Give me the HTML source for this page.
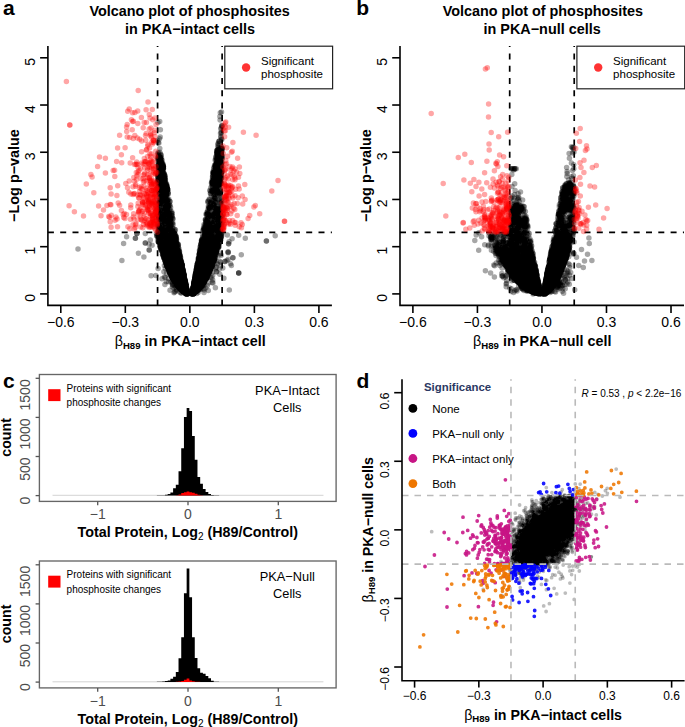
<!DOCTYPE html>
<html><head><meta charset="utf-8"><style>
html,body{margin:0;padding:0;background:#fff;width:685px;height:727px;overflow:hidden}
svg{display:block}
text{font-family:"Liberation Sans", sans-serif}
</style></head><body>
<svg width="685" height="727" viewBox="0 0 685 727">
<text x="2.90" y="14.70" font-size="21" font-weight="bold">a</text>
<text x="189.60" y="16.30" font-size="14.4" font-weight="bold" text-anchor="middle">Volcano plot of phosphosites</text>
<text x="190.00" y="33.90" font-size="14.4" font-weight="bold" text-anchor="middle">in PKA−intact cells</text>
<line x1="157.58" y1="305.40" x2="157.58" y2="46.10" stroke="#000" stroke-width="1.7" stroke-dasharray="6 6.3"/>
<line x1="222.12" y1="305.40" x2="222.12" y2="46.10" stroke="#000" stroke-width="1.7" stroke-dasharray="6 6.3"/>
<line x1="47.90" y1="232.47" x2="331.90" y2="232.47" stroke="#000" stroke-width="1.7" stroke-dasharray="6 6.3"/>
<text x="356.20" y="14.70" font-size="21" font-weight="bold">b</text>
<text x="542.90" y="16.30" font-size="14.4" font-weight="bold" text-anchor="middle">Volcano plot of phosphosites</text>
<text x="542.10" y="33.90" font-size="14.4" font-weight="bold" text-anchor="middle">in PKA−null cells</text>
<line x1="509.69" y1="305.40" x2="509.69" y2="46.10" stroke="#000" stroke-width="1.7" stroke-dasharray="6 6.3"/>
<line x1="574.22" y1="305.40" x2="574.22" y2="46.10" stroke="#000" stroke-width="1.7" stroke-dasharray="6 6.3"/>
<line x1="400.00" y1="232.47" x2="684.00" y2="232.47" stroke="#000" stroke-width="1.7" stroke-dasharray="6 6.3"/>
<clipPath id="clipa"><rect x="47.90" y="46.10" width="284.00" height="259.30"/></clipPath><g clip-path="url(#clipa)"><path fill="#000" d="M219 145.5h0.5v0.5h-0.5zM220 146h1.5v0.5h-1.5zM219 146.5h3v0.5h-3zM218.5 147h4.5v0.5h-4.5zM217.5 147.5h5.5v0.5h-5.5zM217 148h6v0.5h-6zM216 148.5h7v0.5h-7zM216 149h7.5v0.5h-7.5zM215.5 149.5h7.5v0.5h-7.5zM215.5 150h8v0.5h-8zM215 150.5h8.5v0.5h-8.5zM215 151h8.5v0.5h-8.5zM215 151.5h8.5v0.5h-8.5zM214.5 152h9v0.5h-9zM215 152.5h8.5v0.5h-8.5zM215 153h8.5v0.5h-8.5zM158.5 153.5h2v0.5h-2zM215 153.5h8.5v0.5h-8.5zM158.5 154h2v0.5h-2zM215 154h8.5v0.5h-8.5zM158 154.5h2.5v0.5h-2.5zM215 154.5h8.5v0.5h-8.5zM157.5 155h4v0.5h-4zM215 155h8.5v0.5h-8.5zM157.5 155.5h4v0.5h-4zM215 155.5h8.5v0.5h-8.5zM157 156h5v0.5h-5zM215 156h9v0.5h-9zM157 156.5h5.5v0.5h-5.5zM215 156.5h8.5v0.5h-8.5zM156.5 157h6v0.5h-6zM215 157h8.5v0.5h-8.5zM157 157.5h6v0.5h-6zM215 157.5h8.5v0.5h-8.5zM156.5 158h6.5v0.5h-6.5zM215 158h8v0.5h-8zM157 158.5h6v0.5h-6zM214.5 158.5h8v0.5h-8zM157 159h6v0.5h-6zM214.5 159h8v0.5h-8zM157 159.5h6v0.5h-6zM215 159.5h7.5v0.5h-7.5zM157.5 160h5.5v0.5h-5.5zM215 160h7.5v0.5h-7.5zM157.5 160.5h5.5v0.5h-5.5zM215 160.5h8v0.5h-8zM157 161h6.5v0.5h-6.5zM215 161h8v0.5h-8zM157 161.5h6.5v0.5h-6.5zM214.5 161.5h8.5v0.5h-8.5zM157 162h6.5v0.5h-6.5zM214 162h9v0.5h-9zM157 162.5h7v0.5h-7zM214 162.5h9v0.5h-9zM157 163h7v0.5h-7zM214 163h9v0.5h-9zM157 163.5h7.5v0.5h-7.5zM214 163.5h9v0.5h-9zM157 164h8v0.5h-8zM213.5 164h9.5v0.5h-9.5zM157 164.5h8v0.5h-8zM213.5 164.5h9.5v0.5h-9.5zM156.5 165h8.5v0.5h-8.5zM213 165h10v0.5h-10zM156.5 165.5h9v0.5h-9zM213 165.5h9.5v0.5h-9.5zM156.5 166h9v0.5h-9zM213 166h10v0.5h-10zM156.5 166.5h9v0.5h-9zM213 166.5h10v0.5h-10zM157 167h8.5v0.5h-8.5zM213 167h10.5v0.5h-10.5zM157 167.5h8.5v0.5h-8.5zM213 167.5h10.5v0.5h-10.5zM157 168h8.5v0.5h-8.5zM213 168h10.5v0.5h-10.5zM157 168.5h8v0.5h-8zM213 168.5h10.5v0.5h-10.5zM157 169h8v0.5h-8zM213.5 169h10v0.5h-10zM157 169.5h8v0.5h-8zM213 169.5h10.5v0.5h-10.5zM157.5 170h7.5v0.5h-7.5zM212.5 170h11v0.5h-11zM158.5 170.5h6.5v0.5h-6.5zM212 170.5h12v0.5h-12zM158 171h7v0.5h-7zM212 171h11.5v0.5h-11.5zM158 171.5h7v0.5h-7zM211.5 171.5h12.5v0.5h-12.5zM157 172h8v0.5h-8zM211.5 172h12.5v0.5h-12.5zM157 172.5h8.5v0.5h-8.5zM211 172.5h12.5v0.5h-12.5zM156.5 173h9.5v0.5h-9.5zM211.5 173h12v0.5h-12zM156.5 173.5h10v0.5h-10zM211 173.5h12.5v0.5h-12.5zM156.5 174h10v0.5h-10zM211.5 174h11.5v0.5h-11.5zM157 174.5h9.5v0.5h-9.5zM211.5 174.5h11.5v0.5h-11.5zM156.5 175h10v0.5h-10zM212 175h10.5v0.5h-10.5zM156.5 175.5h10v0.5h-10zM212 175.5h10.5v0.5h-10.5zM156.5 176h10v0.5h-10zM212 176h11v0.5h-11zM156.5 176.5h10.5v0.5h-10.5zM212 176.5h10.5v0.5h-10.5zM157 177h9.5v0.5h-9.5zM212 177h11v0.5h-11zM157 177.5h10v0.5h-10zM212 177.5h11v0.5h-11zM156.5 178h10.5v0.5h-10.5zM211.5 178h11v0.5h-11zM156.5 178.5h10.5v0.5h-10.5zM211 178.5h11.5v0.5h-11.5zM156 179h11v0.5h-11zM211 179h11v0.5h-11zM156 179.5h11v0.5h-11zM211 179.5h11v0.5h-11zM156 180h10.5v0.5h-10.5zM210.5 180h11.5v0.5h-11.5zM156 180.5h11v0.5h-11zM210.5 180.5h11.5v0.5h-11.5zM156 181h11v0.5h-11zM210 181h12v0.5h-12zM156 181.5h11v0.5h-11zM210 181.5h12.5v0.5h-12.5zM156 182h11v0.5h-11zM210 182h12.5v0.5h-12.5zM156 182.5h11.5v0.5h-11.5zM210 182.5h12.5v0.5h-12.5zM156.5 183h11v0.5h-11zM210 183h12.5v0.5h-12.5zM157 183.5h11v0.5h-11zM210.5 183.5h12v0.5h-12zM157 184h11.5v0.5h-11.5zM210 184h12.5v0.5h-12.5zM157.5 184.5h11v0.5h-11zM210.5 184.5h12v0.5h-12zM157 185h11.5v0.5h-11.5zM211 185h11v0.5h-11zM157 185.5h11.5v0.5h-11.5zM211.5 185.5h10v0.5h-10zM157 186h12v0.5h-12zM212.5 186h9v0.5h-9zM156.5 186.5h12.5v0.5h-12.5zM213 186.5h2.5v0.5h-2.5zM216 186.5h5v0.5h-5zM156.5 187h13v0.5h-13zM213 187h6.5v0.5h-6.5zM156 187.5h13.5v0.5h-13.5zM212.5 187.5h6.5v0.5h-6.5zM156.5 188h13v0.5h-13zM211.5 188h7.5v0.5h-7.5zM156.5 188.5h13v0.5h-13zM211 188.5h8v0.5h-8zM157 189h12.5v0.5h-12.5zM210.5 189h9v0.5h-9zM157 189.5h12.5v0.5h-12.5zM210.5 189.5h9v0.5h-9zM157.5 190h12v0.5h-12zM210.5 190h7v0.5h-7zM218 190h1.5v0.5h-1.5zM158 190.5h11.5v0.5h-11.5zM210 190.5h10v0.5h-10zM157.5 191h12v0.5h-12zM210 191h10v0.5h-10zM158.5 191.5h11v0.5h-11zM210 191.5h11v0.5h-11zM158.5 192h0.5v0.5h-0.5zM159.5 192h9.5v0.5h-9.5zM210 192h10.5v0.5h-10.5zM160.5 192.5h8.5v0.5h-8.5zM210 192.5h1v0.5h-1zM211.5 192.5h9v0.5h-9zM160.5 193h8.5v0.5h-8.5zM211 193h1v0.5h-1zM212.5 193h2v0.5h-2zM215 193h6v0.5h-6zM160 193.5h9v0.5h-9zM212 193.5h1v0.5h-1zM213.5 193.5h1v0.5h-1zM215 193.5h5.5v0.5h-5.5zM159.5 194h9.5v0.5h-9.5zM212.5 194h0.5v0.5h-0.5zM214 194h6.5v0.5h-6.5zM159.5 194.5h9.5v0.5h-9.5zM212.5 194.5h0.5v0.5h-0.5zM215 194.5h0.5v0.5h-0.5zM217 194.5h1.5v0.5h-1.5zM159.5 195h9.5v0.5h-9.5zM215 195h1v0.5h-1zM217 195h0.5v0.5h-0.5zM220 195h0.5v0.5h-0.5zM159.5 195.5h9v0.5h-9zM213 195.5h1v0.5h-1zM214.5 195.5h2v0.5h-2zM160 196h8.5v0.5h-8.5zM213 196h3.5v0.5h-3.5zM159.5 196.5h8v0.5h-8zM213.5 196.5h2.5v0.5h-2.5zM159.5 197h8.5v0.5h-8.5zM213 197h0.5v0.5h-0.5zM160 197.5h8v0.5h-8zM212.5 197.5h1v0.5h-1zM159.5 198h9v0.5h-9zM212.5 198h2v0.5h-2zM215.5 198h0.5v0.5h-0.5zM159 198.5h9.5v0.5h-9.5zM212.5 198.5h3v0.5h-3zM159 199h10v0.5h-10zM213 199h3v0.5h-3zM159 199.5h10.5v0.5h-10.5zM213.5 199.5h2.5v0.5h-2.5zM158.5 200h11v0.5h-11zM214 200h3v0.5h-3zM158 200.5h11.5v0.5h-11.5zM209 200.5h2.5v0.5h-2.5zM215.5 200.5h1v0.5h-1zM220 200.5h0.5v0.5h-0.5zM158 201h12v0.5h-12zM209 201h2.5v0.5h-2.5zM213 201h0.5v0.5h-0.5zM214 201h0.5v0.5h-0.5zM219.5 201h0.5v0.5h-0.5zM158 201.5h5.5v0.5h-5.5zM164 201.5h5.5v0.5h-5.5zM208.5 201.5h2.5v0.5h-2.5zM211.5 201.5h2.5v0.5h-2.5zM157 202h6.5v0.5h-6.5zM164 202h5v0.5h-5zM208.5 202h2v0.5h-2zM211.5 202h3v0.5h-3zM157 202.5h7v0.5h-7zM164.5 202.5h5v0.5h-5zM208.5 202.5h2v0.5h-2zM211.5 202.5h4v0.5h-4zM157 203h13v0.5h-13zM208.5 203h1.5v0.5h-1.5zM211.5 203h4v0.5h-4zM157.5 203.5h5.5v0.5h-5.5zM165.5 203.5h4.5v0.5h-4.5zM208.5 203.5h1v0.5h-1zM211.5 203.5h4.5v0.5h-4.5zM157.5 204h5v0.5h-5zM164 204h0.5v0.5h-0.5zM165 204h5.5v0.5h-5.5zM209 204h1v0.5h-1zM211 204h2v0.5h-2zM214 204h2.5v0.5h-2.5zM158 204.5h4.5v0.5h-4.5zM164 204.5h6v0.5h-6zM209 204.5h4v0.5h-4zM214.5 204.5h1v0.5h-1zM159 205h3v0.5h-3zM162.5 205h7.5v0.5h-7.5zM208 205h5v0.5h-5zM213.5 205h2.5v0.5h-2.5zM159.5 205.5h1v0.5h-1zM161.5 205.5h0.5v0.5h-0.5zM163.5 205.5h6.5v0.5h-6.5zM208.5 205.5h7.5v0.5h-7.5zM161 206h0.5v0.5h-0.5zM163 206h7.5v0.5h-7.5zM208 206h8.5v0.5h-8.5zM163 206.5h7.5v0.5h-7.5zM207.5 206.5h10.5v0.5h-10.5zM219 206.5h0.5v0.5h-0.5zM163 207h7.5v0.5h-7.5zM207.5 207h4v0.5h-4zM212 207h9.5v0.5h-9.5zM163 207.5h7.5v0.5h-7.5zM207.5 207.5h4v0.5h-4zM212 207.5h0.5v0.5h-0.5zM214.5 207.5h6.5v0.5h-6.5zM163 208h7v0.5h-7zM207.5 208h5v0.5h-5zM214 208h8v0.5h-8zM159.5 208.5h1v0.5h-1zM161 208.5h9v0.5h-9zM207 208.5h5.5v0.5h-5.5zM213.5 208.5h9v0.5h-9zM159 209h1.5v0.5h-1.5zM161.5 209h8.5v0.5h-8.5zM207 209h4.5v0.5h-4.5zM213.5 209h8.5v0.5h-8.5zM158 209.5h2.5v0.5h-2.5zM162.5 209.5h7v0.5h-7zM207.5 209.5h3.5v0.5h-3.5zM213.5 209.5h8.5v0.5h-8.5zM158 210h3v0.5h-3zM162 210h7.5v0.5h-7.5zM207.5 210h2.5v0.5h-2.5zM213.5 210h7.5v0.5h-7.5zM158 210.5h3v0.5h-3zM161.5 210.5h1v0.5h-1zM163.5 210.5h6.5v0.5h-6.5zM209 210.5h1v0.5h-1zM214 210.5h7v0.5h-7zM158 211h4.5v0.5h-4.5zM163.5 211h7.5v0.5h-7.5zM213.5 211h8v0.5h-8zM158 211.5h3.5v0.5h-3.5zM162 211.5h0.5v0.5h-0.5zM163.5 211.5h7.5v0.5h-7.5zM206.5 211.5h2.5v0.5h-2.5zM213.5 211.5h7.5v0.5h-7.5zM160 212h2v0.5h-2zM162.5 212h8.5v0.5h-8.5zM205.5 212h3.5v0.5h-3.5zM213 212h8v0.5h-8zM158.5 212.5h0.5v0.5h-0.5zM160 212.5h11v0.5h-11zM205 212.5h5v0.5h-5zM212.5 212.5h9v0.5h-9zM159 213h1v0.5h-1zM160.5 213h0.5v0.5h-0.5zM161.5 213h10.5v0.5h-10.5zM205 213h5.5v0.5h-5.5zM211.5 213h10v0.5h-10zM158 213.5h3.5v0.5h-3.5zM162 213.5h10v0.5h-10zM205 213.5h6.5v0.5h-6.5zM212 213.5h8.5v0.5h-8.5zM157.5 214h3v0.5h-3zM161 214h11v0.5h-11zM205.5 214h16.5v0.5h-16.5zM158 214.5h14v0.5h-14zM206 214.5h15.5v0.5h-15.5zM157.5 215h14.5v0.5h-14.5zM207 215h14.5v0.5h-14.5zM157 215.5h15v0.5h-15zM206.5 215.5h15.5v0.5h-15.5zM156.5 216h15.5v0.5h-15.5zM206 216h9v0.5h-9zM215.5 216h0.5v0.5h-0.5zM216.5 216h5.5v0.5h-5.5zM157 216.5h16v0.5h-16zM206.5 216.5h0.5v0.5h-0.5zM207.5 216.5h7v0.5h-7zM216 216.5h6v0.5h-6zM157 217h16v0.5h-16zM206 217h1v0.5h-1zM208 217h0.5v0.5h-0.5zM209.5 217h6.5v0.5h-6.5zM216.5 217h5.5v0.5h-5.5zM157 217.5h9.5v0.5h-9.5zM167 217.5h6v0.5h-6zM205.5 217.5h2v0.5h-2zM208 217.5h1v0.5h-1zM209.5 217.5h9v0.5h-9zM219 217.5h2.5v0.5h-2.5zM157.5 218h15.5v0.5h-15.5zM205 218h3v0.5h-3zM208.5 218h2v0.5h-2zM212 218h6.5v0.5h-6.5zM219 218h3v0.5h-3zM157.5 218.5h14.5v0.5h-14.5zM205 218.5h3v0.5h-3zM209 218.5h0.5v0.5h-0.5zM213 218.5h2v0.5h-2zM216.5 218.5h5.5v0.5h-5.5zM157.5 219h15v0.5h-15zM205.5 219h3v0.5h-3zM214 219h1v0.5h-1zM216.5 219h5.5v0.5h-5.5zM158.5 219.5h14.5v0.5h-14.5zM204.5 219.5h4v0.5h-4zM212.5 219.5h1v0.5h-1zM214.5 219.5h3v0.5h-3zM218 219.5h2.5v0.5h-2.5zM159 220h14v0.5h-14zM204.5 220h5.5v0.5h-5.5zM212 220h1.5v0.5h-1.5zM214.5 220h2.5v0.5h-2.5zM217.5 220h3.5v0.5h-3.5zM158.5 220.5h14v0.5h-14zM204.5 220.5h5.5v0.5h-5.5zM212 220.5h2v0.5h-2zM216 220.5h5v0.5h-5zM159 221h1.5v0.5h-1.5zM161 221h11.5v0.5h-11.5zM204.5 221h5v0.5h-5zM211.5 221h2.5v0.5h-2.5zM215 221h6.5v0.5h-6.5zM159 221.5h0.5v0.5h-0.5zM162.5 221.5h9.5v0.5h-9.5zM204.5 221.5h6v0.5h-6zM211.5 221.5h5.5v0.5h-5.5zM217.5 221.5h4.5v0.5h-4.5zM162 222h10.5v0.5h-10.5zM204.5 222h4.5v0.5h-4.5zM209.5 222h5v0.5h-5zM216 222h1v0.5h-1zM217.5 222h4.5v0.5h-4.5zM162 222.5h10.5v0.5h-10.5zM204.5 222.5h10v0.5h-10zM215 222.5h0.5v0.5h-0.5zM216.5 222.5h0.5v0.5h-0.5zM217.5 222.5h4.5v0.5h-4.5zM161.5 223h3v0.5h-3zM165 223h7.5v0.5h-7.5zM204.5 223h9.5v0.5h-9.5zM214.5 223h0.5v0.5h-0.5zM216.5 223h5v0.5h-5zM160 223.5h1v0.5h-1zM161.5 223.5h3v0.5h-3zM165.5 223.5h7.5v0.5h-7.5zM204 223.5h8.5v0.5h-8.5zM213 223.5h0.5v0.5h-0.5zM214 223.5h1v0.5h-1zM215.5 223.5h6v0.5h-6zM159.5 224h2v0.5h-2zM162.5 224h1.5v0.5h-1.5zM166 224h6.5v0.5h-6.5zM204 224h8.5v0.5h-8.5zM214 224h1.5v0.5h-1.5zM216 224h5v0.5h-5zM159.5 224.5h1.5v0.5h-1.5zM162.5 224.5h2v0.5h-2zM165.5 224.5h0.5v0.5h-0.5zM166.5 224.5h6v0.5h-6zM204 224.5h7.5v0.5h-7.5zM215 224.5h6.5v0.5h-6.5zM158.5 225h3v0.5h-3zM163 225h4v0.5h-4zM167.5 225h5v0.5h-5zM203.5 225h18v0.5h-18zM158 225.5h2.5v0.5h-2.5zM161 225.5h1v0.5h-1zM163.5 225.5h3v0.5h-3zM167 225.5h5.5v0.5h-5.5zM203.5 225.5h9v0.5h-9zM213 225.5h9v0.5h-9zM158 226h4v0.5h-4zM163 226h0.5v0.5h-0.5zM164 226h0.5v0.5h-0.5zM165 226h0.5v0.5h-0.5zM166 226h0.5v0.5h-0.5zM167 226h6v0.5h-6zM203.5 226h18v0.5h-18zM157.5 226.5h7v0.5h-7zM166.5 226.5h0.5v0.5h-0.5zM167.5 226.5h5v0.5h-5zM203.5 226.5h18v0.5h-18zM157.5 227h7v0.5h-7zM167 227h5.5v0.5h-5.5zM203 227h17.5v0.5h-17.5zM157.5 227.5h8v0.5h-8zM166 227.5h6.5v0.5h-6.5zM202.5 227.5h18.5v0.5h-18.5zM157.5 228h15v0.5h-15zM202.5 228h17.5v0.5h-17.5zM157.5 228.5h15.5v0.5h-15.5zM202 228.5h19v0.5h-19zM157.5 229h17v0.5h-17zM202 229h19v0.5h-19zM157.5 229.5h9.5v0.5h-9.5zM167.5 229.5h7.5v0.5h-7.5zM202 229.5h19v0.5h-19zM157.5 230h17v0.5h-17zM202.5 230h18.5v0.5h-18.5zM158 230.5h16.5v0.5h-16.5zM202.5 230.5h19.5v0.5h-19.5zM157.5 231h17.5v0.5h-17.5zM202.5 231h18v0.5h-18zM157 231.5h18.5v0.5h-18.5zM202.5 231.5h10.5v0.5h-10.5zM213.5 231.5h7.5v0.5h-7.5zM157 232h11.5v0.5h-11.5zM169 232h5.5v0.5h-5.5zM202.5 232h11v0.5h-11zM215 232h7v0.5h-7zM156.5 232.5h19v0.5h-19zM203 232.5h10.5v0.5h-10.5zM214.5 232.5h0.5v0.5h-0.5zM215.5 232.5h6v0.5h-6zM156.5 233h19.5v0.5h-19.5zM203 233h9v0.5h-9zM212.5 233h1v0.5h-1zM216.5 233h5v0.5h-5zM156 233.5h20v0.5h-20zM202.5 233.5h10.5v0.5h-10.5zM216 233.5h5.5v0.5h-5.5zM156 234h21v0.5h-21zM202.5 234h11.5v0.5h-11.5zM216.5 234h5.5v0.5h-5.5zM156 234.5h21v0.5h-21zM202.5 234.5h5.5v0.5h-5.5zM208.5 234.5h6v0.5h-6zM215.5 234.5h2v0.5h-2zM218 234.5h4.5v0.5h-4.5zM156 235h21.5v0.5h-21.5zM202.5 235h5v0.5h-5zM208.5 235h6v0.5h-6zM215.5 235h7.5v0.5h-7.5zM155.5 235.5h21.5v0.5h-21.5zM202.5 235.5h20.5v0.5h-20.5zM156 236h21.5v0.5h-21.5zM202.5 236h20v0.5h-20zM156 236.5h21.5v0.5h-21.5zM202.5 236.5h20v0.5h-20zM156 237h22v0.5h-22zM201.5 237h21v0.5h-21zM156.5 237.5h21.5v0.5h-21.5zM201.5 237.5h21v0.5h-21zM156.5 238h21.5v0.5h-21.5zM201 238h21.5v0.5h-21.5zM157 238.5h21v0.5h-21zM200.5 238.5h21.5v0.5h-21.5zM157 239h6v0.5h-6zM163.5 239h14v0.5h-14zM200 239h21.5v0.5h-21.5zM157 239.5h20.5v0.5h-20.5zM200 239.5h21.5v0.5h-21.5zM157 240h20.5v0.5h-20.5zM199.5 240h21.5v0.5h-21.5zM157 240.5h21v0.5h-21zM200 240.5h20.5v0.5h-20.5zM157.5 241h20.5v0.5h-20.5zM199.5 241h21v0.5h-21zM157 241.5h21.5v0.5h-21.5zM199.5 241.5h21.5v0.5h-21.5zM158 242h20.5v0.5h-20.5zM199.5 242h20.5v0.5h-20.5zM158.5 242.5h20v0.5h-20zM199.5 242.5h20.5v0.5h-20.5zM158 243h20.5v0.5h-20.5zM199.5 243h20.5v0.5h-20.5zM158 243.5h20.5v0.5h-20.5zM200 243.5h20v0.5h-20zM158 244h21v0.5h-21zM200 244h20.5v0.5h-20.5zM158 244.5h21v0.5h-21zM199 244.5h21.5v0.5h-21.5zM158.5 245h20.5v0.5h-20.5zM199 245h21.5v0.5h-21.5zM158.5 245.5h21v0.5h-21zM199 245.5h21.5v0.5h-21.5zM158.5 246h21v0.5h-21zM199 246h21.5v0.5h-21.5zM158.5 246.5h21v0.5h-21zM199 246.5h21v0.5h-21zM158.5 247h21v0.5h-21zM199 247h21.5v0.5h-21.5zM158.5 247.5h20.5v0.5h-20.5zM198.5 247.5h21v0.5h-21zM158.5 248h20v0.5h-20zM179 248h0.5v0.5h-0.5zM198.5 248h21v0.5h-21zM159 248.5h21v0.5h-21zM198.5 248.5h21v0.5h-21zM159 249h21v0.5h-21zM198.5 249h21v0.5h-21zM159 249.5h21.5v0.5h-21.5zM198.5 249.5h20.5v0.5h-20.5zM159.5 250h21v0.5h-21zM198.5 250h20.5v0.5h-20.5zM160 250.5h20.5v0.5h-20.5zM198 250.5h20.5v0.5h-20.5zM160.5 251h20v0.5h-20zM198 251h20.5v0.5h-20.5zM160.5 251.5h20v0.5h-20zM198 251.5h21v0.5h-21zM160.5 252h20v0.5h-20zM197.5 252h21v0.5h-21zM160.5 252.5h21v0.5h-21zM197.5 252.5h21v0.5h-21zM160.5 253h21v0.5h-21zM197.5 253h21v0.5h-21zM161 253.5h20.5v0.5h-20.5zM197.5 253.5h20.5v0.5h-20.5zM161 254h20.5v0.5h-20.5zM197.5 254h20.5v0.5h-20.5zM161 254.5h20.5v0.5h-20.5zM197.5 254.5h19.5v0.5h-19.5zM161 255h20.5v0.5h-20.5zM197.5 255h19.5v0.5h-19.5zM161.5 255.5h20.5v0.5h-20.5zM197 255.5h20v0.5h-20zM161.5 256h20.5v0.5h-20.5zM197 256h20v0.5h-20zM161.5 256.5h20.5v0.5h-20.5zM197 256.5h20v0.5h-20zM161.5 257h20.5v0.5h-20.5zM196.5 257h20v0.5h-20zM162 257.5h20v0.5h-20zM196.5 257.5h20v0.5h-20zM162 258h20.5v0.5h-20.5zM196.5 258h20v0.5h-20zM162 258.5h20.5v0.5h-20.5zM196.5 258.5h20v0.5h-20zM162.5 259h20v0.5h-20zM196 259h20.5v0.5h-20.5zM162.5 259.5h20.5v0.5h-20.5zM196.5 259.5h20v0.5h-20zM163 260h20v0.5h-20zM196 260h20.5v0.5h-20.5zM163 260.5h20v0.5h-20zM196 260.5h20.5v0.5h-20.5zM163.5 261h19.5v0.5h-19.5zM196 261h20v0.5h-20zM163.5 261.5h20v0.5h-20zM196 261.5h20v0.5h-20zM163.5 262h20v0.5h-20zM195.5 262h20.5v0.5h-20.5zM163.5 262.5h20.5v0.5h-20.5zM195.5 262.5h20v0.5h-20zM163.5 263h20.5v0.5h-20.5zM195 263h20v0.5h-20zM164 263.5h20.5v0.5h-20.5zM195.5 263.5h19.5v0.5h-19.5zM164 264h20.5v0.5h-20.5zM195.5 264h19.5v0.5h-19.5zM164 264.5h20.5v0.5h-20.5zM195 264.5h19.5v0.5h-19.5zM164 265h20.5v0.5h-20.5zM195 265h19.5v0.5h-19.5zM164.5 265.5h20v0.5h-20zM195 265.5h19.5v0.5h-19.5zM164.5 266h20v0.5h-20zM195 266h19.5v0.5h-19.5zM164.5 266.5h20v0.5h-20zM194.5 266.5h20v0.5h-20zM164.5 267h20v0.5h-20zM194.5 267h19.5v0.5h-19.5zM165 267.5h20v0.5h-20zM194.5 267.5h19.5v0.5h-19.5zM165.5 268h19.5v0.5h-19.5zM194.5 268h19v0.5h-19zM165.5 268.5h19.5v0.5h-19.5zM194.5 268.5h19v0.5h-19zM166 269h19v0.5h-19zM194 269h19v0.5h-19zM166 269.5h19.5v0.5h-19.5zM194 269.5h18.5v0.5h-18.5zM166.5 270h19v0.5h-19zM194 270h18.5v0.5h-18.5zM166.5 270.5h19v0.5h-19zM194 270.5h18.5v0.5h-18.5zM167 271h18.5v0.5h-18.5zM194 271h18v0.5h-18zM167 271.5h18.5v0.5h-18.5zM194 271.5h18v0.5h-18zM167 272h19v0.5h-19zM193.5 272h18v0.5h-18zM167 272.5h19v0.5h-19zM193.5 272.5h18v0.5h-18zM167.5 273h18.5v0.5h-18.5zM193 273h18v0.5h-18zM167.5 273.5h18.5v0.5h-18.5zM193 273.5h18v0.5h-18zM168 274h18.5v0.5h-18.5zM193 274h17.5v0.5h-17.5zM168 274.5h18.5v0.5h-18.5zM193 274.5h17.5v0.5h-17.5zM168.5 275h18v0.5h-18zM193 275h17v0.5h-17zM168.5 275.5h18v0.5h-18zM193 275.5h17v0.5h-17zM169 276h17.5v0.5h-17.5zM193 276h16.5v0.5h-16.5zM169 276.5h17.5v0.5h-17.5zM192.5 276.5h17v0.5h-17zM169.5 277h17v0.5h-17zM192.5 277h17v0.5h-17zM169.5 277.5h17.5v0.5h-17.5zM192.5 277.5h17v0.5h-17zM170 278h17v0.5h-17zM192.5 278h16.5v0.5h-16.5zM170 278.5h17v0.5h-17zM192 278.5h17v0.5h-17zM170.5 279h16.5v0.5h-16.5zM192 279h17v0.5h-17zM170.5 279.5h17v0.5h-17zM192 279.5h16.5v0.5h-16.5zM171 280h16.5v0.5h-16.5zM192 280h16v0.5h-16zM171.5 280.5h16v0.5h-16zM192 280.5h15.5v0.5h-15.5zM171.5 281h16v0.5h-16zM192 281h15v0.5h-15zM172 281.5h16v0.5h-16zM191.5 281.5h15.5v0.5h-15.5zM172 282h16v0.5h-16zM191.5 282h15.5v0.5h-15.5zM172.5 282.5h15.5v0.5h-15.5zM191.5 282.5h15v0.5h-15zM172.5 283h15.5v0.5h-15.5zM191 283h15.5v0.5h-15.5zM173 283.5h15v0.5h-15zM191 283.5h15v0.5h-15zM173.5 284h15v0.5h-15zM191 284h15v0.5h-15zM173.5 284.5h15v0.5h-15zM191 284.5h14.5v0.5h-14.5zM173.5 285h15v0.5h-15zM191 285h14v0.5h-14zM174 285.5h14.5v0.5h-14.5zM191 285.5h14v0.5h-14zM174.5 286h14.5v0.5h-14.5zM191 286h13.5v0.5h-13.5zM175 286.5h14v0.5h-14zM190.5 286.5h14v0.5h-14zM175 287h14v0.5h-14zM190.5 287h13.5v0.5h-13.5zM175.5 287.5h13.5v0.5h-13.5zM190.5 287.5h13v0.5h-13zM176 288h13v0.5h-13zM190.5 288h13v0.5h-13zM176.5 288.5h13v0.5h-13zM190 288.5h12.5v0.5h-12.5zM177 289h12.5v0.5h-12.5zM190 289h12.5v0.5h-12.5zM177.5 289.5h12v0.5h-12zM190 289.5h12v0.5h-12zM177.5 290h12v0.5h-12zM190 290h11.5v0.5h-11.5zM178 290.5h23v0.5h-23zM179 291h21.5v0.5h-21.5zM179.5 291.5h20.5v0.5h-20.5zM180 292h19.5v0.5h-19.5zM180.5 292.5h18.5v0.5h-18.5zM181 293h17.5v0.5h-17.5zM181.5 293.5h16.5v0.5h-16.5zM182.5 294h14.5v0.5h-14.5zM183 294.5h13.5v0.5h-13.5zM183.5 295h12.5v0.5h-12.5zM184 295.5h5.5v0.5h-5.5zM190.5 295.5h5.5v0.5h-5.5zM185 296h3.5v0.5h-3.5zM191.5 296h3.5v0.5h-3.5z"/><g fill="none" stroke="#000" stroke-opacity="0.35" stroke-width="5.5" stroke-linecap="round"><path d="M143.9 257h0M171.1 275h0M207.1 235.7h0M158.4 216.9h0M179.6 288.4h0M160.9 247.9h0M165.3 268.4h0M186.6 288.2h0M221.1 177.7h0M183.9 274.1h0M220.1 202.3h0M220.1 241.9h0M213.6 261.3h0M198.5 289.7h0M220.5 253.2h0M195 276.1h0M170.8 218.6h0M162.8 253.1h0M198.7 259.1h0M210 208.3h0M162.5 225.3h0M214.9 234.3h0M168.5 206h0M193.2 287.4h0M199.7 251.5h0M197.3 265.9h0M176 242.7h0M209 224.1h0M226.9 260.4h0M174.6 229.2h0M217 223.8h0M179.2 251.5h0M221.5 228.3h0M182.3 267.6h0M212.5 181.4h0M204.2 282.1h0M185.7 293.8h0M213.2 172.2h0M211.7 190.6h0M222.8 268.1h0M158.6 236.4h0M203.3 230.2h0M200.7 245.2h0M168 229.5h0M229.3 290.1h0M172.5 283.3h0M207.9 277.1h0M185.2 281.5h0M180.1 259.8h0M209.8 270.5h0M165.2 260.6h0M215.9 217.7h0M165.5 211.7h0M220.4 189.4h0M212.2 282.5h0M211.4 214h0M157.7 204.9h0M227.3 234.9h0M193.9 293.8h0M202.3 239.2h0M152.1 245.2h0M150.3 240h0M208.3 290.4h0M164.7 239.6h0M215.3 269h0M164.5 217.5h0M221.7 216.9h0M176.2 236.2h0M215.4 287.7h0M164.4 277.1h0M217.6 247.9h0M217.6 208.5h0M161.8 198.3h0M174 292.8h0M194.4 281.7h0M220.6 234.6h0M232.1 238.8h0M158.1 268.6h0M151.1 275.7h0M221.9 170.8h0M223.9 278.3h0M157.9 153.5h0M157.7 189.9h0M219.3 261.1h0M219.8 274.3h0M164.9 284.5h0M168.2 193.8h0M209.3 199.1h0M228.2 252.8h0M159.1 174.8h0M158.1 210.5h0M167.2 200h0M158.8 165.1h0M161.2 159.8h0M164.6 180.9h0M167.3 186.7h0M157.8 183.1h0M158.3 230.9h0M158.6 242.3h0M157.6 140.6h0M171.7 211.7h0M162.6 169.2h0M157.9 122.5h0M160.4 129.8h0M220.7 162.1h0M215.3 166.8h0M205.6 219.7h0M215 198.6h0M218.5 145.9h0M216.9 151.4h0M220.5 183.2h0M219.9 195.4h0M219.9 116.4h0M220.8 136.5h0M221.2 127.8h0M217.2 157.5h0M211.5 229.8h0M78 249h0M266.4 241h0M275.2 235.8h0M238.7 273.1h0M121.9 260.4h0M138.4 253.3h0M232.9 257.8h0M241.3 254.7h0M231.4 265.6h0M245.3 238.2h0M238.7 235.3h0M228.6 243.8h0M123.6 243.4h0M126.6 236.8h0M136.9 233.5h0M145.3 233.5h0M145.3 242.9h0M149.2 250h0"/><path d="M172.2 277.5h0M185.7 283.4h0M160.1 246.5h0M163.1 252.6h0M203.6 288.7h0M216.3 252.4h0M213.9 260.7h0M166.4 265.2h0M183.2 271.2h0M208.3 206.4h0M198.1 260.1h0M199.7 252.9h0M193.8 283.1h0M204.8 233.8h0M196.4 269.6h0M221.2 224.5h0M197.2 291.2h0M178.9 253.6h0M210.5 232.6h0M170.9 225.6h0M228.2 259.2h0M200.3 247.2h0M181.5 262.9h0M161.8 226h0M214 237.4h0M205 281.1h0M195.1 277h0M206.1 225.5h0M176.9 285.5h0M219.3 231.3h0M161.2 215.5h0M183.3 291.8h0M218 244.8h0M173.4 232h0M156.4 233.4h0M210 269.8h0M165 202.5h0M178.3 247.1h0M207.5 275.6h0M220.5 237.5h0M158.4 238.6h0M168.3 212.5h0M219 265.1h0M201.9 241.5h0M169.3 271.1h0M191.9 293.8h0M157.8 200.6h0M212.3 215.1h0M211.2 191.5h0M220.3 217.7h0M149.1 244.3h0M176.6 239.4h0M207.2 220.1h0M213.4 173.2h0M221.2 255.3h0M219.7 208.1h0M162 278.8h0M159.1 209.4h0M168.5 281.8h0M170.2 218.8h0M212 223.3h0M212.7 280h0M170 290.3h0M164.3 258.2h0M184.3 277.6h0M155.8 275.4h0M212.1 186.1h0M218.7 184.9h0M166.7 230.3h0M164.8 239.7h0M229.1 241.7h0M158.2 188h0M158.2 152.4h0M158.9 167.1h0M166.6 194.1h0M162.7 171.9h0M157.7 176h0M170.2 205.6h0M159.9 194.5h0M157.9 159.9h0M166.3 186.2h0M157.9 181.8h0M164.3 177.7h0M160.2 137.1h0M158.9 142.9h0M159.7 121.5h0M217.6 192.1h0M221.4 170.9h0M207.3 212h0M218.2 150.1h0M213.6 196.6h0M222.1 200.8h0M222.1 162.2h0M216 164.3h0M213.9 204.7h0M220.3 112.8h0M219.5 141.1h0M215.9 157.7h0M220.9 177.9h0M221.5 154.8h0M220.5 133.2h0M221.8 125.4h0M214.2 178.9h0M220.1 120h0M266.4 241h0M238.7 273.1h0M228.1 252h0M216.5 271.7h0M136.9 233.5h0M149.2 250h0"/><path d="M184.9 279.4h0M163.6 255.5h0M216 252h0M160 245.6h0M173.3 279.5h0M199.5 288.7h0M204 236.8h0M197.3 264.5h0M195.6 274.1h0M208.9 207.8h0M194.4 280.3h0M222.1 224.3h0M167.5 266.7h0M198.3 258.2h0M214.3 261.1h0M183.7 272.9h0M193.5 285.7h0M205.1 279.9h0M158.4 223.4h0M201 244.3h0M164.8 228.3h0M178.9 251.9h0M180 257.5h0M199.4 250.6h0M212 230h0M169.7 274.7h0M187.3 291h0M180.7 289.5h0M205.4 224.6h0M219.4 235.3h0M170.9 221.8h0M186 285.1h0M171.4 232h0M209.4 272.4h0M218.1 229.3h0M211.4 267.1h0M174 285.2h0M218.7 245h0M159.2 213h0M158.4 239.4h0M182.2 264.5h0M210.1 235.3h0M169 205.4h0M196.7 293.4h0M163.6 207.6h0M210.5 193.4h0M211.8 219.2h0M207.1 214.5h0M165.6 261.2h0M177.9 244.2h0M221.8 206.3h0M205.8 288h0M203.2 230.5h0M169.3 212.2h0M219.3 269.3h0M165.7 218.7h0M219.4 217.2h0M214.5 211.2h0M175.3 291.6h0M176.1 236.9h0M166.3 281.7h0M220.7 262.3h0M211.8 277.8h0M163.9 271.7h0M160.1 189.3h0M158.7 163.4h0M160.1 157.5h0M158.6 175.1h0M167.3 189.7h0M164.8 176.1h0M163.9 200.8h0M159.8 148.4h0M163.4 167.1h0M159.2 229.6h0M159 183.2h0M167 195.9h0M165.5 181.7h0M159 198.1h0M159.5 138.7h0M216.9 186.6h0M216.9 155.2h0M222.1 171.3h0M208.3 201.3h0M214.7 197.6h0M212.4 181.6h0M221.6 147.1h0M214.1 205h0M221.2 164.5h0M221.3 197.7h0M214.6 165h0M221 180.4h0M213.2 175.6h0M222.1 157.9h0M221.5 112.1h0M221.7 139.7h0M210.8 187.4h0M221.3 132.2h0M222 126.3h0M221 191.9h0M238.7 273.1h0M230.5 263.7h0M228.1 252h0M232.9 257.8h0M228.6 243.8h0M135.4 238.2h0M145.3 242.9h0"/><path d="M159.5 242.9h0M215.2 254.2h0M197 268.2h0M213.7 207.5h0M214.1 260.3h0M167.8 268.3h0M210 203.2h0M198.9 259.5h0M203.4 284.8h0M192.8 288.6h0M184.9 280.4h0M163.3 224.7h0M163.8 257.7h0M194.2 281.3h0M208.3 236h0M212.3 266.2h0M176.8 289.9h0M172.2 277.5h0M186.4 286.9h0M207.1 278.5h0M174.9 231h0M218.2 234.5h0M183 269.3h0M172.3 223.6h0M166.1 263h0M172.6 284.7h0M180.3 260.4h0M203.5 227.9h0M219.2 222.2h0M182.9 291.7h0M156.7 235.7h0M165.5 230h0M219.4 243.5h0M161.1 249.6h0M210 226.2h0M200 249.2h0M179.7 254.7h0M202.4 243.4h0M211 219.9h0M209.3 272.7h0M200 289.7h0M158.2 215.5h0M158.5 227.6h0M220.3 205.1h0M195.3 274.9h0M177.6 248.4h0M210.5 193.5h0M202.5 234.4h0M207.4 213.9h0M222.1 215h0M176.1 239.9h0M172.3 217.7h0M219.1 228.5h0M214.6 213.3h0M205.8 222.3h0M213 283h0M183.8 274.8h0M165.3 277.5h0M161.8 204.3h0M162 190.8h0M159.6 161.8h0M170 201.5h0M167.8 189.6h0M158.1 167.9h0M167.4 209.2h0M158 175.1h0M164.1 173.8h0M160.5 153.9h0M166.5 218.3h0M161.5 210.4h0M157.8 180.7h0M161.7 198.4h0M165 180.4h0M163.4 166.3h0M158.6 186.4h0M166.2 195h0M158.2 142.6h0M221.1 151.8h0M220.8 173.2h0M216.6 189.6h0M212.9 183.4h0M213.2 177.9h0M220.1 182.5h0M221.5 166.8h0M216.9 160.4h0M217.8 199.7h0M214.4 169.7h0M220 194.1h0M213.1 230.9h0M217.8 145h0M221 137.2h0M221.9 126.1h0M224.9 261.5h0M216.5 271.7h0M135.4 238.2h0"/><path d="M160.6 245.5h0M212.4 264.5h0M196.3 270h0M208.8 206.8h0M194.8 278.4h0M218.9 239.1h0M174.7 281.6h0M164.8 260.7h0M197.8 263.1h0M217.1 232.5h0M210.8 233.6h0M206.5 278.2h0M176.3 290.1h0M161.2 223.4h0M183.3 272.3h0M168.6 278.4h0M173.3 231.5h0M162.6 254.5h0M168.8 270.1h0M168 226.4h0M184.4 278.6h0M186.8 289.2h0M193 288h0M205.8 223.8h0M204.2 285.3h0M216.6 251.2h0M182.1 264.8h0M199.9 255.6h0M162.9 239.2h0M205 234.9h0M214.5 259.1h0M156.7 235.7h0M191.9 293.9h0M201.5 241h0M200.2 246.5h0M220.1 223.4h0M181.4 292.8h0M214.5 219.5h0M210.3 215.5h0M211.9 273h0M214.1 227.5h0M180.5 257.8h0M170.4 219.2h0M198.1 292.5h0M204 292.5h0M220.8 207.3h0M173.2 224.5h0M179.2 251h0M214.7 208h0M178.4 244.9h0M160 212.2h0M175.1 236.9h0M212.6 191.9h0M169.5 213.7h0M158.1 217.5h0M158.6 189.3h0M163.9 207.5h0M159.3 166.5h0M168.8 200.8h0M160.2 230.3h0M160.8 201.5h0M159 157.1h0M158.4 179.6h0M168.2 193.7h0M163.9 173.3h0M158.2 172.1h0M166.4 184.2h0M170.6 207.6h0M162 195.7h0M165 218.5h0M221.9 216.8h0M203.3 229.6h0M221.2 168.7h0M219.1 199.7h0M220.9 174.3h0M218.7 148.8h0M212.5 176.7h0M212.5 184.8h0M220 182.7h0M216.1 163.9h0M213.1 200.6h0M217.8 245.7h0M221.7 158.4h0M217.7 194.4h0M216.9 154.5h0M220 188.3h0M213.3 170.9h0M221.6 139h0M221.4 133.1h0M224.9 261.5h0"/><path d="M160.3 247.6h0M209.6 208.2h0M196.5 271.7h0M212.8 264h0M194.2 280.9h0M206.2 278.4h0M173.4 280.1h0M218.3 232h0M182.8 269.9h0M211.6 234.1h0M179.6 291.9h0M164.4 265.6h0M186.2 285.5h0M198.3 261.6h0M171 275.1h0M171.3 222.9h0M172 230.2h0M204.2 290.1h0M187.6 293.8h0M215.6 255.3h0M164 257.6h0M204.1 238.3h0M208.1 223.5h0M220 239.2h0M174.2 287.9h0M193.9 293.8h0M193 287.8h0M181.5 263.6h0M203.2 283.6h0M157.8 234.2h0M200.9 244.2h0M214.4 226.8h0M212.7 275.3h0M159.5 228.5h0M175.1 235.5h0M199.4 254h0M218.9 222.3h0M204.8 229.2h0M185 279.4h0M165.4 227.7h0M218.2 246.9h0M180 257.4h0M178.6 249.9h0M211.2 214.8h0M160.2 218.7h0M216.7 215.7h0M222 210.7h0M216 208.7h0M159.4 241.5h0M210.5 269h0M168.8 269.2h0M161.9 207h0M162.3 164.7h0M167.1 202.8h0M167.3 216.4h0M158.9 193.4h0M167.4 188.8h0M157.9 174.5h0M158.4 186.7h0M159.4 201.3h0M167.5 210.3h0M176.5 243.8h0M160.2 158.2h0M165 175.5h0M159.8 152.2h0M162.8 170.2h0M166.6 194.3h0M164.9 182.4h0M172.2 213.4h0M158.3 181.1h0M158.7 212.1h0M221.4 171h0M214.2 189.4h0M222 148h0M213.7 168.4h0M216.2 160.6h0M212.4 182.8h0M213.8 201.2h0M220.6 183.7h0M212.7 176.8h0M221 163.3h0M217.2 153.4h0M221.6 202.2h0M222 177.8h0M207.9 201.3h0M211.3 195.9h0M218 143.6h0M221.9 157.1h0M220 194.3h0M220.8 129h0"/><path d="M196.2 272.2h0M210.5 277.7h0M174.2 281.5h0M185.6 283.7h0M193.9 282.9h0M183.6 292.6h0M166.9 265.8h0M217.3 263.9h0M183.3 272.5h0M210.5 268.3h0M161.3 250.6h0M169.8 272.5h0M210.5 236.7h0M169 229.1h0M204.3 281.5h0M197.8 263.3h0M199.3 257.7h0M220.7 236.9h0M182.2 265.7h0M201.8 241.1h0M207.4 219.4h0M213.1 223.9h0M200 288.1h0M200.8 248.9h0M158.5 235.8h0M160.1 245.2h0M164.3 257.5h0M180.6 259.2h0M217.5 231.6h0M215.6 254.3h0M178.8 287.5h0M218 241.8h0M192.1 293.7h0M159.9 227.3h0M173 219.1h0M174.9 234.1h0M210.6 207.8h0M177.5 244.8h0M204.7 233h0M172.4 286.9h0M174.5 292.1h0M163.4 215.4h0M163.1 238.8h0M220.2 209.7h0M157.7 215.1h0M164.9 221.4h0M160.2 209.3h0M179.6 251.9h0M166.7 197.9h0M159.4 168.1h0M158.4 188.8h0M164.5 205.2h0M161.6 159.4h0M167.6 189.2h0M171 213.2h0M160.7 199h0M164.6 179.5h0M159 179.1h0M163.2 173.5h0M207.8 212.7h0M221.8 223.3h0M214.8 187.6h0M219.8 148.2h0M220.9 176.2h0M214.1 216.3h0M219.8 184.3h0M217.4 156.5h0M215.6 164.4h0M221.5 165.6h0M213.6 173h0M215.6 201.8h0M221.3 203.3h0M214.9 194.2h0M211.7 182.3h0M220.7 215.5h0M209.3 199.7h0M218 248.6h0M209.9 190.2h0M204.4 225.7h0M219 141.3h0"/><path d="M206.8 277.4h0M186.6 289h0M197 268.8h0M193.9 283.4h0M216.5 267.2h0M168.3 269.4h0M210.5 268.9h0M161.9 251h0M185.5 283h0M195.4 276h0M164.9 260.8h0M206.9 232.8h0M213.7 235.8h0M213.8 260.8h0M183.1 269.7h0M198.3 260.8h0M170.2 228.8h0M202.6 285.8h0M221.3 237.1h0M171.6 276.5h0M180.4 289h0M202.4 243.9h0M200 250.8h0M214.3 223.4h0M180.7 261.8h0M205.7 219.8h0M219.8 226.8h0M192 293.9h0M216.6 250.6h0M202.5 238.3h0M208.6 283.1h0M158.8 233.9h0M197.7 290.4h0M175.2 235.3h0M177.6 244.6h0M159.1 226.6h0M184.2 276.3h0M171 282.2h0M180.1 255.2h0M169.8 222.5h0M161.2 214.7h0M162.3 205.9h0M161.5 239.8h0M159.9 192.9h0M158.8 163.5h0M167.8 199.4h0M159.2 187.3h0M158.7 169.5h0M167.2 192.6h0M170.1 210.2h0M166.7 185.1h0M157.7 209.1h0M163.3 172.9h0M158.1 179.7h0M161.1 155h0M164.6 178.4h0M158.8 219.9h0M171.9 215.7h0M212 210.7h0M220.7 208.9h0M218.7 243.3h0M213.8 205.1h0M207.3 214.1h0M221.8 171.8h0M217.1 191.1h0M217.8 151.1h0M215.8 168.8h0M219.1 218.7h0M214.8 199.3h0M212.3 185.8h0M216.9 162.5h0M219.7 179.3h0M213.3 177.5h0M222 158.9h0M213.4 229.5h0M208 202.6h0M221.6 166.1h0M215.7 156.7h0M219 143.4h0M210.2 191.1h0M213.7 216.2h0M205.4 226.2h0M221.5 199.4h0"/><path d="M193.8 283.6h0M195.7 273h0M186 285.3h0M169.1 270.8h0M207.8 274.3h0M183.4 271.3h0M182.1 265.2h0M209.8 235.7h0M181.8 290.5h0M215.2 236.5h0M161.4 250.2h0M197.1 267h0M169.3 227.9h0M165.9 263.4h0M211.6 266.8h0M214.3 259.4h0M207.4 285.6h0M201.7 286h0M173.6 279.7h0M220 239.6h0M199.1 257.4h0M187.5 293.8h0M201.4 240.6h0M220.1 232.4h0M219 226.7h0M208.7 223.2h0M216.2 251h0M184.8 279.8h0M214.4 230.6h0M174.4 235.3h0M200.3 249.8h0M204 228.1h0M176.4 240.5h0M175.9 287.2h0M158.1 235.3h0M205.6 279.6h0M180.1 255.7h0M158.3 224.1h0M175.4 229.8h0M168.3 218.4h0M160 218.6h0M177.8 249.5h0M164.5 223.5h0M158.7 242.2h0M163 164.4h0M164.4 210.3h0M166.9 194h0M166.5 204h0M159.1 205.8h0M158.5 183.5h0M162.1 198h0M159.5 170.8h0M158.1 190.5h0M160.5 158.5h0M171.8 213.2h0M166.5 183.8h0M163.1 255.7h0M172.7 222.4h0M163.4 229.1h0M164.4 175.7h0M157.8 177.3h0M206.7 215h0M207.9 209.4h0M214.4 219.5h0M218.9 212.6h0M215.7 187.2h0M221.5 171.2h0M204.3 234.5h0M216.4 205.9h0M221.4 152.6h0M214.1 172.2h0M220.5 220.7h0M212.1 199.9h0M215.8 165.5h0M215.1 159.9h0M221.1 163.9h0M221.6 183.5h0M212.6 181h0M218 147.5h0M220.8 177.8h0M216.1 192.8h0M218.9 141.6h0"/><path d="M195.6 272.6h0M185.4 281.2h0M194.9 279h0M166.6 272.9h0M206.7 235.6h0M197.1 264.5h0M163.1 255.1h0M206.9 277h0M183.7 274.5h0M169 224.1h0M172.4 277.6h0M167.1 266.5h0M160.2 246.8h0M211.8 266.8h0M187.6 293.8h0M214.3 259h0M213 234.8h0M181.4 261.6h0M200.6 287.3h0M221 239.4h0M193.2 287h0M204.1 282.3h0M180.9 293h0M199 255.7h0M169 232h0M182.1 267.6h0M217.7 221.6h0M179.1 287.8h0M174.6 233.5h0M218.4 255.4h0M217.8 247h0M202 239.9h0M165.6 261.1h0M172.6 285.1h0M176 240.6h0M200.9 246.9h0M158.5 235.8h0M160.4 221.9h0M158.6 216.5h0M178.3 246.6h0M159.2 166.3h0M164.1 202.9h0M168.8 198.9h0M168.3 192h0M158 229.3h0M179.7 255.6h0M158.4 181.9h0M162 160.2h0M171.2 218.6h0M164 212.2h0M169.6 209.2h0M163.6 227.3h0M162.8 173.3h0M158.4 155.4h0M160.1 191.1h0M165.6 184.3h0M163.6 239.7h0M159.4 196.7h0M158.2 241.7h0M157.9 209.3h0M207.8 218.1h0M209.8 209.5h0M218 231.6h0M215.2 213.7h0M216.6 187.4h0M217.5 149.4h0M212.8 227.5h0M220.6 176h0M204.2 228.9h0M214.7 196.2h0M221.3 153.5h0M213 204.1h0M212.8 174.5h0M218.4 202.4h0M212.1 180h0M221.4 183.2h0M220.8 167.7h0M215.1 166.8h0M216.3 159.3h0M220.8 211.7h0M212.1 191.1h0M219.9 192.6h0M208.2 224.2h0"/><path d="M186 285.6h0M194.9 278.4h0M197.4 263.3h0M204.8 281.1h0M182.7 270.2h0M172 281.4h0M163.3 253.5h0M166.2 263.6h0M212.5 263.5h0M210 270.9h0M185.9 293.8h0M192.6 293.9h0M181.7 264.3h0M215 257.3h0M170.6 274.5h0M215.3 237.1h0M180 288.9h0M219.4 241.7h0M171.8 225h0M199.5 254.6h0M169.4 232.8h0M196.1 272.8h0M217.3 231.7h0M193.3 286.7h0M218.3 222.9h0M216.7 249.8h0M184.1 277.4h0M205.2 234.1h0M200.9 289.1h0M180.5 257.2h0M176.2 239h0M157.7 237.5h0M159.1 225.7h0M161.8 216.7h0M165.9 224.3h0M166.7 203.7h0M157.9 163.9h0M162.9 166.5h0M159.7 203.2h0M179 248.7h0M167.6 189.3h0M160.5 210h0M171.5 215h0M158.1 231.7h0M159.1 194.4h0M159.1 174.3h0M158 157.8h0M159.4 184.3h0M165.2 177.6h0M161 248.4h0M162.8 239.7h0M207 221.8h0M205.9 214.3h0M201.9 239.6h0M211.9 217h0M215.6 189.6h0M217.5 208.9h0M221.7 148.5h0M217.3 152.6h0M212.1 227.7h0M201.4 246.6h0M219 217.2h0M220.5 173.9h0M210.2 204.9h0M205.2 228h0M221.7 156.6h0M216.2 202.7h0M221.7 228.2h0M212 183.6h0M221.2 168h0M221.7 235.8h0M214.4 176.7h0M216.6 162.4h0M220 181.7h0M215.5 169.2h0"/><path d="M185.8 283.8h0M193.8 283.5h0M196.6 266.9h0M206.1 278.6h0M171.5 276.1h0M184.1 275.1h0M195.3 276.5h0M161 249h0M166.6 264.7h0M182.7 269.4h0M198.8 260.6h0M164.6 259.4h0M186.9 289.5h0M218.5 240.1h0M192 293.9h0M181.1 289.7h0M199 254.5h0M170.9 229.3h0M212.8 262.5h0M209 272.3h0M221.2 234.5h0M181.4 261.3h0M218.3 246.3h0M202 285.7h0M216.1 254.6h0M177.2 285.5h0M167.9 224.4h0M158.2 236.4h0M157.7 225.8h0M165.2 206.6h0M161.8 202h0M176.1 237h0M158.6 164.8h0M157.8 214.6h0M163.2 168.2h0M179.1 253h0M177.9 243.7h0M169.2 270.6h0M167 190.7h0M165 230.5h0M158.4 159.2h0M169 218.3h0M164.1 173.7h0M161.4 193.2h0M157.6 187.9h0M158.5 181.3h0M165.4 179.7h0M167.5 199.9h0M163.4 220.4h0M158.1 174.6h0M213.6 232h0M217.3 225.9h0M209.1 210.5h0M206.1 223.2h0M207.3 216.9h0M217 219h0M201.1 243.7h0M216.1 187.9h0M221.6 151.5h0M215.5 213.1h0M214.7 207.6h0M204.7 229.9h0M220.7 173.3h0M212 221.6h0M217.3 155.4h0M211.3 202.5h0M213.3 180.1h0M216.5 197.9h0M220.7 167.1h0M213.2 172.2h0M222.1 210.7h0M204.6 235.5h0M220.3 160.7h0M220.3 184.3h0M214.9 165.6h0"/><path d="M184.7 280.3h0M194 283h0M197.2 264.8h0M186.7 288.6h0M195.4 276.3h0M207.9 275.4h0M183.4 272.8h0M171.8 276.4h0M203.4 283.2h0M192.8 288.9h0M164.3 258.4h0M167.8 267.5h0M220.5 236.4h0M198.8 258.8h0M199.8 252.4h0M161.9 249.3h0M169.8 232.3h0M182.4 265.6h0M214.2 264h0M219 246.7h0M210.4 269.7h0M175.3 285.3h0M168.1 224.7h0M180.4 260.2h0M160.3 227.4h0M162.6 200.3h0M175.3 238.4h0M162.2 162.5h0M179.2 254.6h0M169.2 203.8h0M159 215.1h0M158.1 241h0M165.4 208h0M163.3 169.2h0M158.1 158.9h0M167.1 187.5h0M171.9 215.9h0M158.1 189.7h0M165 178.1h0M161.4 221.8h0M158.4 177.6h0M205.6 221.2h0M210.4 236.2h0M215 258.2h0M218.6 221h0M219.3 187.1h0M213.1 224.3h0M201.4 243.1h0M215.8 215.6h0M210 215.9h0M222.1 149.8h0M212.8 187.7h0M216 210.1h0M221.5 173.2h0M211.1 206.4h0M219.5 229.8h0M215.5 192.5h0M221.1 157.2h0M204.3 233.9h0M213.3 180.1h0M216.3 252.6h0M213.8 173.3h0M216.7 152.7h0M214.1 166.9h0M221.8 163.1h0M216.1 159.9h0"/><path d="M185.7 284.2h0M195.4 274.3h0M207.4 275.2h0M170.1 273.5h0M203.9 282.6h0M173 278.9h0M187.4 293.9h0M182.5 268.7h0M197.8 262.7h0M199.5 253.8h0M194.3 280.8h0M169 229h0M192.8 288.7h0M183.8 274.5h0M181.3 261.6h0M212.9 262.3h0M212.8 267.9h0M167.3 266.5h0M163.2 254.5h0M163.2 199.8h0M165 223.4h0M162.8 163.8h0M167.6 207.9h0M158.5 232.3h0M158.8 203.1h0M174 233.8h0M160.3 170.2h0M167.2 189.9h0M161.4 157.6h0M159.3 217.2h0M179.1 255.2h0M162.6 211.1h0M172.7 218.6h0M159 241.8h0M169.8 201.6h0M158.5 186.2h0M175 240.3h0M165.2 182.7h0M158.1 178.4h0M217.9 236.5h0M216.5 250.5h0M210.2 222.5h0M219.3 224.8h0M217.8 243.4h0M215 256.6h0M220.1 212.7h0M221.7 152.5h0M219.7 231.1h0M215.7 217.8h0M214.6 211h0M217.3 185.7h0M210 214.3h0M209.7 206.9h0M218.7 207h0M211.4 182.9h0M220.6 178.5h0M212.5 234.2h0M220.8 161.8h0M217.3 157h0M214.9 197.9h0M218.4 191.8h0M204.6 230.3h0M221.7 172.5h0M212.4 190.2h0M204 224.5h0M201.9 241h0M212.9 172.8h0M196.4 268.9h0"/><path d="M185.2 281.9h0M194.9 278.6h0M208.2 273.9h0M172.2 277.6h0M186.1 293.8h0M192.1 293.7h0M199.5 252.9h0M197.4 266.7h0M182.3 265.9h0M169.4 272h0M195.6 273h0M216 260.6h0M184.2 275.6h0M165.9 262.7h0M205.1 279.7h0M172.3 230.8h0M162.9 251.2h0M165.5 227.4h0M159.9 204h0M159.3 161.6h0M170.2 223.1h0M163.2 166.3h0M168.2 207.9h0M163.6 257.3h0M176.1 238.6h0M159 171.7h0M167 187.7h0M165.9 199.1h0M162.2 194.8h0M164.2 211.7h0M160.8 155.4h0M160.4 246h0M177.7 250.3h0M158.5 219.6h0M164.3 177.7h0M219.6 233.9h0M208.8 218.1h0M221 225.3h0M221.7 148.8h0M217.4 152.5h0M198.7 260.4h0M209.6 225.6h0M215.4 206.7h0M218.6 211.6h0M218.6 246.9h0M214 221.2h0M217 190.5h0M217.4 159.6h0M209 207.8h0M210.9 202.1h0M213 184.3h0M221.4 176.6h0M221.8 216.6h0M221.8 169.2h0M222.1 155.7h0M220.2 184.4h0M202.6 236.9h0"/><path d="M195.2 275h0M186.2 285.6h0M172.5 278.1h0M169.9 272.8h0M194.4 281.5h0M186.1 293.9h0M166 263h0M181 262.7h0M196.9 267h0M208.5 273.8h0M170.1 231.8h0M170 225.9h0M184 274.2h0M161.9 163.8h0M161.1 203.6h0M167.4 203.4h0M157.9 157.3h0M158.9 171.9h0M162.4 254.3h0M162.6 223.6h0M162.2 215.2h0M166.9 186.1h0M176.5 242.8h0M175.6 236.7h0M160.6 197.7h0M164.8 179.6h0M212.6 264.7h0M218.4 235h0M199.4 256.8h0M221.7 148.7h0M221.4 154.8h0M210.6 216.7h0M219.8 220.2h0M212.8 222.4h0M216.7 188.6h0M211.1 203.3h0M215.9 210.4h0M217.7 225.5h0M216.2 163.9h0M205.3 219.5h0M213.5 194.6h0M212.5 183h0M207.2 211.9h0"/><path d="M185.3 281.3h0M194.7 278.6h0M187 290.5h0M172.7 278.3h0M169.4 271.7h0M196.1 271h0M181.4 262h0M172.9 228.1h0M166.2 263.5h0M161.8 164.4h0M159.4 204.7h0M167.6 226.4h0M168.2 205.4h0M160.6 211.2h0M159 157.1h0M159.5 218.6h0M166.1 185.5h0M158.3 171.3h0M217.9 235.6h0M198.5 258.1h0M217.6 150h0M207 219.8h0M220 214.8h0M211.5 215.4h0M220.5 220.4h0M215.8 226.2h0M197.5 264.7h0M210 225.6h0M219.7 209.3h0M209.7 271.3h0M218.8 187.5h0M214.9 191.7h0M221.7 154.9h0M215.1 202.9h0"/><path d="M185.6 282.8h0M186.8 289.4h0M173.8 280.4h0M196.3 269.7h0M171.2 231.9h0M170.8 226.1h0M167.7 267.6h0M161.1 161.7h0M158.9 167.7h0M160.6 201h0M159.7 156.3h0M160 220.1h0M168.9 205h0M221.8 233.4h0M221.1 153h0M212.2 216h0M217.2 219.5h0M207 214h0M209.1 222.8h0M218.9 213.4h0M215.1 194.4h0M215.8 230h0"/><path d="M187.2 290.8h0M172.5 228.6h0M184.4 277.8h0M158.6 160.3h0M162.9 165h0M159.9 202.6h0M166.1 230.8h0M163.4 221.7h0M167 201.2h0M222.1 232.5h0M216.9 150.7h0M214.2 221.9h0M215.2 212.7h0M219.9 221.2h0M218.8 193.5h0M196.8 267.4h0"/><path d="M187 290.1h0M160.8 161.2h0M163.4 168.6h0M161.9 201.2h0M221.2 236.7h0M216.9 153.3h0M220.3 148.1h0M218.8 225.9h0M217.5 214.4h0M219.1 193.1h0"/><path d="M187.1 290.9h0M161.2 162.7h0M163.5 168.4h0M159.8 202.6h0M216.8 150.6h0"/><path d="M187.3 291.4h0M159 168.1h0M160 157.6h0M159 202.4h0M222.1 149.2h0"/><path d="M187.8 293.9h0M160.5 160.4h0M163.3 168h0M158.1 165.9h0"/><path d="M159 165.2h0M159 159.6h0"/><path d="M163.4 166.4h0"/></g><g fill="none" stroke="#ff0000" stroke-opacity="0.35" stroke-width="5.5" stroke-linecap="round"><path d="M153.6 183.7h0M133.4 121.2h0M225.6 220.5h0M152.4 203.2h0M151.7 190.4h0M155.8 230.3h0M232 168.4h0M155.5 211.8h0M228.2 191.6h0M227.4 175.9h0M234.2 203.4h0M223.7 207.1h0M149.1 164.5h0M155 136.6h0M156.9 221.2h0M155.3 195h0M237.6 158.3h0M223.2 214.8h0M229.2 206.5h0M224.4 197.3h0M232.6 186.7h0M223.6 230.1h0M144.4 180.8h0M149.3 227.4h0M225.1 164.4h0M232.7 179.8h0M223.9 185.9h0M145.4 193.7h0M155.3 174h0M148 102.1h0M152.4 217.3h0M149.3 177.8h0M134.8 135.6h0M138.2 90.4h0M132.2 129.8h0M110.9 204.8h0M140.6 216.7h0M134 219.3h0M115.1 220.2h0M156 124.5h0M152.5 144h0M143.1 163.9h0M124.3 213.5h0M111.3 215.2h0M130.2 162.9h0M121.7 162.8h0M126.7 131.6h0M147.5 156.6h0M105.4 173.1h0M141.7 140.9h0M127.2 124.4h0M97.6 166.5h0M110.2 187.8h0M139.2 187.4h0M127.9 226.8h0M101 215.7h0M119.6 135.3h0M140.8 207.8h0M136.7 161.9h0M98.6 206h0M141.4 117.5h0M133 186.8h0M128.8 192.3h0M133.6 213.8h0M146.4 122.4h0M145.8 205.1h0M144.5 220.6h0M146.7 149.6h0M147.6 170h0M111.1 194.1h0M114.8 176.5h0M143.2 127.8h0M133.8 177.5h0M140.7 227h0M149.2 128.9h0M117.7 185.8h0M154.9 117.9h0M148.8 211.9h0M155.7 156.7h0M146.5 188.2h0M139 197.9h0M103.5 210h0M125.8 183.5h0M146.1 109.8h0M138 167.6h0M130.8 205.1h0M132.6 112.7h0M146.2 133.6h0M149.3 114.5h0M132.6 157.8h0M125.1 147.8h0M134.3 229.1h0M144.5 174.6h0M74.4 211.8h0M153.5 168.2h0M113.2 170.4h0M111.1 227.3h0M93.8 192.8h0M119.6 205.3h0M152.3 109.6h0M69.1 205.8h0M148.1 199.6h0M105.4 158.2h0M141.6 151.7h0M86.3 184.1h0M121.4 154.7h0M154.6 130.3h0M116.9 195.5h0M134.6 193.6h0M92.1 177.1h0M155.8 151.2h0M83.5 216h0M117.6 148.1h0M117.5 226.8h0M259.7 213.7h0M243.4 132.3h0M224.6 136.7h0M228.6 127.3h0M235.2 225.2h0M239.8 173.5h0M227.6 156.2h0M232.7 198h0M226.7 147.8h0M238.5 186.1h0M232.9 142.4h0M242.3 224.5h0M244.8 184.5h0M237.2 215.4h0M225.1 123h0M234.8 209.5h0M255.3 205.4h0M224.8 170.4h0M249.7 215.4h0M245.1 199.5h0M230.7 213.7h0M232.3 151.2h0M239.4 167.1h0M224.4 131.1h0M66.4 81.4h0M69.8 124.9h0M278 180.6h0M284.5 221.2h0M271.8 191h0M256.1 135.2h0M99.5 157h0"/><path d="M222.9 221.6h0M229.9 166.5h0M149.4 199.6h0M225.8 177.7h0M224.2 210.1h0M227.2 193h0M151.7 190.6h0M150 169.1h0M156.8 203.5h0M153.8 222.7h0M152 215.4h0M226.6 200.3h0M144.7 164.1h0M157.4 232.3h0M235 169.1h0M230.8 185.8h0M151.6 184.6h0M143.6 182.1h0M156.8 172.5h0M228.6 224h0M235 178.1h0M222.4 229.6h0M224.3 183.1h0M149.8 205.6h0M222.9 167.1h0M154.2 132.7h0M133.4 217h0M142.3 195.2h0M126.6 127.1h0M143.8 215.8h0M149.5 148.1h0M117 219h0M156.1 209.2h0M146.1 224.2h0M134.5 164.4h0M151.2 153.8h0M156.7 197.9h0M136.1 223.9h0M126.5 214.6h0M156.9 187.4h0M139.8 139.3h0M129.8 228.7h0M116.6 161.4h0M153.4 139.9h0M141.1 188.4h0M132.6 121.6h0M145.7 140.2h0M138.2 203.3h0M106.9 205.6h0M127.2 137h0M144.7 202.6h0M136.8 176.1h0M109.6 217.3h0M147.1 177.5h0M137.8 123.4h0M133.2 138.6h0M150.4 159.3h0M138.5 211.6h0M127.5 187.8h0M133.8 193.8h0M130.7 207.7h0M121.4 210.4h0M134.3 181.3h0M129.2 109.1h0M139 170.4h0M137.7 111h0M156 166.4h0M152.8 119.8h0M151 128.1h0M144.2 122.4h0M118.2 203h0M237.3 203.4h0M230.7 206.3h0M223.8 125.2h0M235.5 222.6h0M241.4 227.7h0M239.2 189.1h0M225.8 160.5h0M223.3 153.6h0M223 146.1h0M235 195.7h0M231.4 152.3h0M248.1 218.6h0M242.3 196h0M225.4 130.7h0M230.3 174.3h0M69.8 124.9h0M284.5 221.2h0M253.9 207h0M114.6 170.2h0M90.9 174.4h0"/><path d="M227.3 210.5h0M223.6 218.5h0M156 213.8h0M222.7 206.7h0M157 225.5h0M153.3 202.9h0M224.3 226.9h0M224.4 174.1h0M231.8 190.9h0M148.6 193.9h0M148.4 200.1h0M227.8 202.5h0M151.2 225.4h0M153.6 191.5h0M155.9 185.1h0M235 179.8h0M230.8 170.1h0M229.4 223.1h0M226.3 185.9h0M151.6 168.1h0M150.8 134.8h0M152.8 218.5h0M143.9 213.3h0M155.6 173.8h0M140.3 194.9h0M136.6 164.6h0M145.5 218.6h0M145.9 161.7h0M137.9 219.7h0M147.9 144.6h0M115.9 216.9h0M149.7 208.5h0M141.2 186.5h0M156.3 208.1h0M150.1 180.4h0M129.8 137.5h0M153.7 142.6h0M150.1 173.8h0M143.6 224.6h0M131.4 119.8h0M153.9 197.3h0M124.9 218.6h0M142.7 204.8h0M133 224.7h0M138 174.3h0M151.5 161.1h0M146.3 149.9h0M141.2 178.8h0M127.7 111.2h0M133 194.4h0M137.3 137.9h0M110.2 221.8h0M140.5 168.8h0M135.8 184.6h0M155.1 155.8h0M130.5 219.3h0M108.7 216.5h0M134.9 112.6h0M150 118.1h0M110.2 204.6h0M129.2 181.1h0M227 195.7h0M225.4 126.9h0M236.6 172.1h0M226.4 163.8h0M233.7 208.3h0M228.1 179h0M241 222.8h0M238.1 197.8h0M242.7 204.1h0"/><path d="M223.1 213.6h0M226.2 207.3h0M155.5 214.1h0M154.8 221.3h0M150.4 203.9h0M223.4 224.7h0M222.2 203h0M147.5 190.7h0M154.4 228.3h0M231.3 188.2h0M156.1 203h0M156.5 188.7h0M152.9 165.8h0M153.2 194h0M148.1 220.1h0M147 197.5h0M156 172h0M156.5 182.1h0M151.4 185.9h0M144.6 161.6h0M151.5 137.2h0M141.6 220h0M135.7 164.3h0M147.4 168h0M147.4 209.9h0M142.5 202.9h0M137.8 206.6h0M151.7 179.1h0M135.3 227.6h0M139.9 194.4h0M123.7 217.6h0M150.5 156.3h0M144 186h0M136.5 179.4h0M145.5 135.6h0M149 226.2h0M136.3 172.6h0M143.2 175h0M154.3 208.3h0M147.8 146h0M138.6 212.3h0M135.6 186.2h0M142.8 227.8h0M130.9 194h0M233.8 170.9h0M228 201.5h0M226.1 195.7h0M225.1 184.6h0M232.6 220.4h0M238.5 177.2h0M225.8 121.9h0M231.9 211h0M223.2 128.6h0M225.2 169.5h0M239.2 226.7h0M232.3 196.1h0"/><path d="M227.4 208.5h0M156.1 217.1h0M226.7 214.5h0M152.3 190.5h0M157.1 224.3h0M149 202.1h0M146.8 194.8h0M224.3 224.1h0M152 207.1h0M150.6 227.1h0M150.3 213.7h0M151.3 184h0M152.5 197.5h0M155.1 171.3h0M156.8 209.8h0M142.2 189.4h0M140.9 219.3h0M153.3 140.6h0M150.5 135.8h0M148.6 164h0M138.9 210.9h0M137.6 164.3h0M146.4 218.8h0M123.2 214.4h0M142.3 201.3h0M146.5 181.1h0M147.6 174.4h0M146 207.6h0M135.4 224.8h0M149.8 154h0M138 172h0M153.5 161.1h0M152.4 221.3h0M144.3 158.6h0M137.2 194.9h0M230.5 192.1h0M225.8 196.1h0M234.1 176h0M228.3 185.9h0M234.5 222.6h0M232.5 167h0M232 204.8h0M224.7 179.4h0M229.4 220.5h0M224.5 190h0M235.7 189.2h0M225.6 168.9h0"/><path d="M153.4 214.4h0M152.8 220.6h0M225.8 209.8h0M148 201.4h0M157.4 223.8h0M150.9 194.7h0M155.6 206.3h0M149.6 189.3h0M156 189.5h0M154.1 182.8h0M153.5 169.5h0M143.7 197.2h0M143 221h0M145.5 161.6h0M156.8 198.9h0M148 209.8h0M154.8 141h0M152.2 227h0M144.7 173.1h0M142.4 211.3h0M150.8 133.6h0M152.7 162.1h0M139.7 191.5h0M149.7 178.9h0M229.3 192.6h0M223.2 227.9h0M225 200h0M226.9 222.4h0M232 174.6h0M228.9 185h0M223.8 188.3h0"/><path d="M223.1 214h0M157.1 214.8h0M155.9 223.9h0M151.4 203.7h0M150.8 194.2h0M143.5 198.4h0M151 212.1h0M150.2 182.5h0M155.6 183.9h0M154 189.3h0M150.6 221.9h0M146.3 190.8h0M153.7 172.5h0M141.7 163.1h0M145.2 205.3h0M147.6 162.6h0M151.5 142.4h0M139.6 210.1h0M154 166.6h0M143.2 178.4h0M156.2 206.5h0M144.7 167.7h0M227.1 207.9h0M225.8 196.2h0M223.4 226.3h0M230.5 224.3h0M226.5 189.8h0M232.1 187.4h0M224.7 184.3h0M223.9 220.2h0"/><path d="M226.2 213.2h0M156.6 220.8h0M156 212h0M153.9 226.8h0M148.5 196.4h0M154.8 194.3h0M154.1 201h0M151.8 180.9h0M150.6 216.4h0M148.5 202.9h0M146.6 222.7h0M142.9 202.8h0M152.6 174.3h0M148.1 210.3h0M142.1 211.5h0M153.6 140.6h0M156.4 188.9h0M150.7 162.3h0M138.8 197.8h0M224 204.7h0M224.7 199.2h0M229.2 192.5h0M225.1 185.9h0M222.9 229h0M223 219.2h0"/><path d="M155.9 217.8h0M154.2 223.3h0M149 201h0M155 208.3h0M150.9 213.5h0M144.1 193.5h0M153.1 183.7h0M151.6 190.3h0M156.4 193.4h0M147.5 224.1h0M142.6 202.2h0M147.8 207h0M154.7 202.5h0M138.1 214.4h0M149.2 163.3h0M149 177.9h0M222.8 209.1h0M224.9 197.2h0M228.7 187.1h0M223.5 229h0M224.3 217.8h0M226.1 204h0"/><path d="M151.4 222.4h0M152.2 201.7h0M155.3 211.9h0M153.8 180.9h0M149.7 184.7h0M154.1 190.2h0M148.7 213.6h0M150.5 195.9h0M149.2 167.1h0M223.2 210.5h0M226 192.3h0M226.7 198.7h0M224.7 220.2h0M227.1 214.5h0"/><path d="M154.4 224.3h0M154.4 184.9h0M155.9 211.1h0M151.9 219h0M152.2 204.7h0M155.8 193.2h0M147 200.7h0M147.8 192.7h0M150.3 180.9h0M147.2 225.7h0M147.1 209.1h0M223.7 208h0M222.8 214h0M229.2 197.9h0M228.2 188h0M224.2 224.7h0"/><path d="M151.9 222.8h0M155.3 212.5h0M151.3 202.3h0M155.6 190.5h0M153.9 196.5h0M147.1 195.9h0M150.9 186.2h0M224.7 209h0M228.5 196.3h0"/><path d="M155.5 220.5h0M153.2 226.1h0M152.6 215.7h0M154 210h0M153.6 202.3h0M155.4 196.3h0M155.4 187.8h0M149.6 206.2h0M223.8 207.1h0M224.6 196h0"/><path d="M153.6 221.4h0M152.7 215.9h0M154.2 197.7h0M155.3 205h0M156 210.7h0M156.9 188.6h0M223.3 209.9h0"/><path d="M151 225.1h0M156 215.8h0M156.1 205h0M225.1 207.4h0"/><path d="M149.9 224h0M153.3 219.2h0M153 200.9h0"/><path d="M149.6 223.1h0M156.5 217.1h0"/></g></g>
<clipPath id="clipb"><rect x="400.00" y="46.10" width="284.00" height="259.30"/></clipPath><g clip-path="url(#clipb)"><path fill="#000" d="M513 167h0.5v0.5h-0.5zM512.5 167.5h1v0.5h-1zM512 168h2v0.5h-2zM512 168.5h2.5v0.5h-2.5zM512 169h2v0.5h-2zM512.5 169.5h1.5v0.5h-1.5zM512.5 170h1v0.5h-1zM568.5 181.5h2v0.5h-2zM567.5 182h4v0.5h-4zM567.5 182.5h4.5v0.5h-4.5zM567.5 183h5v0.5h-5zM566.5 183.5h6v0.5h-6zM566.5 184h6.5v0.5h-6.5zM564 184.5h9v0.5h-9zM564 185h9v0.5h-9zM563 185.5h10v0.5h-10zM563 186h11.5v0.5h-11.5zM563 186.5h11v0.5h-11zM563 187h11v0.5h-11zM563 187.5h11.5v0.5h-11.5zM563 188h11v0.5h-11zM562.5 188.5h11v0.5h-11zM562.5 189h11v0.5h-11zM562 189.5h12v0.5h-12zM562 190h12v0.5h-12zM562 190.5h12.5v0.5h-12.5zM562 191h12v0.5h-12zM561.5 191.5h12.5v0.5h-12.5zM561 192h13v0.5h-13zM560.5 192.5h13.5v0.5h-13.5zM560.5 193h15v0.5h-15zM560.5 193.5h15v0.5h-15zM560.5 194h14.5v0.5h-14.5zM560.5 194.5h14.5v0.5h-14.5zM560 195h9.5v0.5h-9.5zM570.5 195h4v0.5h-4zM560.5 195.5h8v0.5h-8zM570.5 195.5h3v0.5h-3zM560.5 196h8v0.5h-8zM572 196h1.5v0.5h-1.5zM561 196.5h7.5v0.5h-7.5zM570.5 196.5h3.5v0.5h-3.5zM561 197h7.5v0.5h-7.5zM570 197h3.5v0.5h-3.5zM560.5 197.5h13.5v0.5h-13.5zM560 198h14v0.5h-14zM560.5 198.5h8v0.5h-8zM569 198.5h3v0.5h-3zM560.5 199h11.5v0.5h-11.5zM560.5 199.5h11.5v0.5h-11.5zM560.5 200h12v0.5h-12zM561 200.5h12v0.5h-12zM561.5 201h11.5v0.5h-11.5zM561.5 201.5h10.5v0.5h-10.5zM560.5 202h11v0.5h-11zM572 202h0.5v0.5h-0.5zM560.5 202.5h11.5v0.5h-11.5zM514.5 203h3.5v0.5h-3.5zM560 203h12.5v0.5h-12.5zM514 203.5h5v0.5h-5zM560.5 203.5h12v0.5h-12zM513.5 204h5.5v0.5h-5.5zM560 204h12.5v0.5h-12.5zM513.5 204.5h6v0.5h-6zM559.5 204.5h14v0.5h-14zM513.5 205h7v0.5h-7zM521 205h0.5v0.5h-0.5zM522 205h0.5v0.5h-0.5zM559.5 205h14.5v0.5h-14.5zM513 205.5h10v0.5h-10zM560 205.5h14.5v0.5h-14.5zM513 206h10v0.5h-10zM559.5 206h15v0.5h-15zM511.5 206.5h12v0.5h-12zM559 206.5h15v0.5h-15zM511.5 207h12v0.5h-12zM559 207h14.5v0.5h-14.5zM511.5 207.5h12v0.5h-12zM559 207.5h14v0.5h-14zM510 208h14v0.5h-14zM558.5 208h14.5v0.5h-14.5zM510 208.5h13.5v0.5h-13.5zM558.5 208.5h15.5v0.5h-15.5zM510 209h13.5v0.5h-13.5zM558.5 209h15v0.5h-15zM510.5 209.5h13v0.5h-13zM558.5 209.5h15v0.5h-15zM510.5 210h13v0.5h-13zM558.5 210h15v0.5h-15zM510 210.5h13v0.5h-13zM559 210.5h13.5v0.5h-13.5zM510.5 211h12.5v0.5h-12.5zM558.5 211h14v0.5h-14zM510.5 211.5h11.5v0.5h-11.5zM558 211.5h8.5v0.5h-8.5zM568 211.5h3v0.5h-3zM511.5 212h9v0.5h-9zM521 212h1v0.5h-1zM557.5 212h8.5v0.5h-8.5zM570 212h0.5v0.5h-0.5zM571.5 212h0.5v0.5h-0.5zM511 212.5h9.5v0.5h-9.5zM557.5 212.5h8v0.5h-8zM511 213h9v0.5h-9zM557.5 213h4v0.5h-4zM562 213h2.5v0.5h-2.5zM511 213.5h9v0.5h-9zM557.5 213.5h7v0.5h-7zM511 214h9.5v0.5h-9.5zM557 214h5v0.5h-5zM562.5 214h1.5v0.5h-1.5zM510.5 214.5h8v0.5h-8zM556.5 214.5h5.5v0.5h-5.5zM510.5 215h8v0.5h-8zM556.5 215h6v0.5h-6zM511 215.5h0.5v0.5h-0.5zM512 215.5h7.5v0.5h-7.5zM556.5 215.5h6.5v0.5h-6.5zM569.5 215.5h2.5v0.5h-2.5zM511.5 216h0.5v0.5h-0.5zM512.5 216h7.5v0.5h-7.5zM557 216h6.5v0.5h-6.5zM569 216h3.5v0.5h-3.5zM512.5 216.5h8v0.5h-8zM523.5 216.5h2v0.5h-2zM557.5 216.5h6v0.5h-6zM568.5 216.5h5v0.5h-5zM512 217h8.5v0.5h-8.5zM522.5 217h0.5v0.5h-0.5zM523.5 217h3v0.5h-3zM557.5 217h5.5v0.5h-5.5zM568.5 217h5v0.5h-5zM511.5 217.5h9.5v0.5h-9.5zM523 217.5h4v0.5h-4zM558 217.5h5.5v0.5h-5.5zM568 217.5h6v0.5h-6zM511.5 218h10v0.5h-10zM522 218h0.5v0.5h-0.5zM523 218h4.5v0.5h-4.5zM558 218h6v0.5h-6zM568 218h6.5v0.5h-6.5zM511 218.5h16.5v0.5h-16.5zM557.5 218.5h6v0.5h-6zM568 218.5h6.5v0.5h-6.5zM511 219h16.5v0.5h-16.5zM558 219h5.5v0.5h-5.5zM568 219h6v0.5h-6zM511 219.5h16.5v0.5h-16.5zM558.5 219.5h5v0.5h-5zM568.5 219.5h5.5v0.5h-5.5zM510.5 220h17v0.5h-17zM558 220h5.5v0.5h-5.5zM568.5 220h5v0.5h-5zM510.5 220.5h17v0.5h-17zM558 220.5h4.5v0.5h-4.5zM563 220.5h0.5v0.5h-0.5zM569 220.5h5v0.5h-5zM511 221h16.5v0.5h-16.5zM557 221h1v0.5h-1zM558.5 221h4.5v0.5h-4.5zM563.5 221h0.5v0.5h-0.5zM569 221h4.5v0.5h-4.5zM511 221.5h16.5v0.5h-16.5zM556.5 221.5h7v0.5h-7zM569 221.5h4v0.5h-4zM510.5 222h17v0.5h-17zM557 222h1v0.5h-1zM559 222h2.5v0.5h-2.5zM562 222h1.5v0.5h-1.5zM569 222h4v0.5h-4zM510.5 222.5h16v0.5h-16zM557 222.5h3.5v0.5h-3.5zM561.5 222.5h2.5v0.5h-2.5zM568.5 222.5h4v0.5h-4zM510 223h17v0.5h-17zM556.5 223h7.5v0.5h-7.5zM568 223h3.5v0.5h-3.5zM510 223.5h17.5v0.5h-17.5zM556.5 223.5h5v0.5h-5zM562 223.5h0.5v0.5h-0.5zM563 223.5h1v0.5h-1zM567 223.5h4.5v0.5h-4.5zM509.5 224h17.5v0.5h-17.5zM556.5 224h9.5v0.5h-9.5zM566.5 224h5.5v0.5h-5.5zM510 224.5h6v0.5h-6zM516.5 224.5h10.5v0.5h-10.5zM557 224.5h15.5v0.5h-15.5zM510 225h3.5v0.5h-3.5zM514.5 225h0.5v0.5h-0.5zM516 225h11.5v0.5h-11.5zM556 225h0.5v0.5h-0.5zM558 225h0.5v0.5h-0.5zM559.5 225h13v0.5h-13zM510.5 225.5h2.5v0.5h-2.5zM516 225.5h11.5v0.5h-11.5zM556 225.5h2.5v0.5h-2.5zM559.5 225.5h10v0.5h-10zM570 225.5h2v0.5h-2zM511 226h2.5v0.5h-2.5zM514 226h0.5v0.5h-0.5zM515.5 226h12v0.5h-12zM556.5 226h1.5v0.5h-1.5zM559 226h10.5v0.5h-10.5zM570 226h1.5v0.5h-1.5zM512 226.5h1.5v0.5h-1.5zM515 226.5h13v0.5h-13zM556 226.5h2.5v0.5h-2.5zM559 226.5h11v0.5h-11zM570.5 226.5h1v0.5h-1zM515 227h12.5v0.5h-12.5zM557 227h1.5v0.5h-1.5zM559 227h11.5v0.5h-11.5zM512 227.5h1.5v0.5h-1.5zM515 227.5h6v0.5h-6zM522 227.5h5.5v0.5h-5.5zM557 227.5h1.5v0.5h-1.5zM560 227.5h9v0.5h-9zM570 227.5h0.5v0.5h-0.5zM511 228h9.5v0.5h-9.5zM522.5 228h4.5v0.5h-4.5zM555.5 228h2v0.5h-2zM560.5 228h6.5v0.5h-6.5zM510.5 228.5h1v0.5h-1zM512 228.5h8.5v0.5h-8.5zM524 228.5h2v0.5h-2zM554.5 228.5h3.5v0.5h-3.5zM560.5 228.5h6.5v0.5h-6.5zM510 229h1v0.5h-1zM511.5 229h9v0.5h-9zM554.5 229h3.5v0.5h-3.5zM560 229h7v0.5h-7zM572 229h1.5v0.5h-1.5zM510.5 229.5h9.5v0.5h-9.5zM554 229.5h4v0.5h-4zM560 229.5h8v0.5h-8zM572 229.5h1.5v0.5h-1.5zM510.5 230h8.5v0.5h-8.5zM523 230h1.5v0.5h-1.5zM554 230h5.5v0.5h-5.5zM560.5 230h8v0.5h-8zM510 230.5h9.5v0.5h-9.5zM523 230.5h0.5v0.5h-0.5zM525.5 230.5h0.5v0.5h-0.5zM554.5 230.5h5.5v0.5h-5.5zM560.5 230.5h7.5v0.5h-7.5zM568.5 230.5h0.5v0.5h-0.5zM569.5 230.5h0.5v0.5h-0.5zM573 230.5h1v0.5h-1zM509 231h1v0.5h-1zM510.5 231h9.5v0.5h-9.5zM520.5 231h0.5v0.5h-0.5zM522.5 231h2v0.5h-2zM525.5 231h0.5v0.5h-0.5zM554.5 231h14v0.5h-14zM571.5 231h0.5v0.5h-0.5zM508 231.5h12.5v0.5h-12.5zM522 231.5h4v0.5h-4zM555 231.5h13v0.5h-13zM571 231.5h1v0.5h-1zM508 232h7v0.5h-7zM515.5 232h5v0.5h-5zM522 232h4v0.5h-4zM555 232h14v0.5h-14zM572 232h0.5v0.5h-0.5zM507.5 232.5h6v0.5h-6zM515 232.5h5.5v0.5h-5.5zM521 232.5h5v0.5h-5zM554.5 232.5h15v0.5h-15zM507.5 233h5.5v0.5h-5.5zM514.5 233h10.5v0.5h-10.5zM525.5 233h1v0.5h-1zM555 233h15v0.5h-15zM508 233.5h4v0.5h-4zM514 233.5h10.5v0.5h-10.5zM525.5 233.5h0.5v0.5h-0.5zM555.5 233.5h14.5v0.5h-14.5zM570.5 233.5h1.5v0.5h-1.5zM506.5 234h5v0.5h-5zM512.5 234h11.5v0.5h-11.5zM525 234h1v0.5h-1zM526.5 234h0.5v0.5h-0.5zM555.5 234h16.5v0.5h-16.5zM506 234.5h16.5v0.5h-16.5zM524 234.5h2.5v0.5h-2.5zM555.5 234.5h16v0.5h-16zM489.5 235h0.5v0.5h-0.5zM491 235h2v0.5h-2zM506 235h16.5v0.5h-16.5zM523 235h1v0.5h-1zM525.5 235h0.5v0.5h-0.5zM555 235h16.5v0.5h-16.5zM490.5 235.5h3v0.5h-3zM506.5 235.5h0.5v0.5h-0.5zM508.5 235.5h14v0.5h-14zM523 235.5h1.5v0.5h-1.5zM554.5 235.5h17.5v0.5h-17.5zM490 236h4v0.5h-4zM509 236h16v0.5h-16zM554.5 236h17.5v0.5h-17.5zM489.5 236.5h4.5v0.5h-4.5zM509 236.5h15v0.5h-15zM554 236.5h18v0.5h-18zM489.5 237h4.5v0.5h-4.5zM510.5 237h13.5v0.5h-13.5zM524.5 237h1v0.5h-1zM554 237h18.5v0.5h-18.5zM489.5 237.5h4.5v0.5h-4.5zM509.5 237.5h2v0.5h-2zM512 237.5h14.5v0.5h-14.5zM554 237.5h18.5v0.5h-18.5zM489 238h5v0.5h-5zM504 238h0.5v0.5h-0.5zM509 238h0.5v0.5h-0.5zM510 238h17v0.5h-17zM553.5 238h19.5v0.5h-19.5zM489 238.5h4.5v0.5h-4.5zM503.5 238.5h1v0.5h-1zM509 238.5h0.5v0.5h-0.5zM510.5 238.5h17v0.5h-17zM553.5 238.5h18.5v0.5h-18.5zM489.5 239h4v0.5h-4zM494 239h0.5v0.5h-0.5zM510 239h17v0.5h-17zM528.5 239h0.5v0.5h-0.5zM553 239h19v0.5h-19zM490 239.5h4v0.5h-4zM510.5 239.5h16v0.5h-16zM528 239.5h1v0.5h-1zM552.5 239.5h19.5v0.5h-19.5zM490.5 240h0.5v0.5h-0.5zM492.5 240h1v0.5h-1zM502 240h3v0.5h-3zM509 240h0.5v0.5h-0.5zM511 240h15.5v0.5h-15.5zM528 240h1v0.5h-1zM552.5 240h20v0.5h-20zM501 240.5h3v0.5h-3zM504.5 240.5h0.5v0.5h-0.5zM507.5 240.5h1v0.5h-1zM509 240.5h18.5v0.5h-18.5zM528 240.5h1v0.5h-1zM529.5 240.5h1v0.5h-1zM552.5 240.5h20v0.5h-20zM501 241h3v0.5h-3zM504.5 241h1.5v0.5h-1.5zM507.5 241h6.5v0.5h-6.5zM514.5 241h13.5v0.5h-13.5zM552.5 241h20v0.5h-20zM497 241.5h1.5v0.5h-1.5zM501 241.5h1v0.5h-1zM503 241.5h2.5v0.5h-2.5zM508 241.5h6.5v0.5h-6.5zM515.5 241.5h3.5v0.5h-3.5zM519.5 241.5h8.5v0.5h-8.5zM552.5 241.5h20v0.5h-20zM497.5 242h1v0.5h-1zM501 242h1v0.5h-1zM503 242h2.5v0.5h-2.5zM507.5 242h13.5v0.5h-13.5zM521.5 242h6.5v0.5h-6.5zM528.5 242h0.5v0.5h-0.5zM552 242h20v0.5h-20zM496.5 242.5h1.5v0.5h-1.5zM498.5 242.5h1v0.5h-1zM501 242.5h4.5v0.5h-4.5zM507.5 242.5h13v0.5h-13zM521 242.5h0.5v0.5h-0.5zM522 242.5h6v0.5h-6zM529 242.5h2v0.5h-2zM552 242.5h20v0.5h-20zM496.5 243h2.5v0.5h-2.5zM500 243h5v0.5h-5zM507 243h12.5v0.5h-12.5zM520 243h1v0.5h-1zM522.5 243h8.5v0.5h-8.5zM552.5 243h18.5v0.5h-18.5zM496 243.5h0.5v0.5h-0.5zM497 243.5h0.5v0.5h-0.5zM498 243.5h1v0.5h-1zM500.5 243.5h1v0.5h-1zM504 243.5h1v0.5h-1zM507 243.5h12v0.5h-12zM522.5 243.5h3v0.5h-3zM526.5 243.5h1v0.5h-1zM528.5 243.5h3v0.5h-3zM551.5 243.5h19v0.5h-19zM496 244h0.5v0.5h-0.5zM497 244h2v0.5h-2zM504.5 244h14.5v0.5h-14.5zM522.5 244h5v0.5h-5zM528.5 244h3v0.5h-3zM551.5 244h19v0.5h-19zM495 244.5h0.5v0.5h-0.5zM496 244.5h3.5v0.5h-3.5zM503 244.5h1v0.5h-1zM505 244.5h13.5v0.5h-13.5zM522 244.5h5v0.5h-5zM528.5 244.5h3v0.5h-3zM552.5 244.5h18v0.5h-18zM495 245h3.5v0.5h-3.5zM500.5 245h1.5v0.5h-1.5zM503 245h1.5v0.5h-1.5zM505 245h13.5v0.5h-13.5zM521.5 245h5.5v0.5h-5.5zM528.5 245h3v0.5h-3zM552 245h18.5v0.5h-18.5zM495 245.5h3.5v0.5h-3.5zM500 245.5h0.5v0.5h-0.5zM501 245.5h1.5v0.5h-1.5zM503.5 245.5h2.5v0.5h-2.5zM506.5 245.5h1.5v0.5h-1.5zM508.5 245.5h11v0.5h-11zM521.5 245.5h10v0.5h-10zM551.5 245.5h19v0.5h-19zM493.5 246h5.5v0.5h-5.5zM500 246h1v0.5h-1zM501.5 246h0.5v0.5h-0.5zM502.5 246h4.5v0.5h-4.5zM507.5 246h0.5v0.5h-0.5zM508.5 246h23.5v0.5h-23.5zM551.5 246h19v0.5h-19zM493.5 246.5h5.5v0.5h-5.5zM500 246.5h0.5v0.5h-0.5zM502 246.5h5.5v0.5h-5.5zM509 246.5h23v0.5h-23zM551 246.5h19.5v0.5h-19.5zM493.5 247h8v0.5h-8zM502 247h6v0.5h-6zM509.5 247h22.5v0.5h-22.5zM551 247h20v0.5h-20zM494 247.5h38v0.5h-38zM551 247.5h20v0.5h-20zM494.5 248h38v0.5h-38zM551 248h20v0.5h-20zM494.5 248.5h37.5v0.5h-37.5zM550.5 248.5h20.5v0.5h-20.5zM494.5 249h37.5v0.5h-37.5zM550 249h21v0.5h-21zM494.5 249.5h38v0.5h-38zM550 249.5h21v0.5h-21zM494.5 250h38v0.5h-38zM549.5 250h21.5v0.5h-21.5zM495 250.5h38v0.5h-38zM549.5 250.5h21.5v0.5h-21.5zM494.5 251h38v0.5h-38zM549.5 251h21.5v0.5h-21.5zM494.5 251.5h38.5v0.5h-38.5zM549 251.5h21.5v0.5h-21.5zM495 252h25.5v0.5h-25.5zM521 252h12.5v0.5h-12.5zM549 252h21v0.5h-21zM495.5 252.5h38.5v0.5h-38.5zM549 252.5h21v0.5h-21zM496 253h24v0.5h-24zM520.5 253h13v0.5h-13zM549 253h20.5v0.5h-20.5zM496.5 253.5h37v0.5h-37zM549.5 253.5h19.5v0.5h-19.5zM497 254h37v0.5h-37zM549 254h20.5v0.5h-20.5zM496.5 254.5h38v0.5h-38zM549 254.5h20v0.5h-20zM496.5 255h0.5v0.5h-0.5zM497.5 255h36.5v0.5h-36.5zM548.5 255h21v0.5h-21zM498 255.5h0.5v0.5h-0.5zM499 255.5h35.5v0.5h-35.5zM549 255.5h19.5v0.5h-19.5zM499.5 256h35.5v0.5h-35.5zM549 256h20v0.5h-20zM499.5 256.5h35.5v0.5h-35.5zM548.5 256.5h20v0.5h-20zM500 257h35v0.5h-35zM548.5 257h20.5v0.5h-20.5zM500 257.5h34.5v0.5h-34.5zM548 257.5h20.5v0.5h-20.5zM499.5 258h35.5v0.5h-35.5zM547.5 258h20.5v0.5h-20.5zM500 258.5h34.5v0.5h-34.5zM548 258.5h20v0.5h-20zM500 259h34v0.5h-34zM548 259h20v0.5h-20zM500 259.5h35.5v0.5h-35.5zM547.5 259.5h20.5v0.5h-20.5zM500 260h35v0.5h-35zM547.5 260h20v0.5h-20zM500 260.5h35v0.5h-35zM547.5 260.5h20v0.5h-20zM500 261h35v0.5h-35zM548 261h19v0.5h-19zM500 261.5h35v0.5h-35zM548 261.5h19v0.5h-19zM501 262h34v0.5h-34zM548 262h19v0.5h-19zM501 262.5h34.5v0.5h-34.5zM547.5 262.5h19.5v0.5h-19.5zM501.5 263h34.5v0.5h-34.5zM547.5 263h19v0.5h-19zM502 263.5h34.5v0.5h-34.5zM547.5 263.5h19v0.5h-19zM503 264h33.5v0.5h-33.5zM547 264h19v0.5h-19zM503 264.5h33.5v0.5h-33.5zM547 264.5h18.5v0.5h-18.5zM503.5 265h33v0.5h-33zM546.5 265h19v0.5h-19zM503.5 265.5h33.5v0.5h-33.5zM546.5 265.5h19v0.5h-19zM503.5 266h33.5v0.5h-33.5zM546.5 266h19v0.5h-19zM504 266.5h33v0.5h-33zM546.5 266.5h19v0.5h-19zM504.5 267h32.5v0.5h-32.5zM546 267h19v0.5h-19zM504.5 267.5h32.5v0.5h-32.5zM546 267.5h19v0.5h-19zM505 268h32.5v0.5h-32.5zM545.5 268h19v0.5h-19zM505.5 268.5h32v0.5h-32zM546 268.5h18v0.5h-18zM506 269h32v0.5h-32zM546 269h18v0.5h-18zM506 269.5h32v0.5h-32zM545.5 269.5h18.5v0.5h-18.5zM506 270h32v0.5h-32zM545.5 270h18.5v0.5h-18.5zM506 270.5h32v0.5h-32zM545 270.5h19v0.5h-19zM506.5 271h31.5v0.5h-31.5zM545 271h19v0.5h-19zM507 271.5h31v0.5h-31zM545 271.5h18.5v0.5h-18.5zM507 272h31.5v0.5h-31.5zM545 272h18v0.5h-18zM507.5 272.5h31v0.5h-31zM544.5 272.5h18v0.5h-18zM508 273h30.5v0.5h-30.5zM544.5 273h18v0.5h-18zM508.5 273.5h30v0.5h-30zM544.5 273.5h18v0.5h-18zM509 274h30v0.5h-30zM544.5 274h18v0.5h-18zM509 274.5h29.5v0.5h-29.5zM544.5 274.5h18v0.5h-18zM509 275h29.5v0.5h-29.5zM544.5 275h17.5v0.5h-17.5zM509.5 275.5h29v0.5h-29zM544.5 275.5h17v0.5h-17zM509.5 276h29.5v0.5h-29.5zM544.5 276h17v0.5h-17zM510 276.5h29v0.5h-29zM544 276.5h17.5v0.5h-17.5zM510.5 277h29v0.5h-29zM544 277h17v0.5h-17zM510.5 277.5h29v0.5h-29zM544 277.5h17v0.5h-17zM511 278h28.5v0.5h-28.5zM544 278h16.5v0.5h-16.5zM511.5 278.5h28v0.5h-28zM543.5 278.5h17v0.5h-17zM512 279h28v0.5h-28zM543.5 279h16.5v0.5h-16.5zM512.5 279.5h27.5v0.5h-27.5zM543.5 279.5h16.5v0.5h-16.5zM513 280h27.5v0.5h-27.5zM543.5 280h16.5v0.5h-16.5zM514 280.5h26v0.5h-26zM543.5 280.5h16.5v0.5h-16.5zM514.5 281h26v0.5h-26zM543 281h17v0.5h-17zM514.5 281.5h26v0.5h-26zM543 281.5h17.5v0.5h-17.5zM515 282h25.5v0.5h-25.5zM543 282h17.5v0.5h-17.5zM515.5 282.5h25v0.5h-25zM543 282.5h18.5v0.5h-18.5zM516 283h25v0.5h-25zM543 283h19v0.5h-19zM516.5 283.5h24.5v0.5h-24.5zM542.5 283.5h20v0.5h-20zM517 284h24v0.5h-24zM542.5 284h20v0.5h-20zM517.5 284.5h24v0.5h-24zM542.5 284.5h18.5v0.5h-18.5zM518 285h23.5v0.5h-23.5zM542.5 285h18v0.5h-18zM518.5 285.5h23v0.5h-23zM542.5 285.5h18v0.5h-18zM519 286h22.5v0.5h-22.5zM542 286h18.5v0.5h-18.5zM519 286.5h22.5v0.5h-22.5zM542 286.5h14.5v0.5h-14.5zM557 286.5h0.5v0.5h-0.5zM558 286.5h2.5v0.5h-2.5zM519.5 287h37v0.5h-37zM557.5 287h2.5v0.5h-2.5zM519.5 287.5h36v0.5h-36zM557.5 287.5h2v0.5h-2zM520.5 288h34.5v0.5h-34.5zM520.5 288.5h34v0.5h-34zM521.5 289h32.5v0.5h-32.5zM522.5 289.5h31.5v0.5h-31.5zM523.5 290h30v0.5h-30zM524.5 290.5h28.5v0.5h-28.5zM525 291h27.5v0.5h-27.5zM525.5 291.5h26.5v0.5h-26.5zM526.5 292h25v0.5h-25zM527.5 292.5h23.5v0.5h-23.5zM529 293h21.5v0.5h-21.5zM530 293.5h19.5v0.5h-19.5zM531 294h18v0.5h-18zM532.5 294.5h15.5v0.5h-15.5zM534 295h13.5v0.5h-13.5zM536 295.5h11v0.5h-11zM537.5 296h4v0.5h-4zM542.5 296h4v0.5h-4z"/><g fill="none" stroke="#000" stroke-opacity="0.35" stroke-width="5.5" stroke-linecap="round"><path d="M562.9 266.4h0M505.4 236.7h0M546.9 274h0M512.5 221.7h0M494.9 245.8h0M551.2 291.4h0M508.7 270.4h0M558.8 276.1h0M566.3 258.2h0M566.2 184.2h0M534.8 265.7h0M522.2 288.8h0M517 290.9h0M550 259.8h0M498.6 259.9h0M563.3 222.2h0M536.1 272.7h0M531 245.8h0M523.5 231.1h0M539.2 287.2h0M545.8 281.5h0M562.1 285.2h0M571.8 278.6h0M490.5 236.9h0M491.4 250.2h0M569.5 219.9h0M568.1 251.5h0M529.9 290.8h0M507.4 247.5h0M558.3 228.4h0M522.7 244.6h0M551.3 250.7h0M570.9 243.1h0M517.1 280.9h0M573.6 253h0M565.1 211.8h0M500.2 235.1h0M519.7 253.3h0M533.1 258.1h0M549.1 265.6h0M522.6 200.1h0M578.7 265.4h0M571.4 146.8h0M511 291.6h0M512.4 276h0M513.9 239.9h0M569.1 225.4h0M499.4 242.5h0M573.5 233h0M557.8 216.6h0M553.5 244.7h0M545.4 293.8h0M566.6 167.4h0M567.4 232.6h0M504.1 263.9h0M524.2 238.5h0M517.1 232.3h0M554.1 237.5h0M556.7 286.4h0M494.4 277h0M581.5 249.6h0M493.8 265h0M537.1 278.6h0M559.3 210.9h0M497.2 250.9h0M478.8 232.7h0M562.1 201.3h0M515.1 190.6h0M520.3 205.8h0M573 214.5h0M506.2 286.8h0M566 273.6h0M488.5 245h0M494.9 232.7h0M511.3 229.1h0M538 293.8h0M490.6 272.9h0M574.7 289.8h0M506.6 280.4h0M565.4 280.1h0M501.9 275.9h0M563.9 190.3h0M513.3 211h0M571.1 202.7h0M563.6 293.3h0M524.1 219.9h0M569.8 267.4h0M514.6 203.5h0M569.3 284.2h0M528.1 226.3h0M584.5 260.9h0M587.5 254.3h0M519.9 226.4h0M588.9 238.1h0M531.2 251.9h0M591.9 260.6h0M566.7 197.6h0M560.7 233.4h0M478.7 250.3h0M520.5 192h0M573.2 193.9h0M511.2 234.9h0M511.5 168.8h0M512.2 196h0M518 215.2h0M511.8 174.4h0M516.1 245.9h0M525.4 211.6h0M529.3 233.5h0M514.7 183.8h0M573.9 207.8h0M566.8 176.4h0M573.4 175.7h0M569.4 158.2h0M573.8 168.8h0M573.8 186.6h0M574 151.9h0M474.8 240.5h0M485.4 270.8h0"/><path d="M560.5 271.2h0M508.7 234.4h0M551.2 255.1h0M555.6 292.1h0M503.5 238h0M567 255.8h0M558.8 276.5h0M508.2 268.9h0M498.6 244.7h0M562.5 285.5h0M520.6 284.6h0M546.6 275.9h0M526.9 289.6h0M564.3 217.9h0M520.6 227.8h0M512.7 220.6h0M545 286.2h0M528.9 241h0M559 225.4h0M518.2 241.7h0M493.2 237.6h0M535.5 269h0M571.4 239.5h0M502.4 259.4h0M514 280.3h0M509 243h0M493.6 251.2h0M503.9 248.9h0M537 275.7h0M533.7 262h0M548.4 268.6h0M565.8 262.7h0M511 273.9h0M559.4 232.5h0M534 292.6h0M568.7 248.1h0M573.5 216.9h0M572.2 224.5h0M552.8 246.2h0M511.4 288.7h0M518.7 197.3h0M519.5 251h0M488.2 246.1h0M567.5 228h0M553.9 240.3h0M546.8 292.7h0M550.2 262.8h0M538.8 284.5h0M513.3 237.9h0M526.7 247.7h0M514.6 228.5h0M521.9 233.6h0M499.2 254.3h0M552.5 287.1h0M567.7 272.7h0M532.1 256.4h0M558.6 213.6h0M516.9 205.6h0M532.2 250.7h0M501.8 273.4h0M565.3 279.7h0M560.9 205.5h0M499.8 265.4h0M573.3 232.8h0M562.2 291.2h0M573.8 253.5h0M513.8 211.5h0M526.9 225.4h0M506.1 284h0M568.8 200.1h0M558 282.2h0M540.4 293.9h0M476.2 235.1h0M481.6 236.8h0M583.3 267.6h0M568.2 209.5h0M511.2 203.3h0M573.5 206h0M498.3 234.4h0M520.7 218.8h0M488.9 232.7h0M511.1 168.8h0M523.5 206.2h0M519.6 211.8h0M527.9 232.2h0M526.1 216.6h0M512 186.4h0M562.7 194.5h0M573.3 192.8h0M571.1 182.4h0M558.9 219.3h0M565.5 185.8h0M572.3 147.5h0M572.5 170.4h0M569.1 153.5h0M567.2 173.5h0M573.7 164.7h0M589.3 243.4h0"/><path d="M562.1 269.2h0M510.9 237.1h0M503.6 233.5h0M550.4 254.4h0M497.9 244.2h0M507.5 272.3h0M507 266.7h0M545.6 280.8h0M511.3 224h0M518.3 281.9h0M550.3 260.4h0M559.9 282.3h0M547.2 272.9h0M536.4 274.1h0M533.2 258.5h0M553.6 287.5h0M534.2 265.4h0M500.1 259.4h0M521.6 241.2h0M526.5 244.6h0M571.6 240h0M561.9 226.7h0M565.4 259.3h0M509.5 242.9h0M572.9 227.2h0M556.1 224h0M518.9 229.9h0M556.9 230.4h0M565.2 288.7h0M553.9 241h0M521.6 288.1h0M529.5 290.8h0M571 218.1h0M559.4 215.7h0M502.5 241.2h0M569 249.5h0M512.5 276.3h0M524.5 227.9h0M516.2 290.1h0M496 250.4h0M490.6 237.6h0M537.8 281.5h0M559.1 276.3h0M524 234.1h0M535 292.8h0M548.4 267.2h0M497.1 236.8h0M543.4 293.8h0M502.5 247.2h0M519.4 248.4h0M551.7 247.1h0M566.7 232.4h0M518.6 198.3h0M531.1 249.1h0M562.8 220.2h0M491.5 245.9h0M503.7 277.8h0M509.7 288.1h0M511.9 230.7h0M549.1 291.4h0M517.3 206.1h0M539.1 287h0M544.6 286.4h0M569.6 275.3h0M507.8 249.6h0M510.5 210.8h0M569.9 265h0M576.5 257.3h0M484.7 244.7h0M506.6 283.2h0M561.2 208.1h0M567.8 282.1h0M530.8 240.6h0M494.6 265.7h0M568.9 210.2h0M572.8 199h0M518 213.5h0M513.8 219.1h0M526.7 220.7h0M516.3 168.8h0M523.2 210.6h0M519.8 220.2h0M516.1 240.8h0M511 198.1h0M520.5 255.4h0M563.2 192.9h0M569.7 183.7h0M562.8 198.8h0M571.7 204.9h0M573.8 191.6h0M572.7 147.5h0M564.5 186.8h0M574.1 212.2h0M572.5 153.1h0M571.6 178.4h0M571.4 162.9h0M567.1 171.4h0"/><path d="M552.6 249.8h0M546.8 275.5h0M562 269.4h0M508.1 270.3h0M515.7 278.9h0M532.8 260.1h0M535.6 270.1h0M520.8 244.4h0M558.2 287.6h0M496.1 247h0M545 284.2h0M520.7 286.8h0M506.8 246.6h0M565.4 260.7h0M515.5 222.3h0M530.1 241.5h0M510.5 240.4h0M561 221.4h0M561.2 281.9h0M527.7 290.7h0M499.2 242.2h0M533.4 292.4h0M516.2 230.1h0M555.9 233.2h0M552 290.3h0M537 279.1h0M506.5 232.7h0M501 234.9h0M501.4 260.2h0M556.7 225.6h0M496.1 253.2h0M559.2 215.8h0M549.7 263.7h0M569.2 235.8h0M547.9 269.6h0M570.7 218.2h0M549.9 257.7h0M569.7 225.2h0M492.1 237.9h0M569.3 245.7h0M559.3 274.8h0M511.7 274.6h0M553.2 242h0M531.5 254h0M523.6 233.8h0M539.3 286.7h0M562.5 228.5h0M570.5 251.8h0M505.9 264.9h0M501.7 249.5h0M518 253.3h0M574.1 242h0M513 204.4h0M514.6 290.8h0M519.3 201.6h0M505.6 276.9h0M567.9 271.5h0M567.7 278.7h0M496.2 262.9h0M543.4 293.9h0M560.5 207.1h0M566.9 284.2h0M526.2 224.6h0M512.6 215.8h0M510.6 224.9h0M525.4 217.2h0M512.6 234.9h0M520.6 209.5h0M518.1 215.8h0M524.8 239.8h0M514.9 168.8h0M518.1 193.8h0M531 248h0M514.4 198h0M510.1 209.7h0M571.9 199.3h0M566 211.1h0M562.8 194.3h0M570.2 205.1h0M567.2 183.7h0M574 189h0M574.1 230.7h0M568.7 193h0M572.6 211.2h0M560.6 200.7h0M562.8 188.1h0M573.4 149.5h0M571.4 176.7h0"/><path d="M546.1 278.6h0M547.3 272.1h0M561.6 269.7h0M505.6 265.8h0M551.3 252.8h0M533.3 262.6h0M522.4 240.3h0M505.7 242.3h0M566.2 258.1h0M517.5 281.7h0M520.9 286.4h0M530.8 291.3h0M558.6 220.5h0M553.2 245.1h0M493.3 246.1h0M563.2 282.3h0M557.2 286.9h0M504.2 235.2h0M536.2 271.6h0M499.1 262.9h0M549.1 262.4h0M511.5 241.6h0M556.1 234.5h0M502.3 256.6h0M537.9 281h0M514 229.6h0M497.3 250.9h0M491.1 236.8h0M514.1 236.4h0M509.6 272h0M568.5 250.6h0M565.1 229.9h0M532 254.8h0M552.2 291.4h0M525.1 290.1h0M571.6 240.7h0M557.9 278.6h0M563.7 264.1h0M512.7 278.9h0M530.3 241.5h0M565.8 224h0M571.3 223.5h0M519.9 234.9h0M497.8 239.5h0M516.8 244.6h0M569.9 235.4h0M519.9 252.2h0M569.3 216.9h0M518 199.5h0M556.2 229h0M502.4 247h0M528.6 235.6h0M562.5 216.1h0M536.3 293.1h0M539.4 288.1h0M572.9 254h0M543.3 293.8h0M525.1 246.4h0M513.6 292.4h0M566.8 275.8h0M502.4 276.1h0M530.8 249.1h0M522.1 206.1h0M545.2 284.4h0M559.4 204.5h0M562.7 288.5h0M512.3 218.9h0M524 220.3h0M516.4 204.9h0M525 226h0M511.7 209.3h0M516.7 222.6h0M517.5 214.9h0M523 214.6h0M513.7 169.9h0M511.2 247.3h0M511.1 198.2h0M569.3 199.6h0M574 195.7h0M562.5 195.5h0M564.3 210.3h0M571.4 208.7h0M566.2 183.7h0M571.8 229.7h0M573.3 186.5h0M563.4 189h0M558.8 212h0M567.8 193.9h0M573.8 147.5h0M553.4 239.5h0"/><path d="M562 272.5h0M545.8 280.9h0M535.5 266.6h0M507.9 269.4h0M547.5 270.3h0M532.5 292h0M565.3 259.2h0M519.3 240.3h0M523.3 289.3h0M517.8 281.5h0M532.9 258.7h0M560.3 285.2h0M503.3 244h0M561.4 223.7h0M503.7 261.7h0M536.8 274.7h0M498.2 253.9h0M551 255.9h0M538.2 281h0M563.7 264.9h0M556.6 236.7h0M493.1 237.1h0M526.3 239.6h0M494.9 245.1h0M569 249.6h0M509.9 234.3h0M516.7 233h0M561.8 231.4h0M552 287.7h0M570.3 239.1h0M568.1 228.5h0M506.8 239.2h0M531.7 246h0M551.8 249.8h0M562.4 278h0M512.5 277.5h0M511.4 245.6h0M571.7 222.2h0M506.7 275.6h0M555.9 228.1h0M532.1 253.2h0M553.8 244.2h0M544.5 287.3h0M549.7 264.6h0M545.3 293.8h0M521.8 253.2h0M516.3 289.5h0M518.2 246.9h0M570.7 272.5h0M502.1 268h0M563.9 211.3h0M512 223.4h0M517.7 204.4h0M525.8 230.6h0M511.5 214h0M525.9 218.4h0M518.4 213.8h0M512.2 207.5h0M527.3 224.4h0M524.2 246.1h0M521.8 226h0M524.3 206.7h0M514.4 168.8h0M513.7 200.3h0M519.7 219.7h0M514.5 194.6h0M568.7 195.8h0M572.1 216.6h0M561.6 203.2h0M563.3 193.5h0M558.8 214h0M572.9 185.7h0M572.6 204.4h0M569.6 209.7h0M573.9 231.2h0M557.6 219.5h0M574.2 193.1h0M565.4 187.2h0M568.5 180.1h0"/><path d="M545.7 281.3h0M506 265.8h0M567 255.5h0M514.3 280.3h0M505.5 245.1h0M535.1 266h0M559.9 288.4h0M529 290.5h0M547 273.8h0M521.9 288.8h0M499 256.2h0M536.1 274.7h0M514.5 242h0M496.5 250.3h0M560.6 272.3h0M561.1 219.2h0M550.7 253.7h0M491.1 239.9h0M508.3 271h0M503 238.9h0M506.3 233.5h0M533.3 254h0M563.2 265.5h0M555.7 232.2h0M519.7 283.6h0M496.4 242.8h0M569.3 245.2h0M549.9 259.5h0M500.6 262.5h0M527.1 237.3h0M537.7 281.5h0M555.5 238.2h0M548.9 265.9h0M529 246.3h0M570.6 239.2h0M517.7 232.4h0M572.3 231.5h0M564.7 284.6h0M559.2 281.8h0M572 219.1h0M561.6 225.8h0M550.3 290.5h0M564.2 277.7h0M494.6 234h0M553 245.5h0M511.5 230.2h0M566.7 270.3h0M522.5 242.4h0M512 275.2h0M535 292.8h0M543.3 293.8h0M568.6 263.8h0M502.7 275.9h0M513.3 220.8h0M516.8 225.5h0M527.1 226.4h0M518.8 204.4h0M516.4 215.6h0M511.4 237.2h0M512.5 209.4h0M522.7 251.5h0M519.2 210.5h0M524.6 219.1h0M510.7 215.1h0M513.4 168.8h0M524.5 232.1h0M517.2 197.9h0M561.7 207.1h0M556.1 223.5h0M572.7 198.9h0M571 212.2h0M571.9 205.1h0M562.7 197.8h0M560.4 213.1h0M566.2 231.8h0M571.5 186.1h0M564.8 188.6h0M568.1 226.4h0M573.5 192.4h0"/><path d="M545.8 281.2h0M506.6 268.1h0M568.7 256.8h0M516.5 279.8h0M506.8 243h0M518.7 285.8h0M534.6 267.1h0M548 269.7h0M546.8 275.3h0M535.7 272.5h0M513.9 241.1h0M491 236.1h0M551.3 251.2h0M498.2 247.1h0M501.4 263.7h0M557.2 289.5h0M502.2 256.2h0M527 290.3h0M537.8 279.4h0M508.2 236.6h0M562.6 267h0M556.6 237.4h0M568.6 246.5h0M523.4 234.9h0M564.8 261h0M559.7 274.4h0M533.6 293.2h0M497.3 240.9h0M525.3 242.7h0M549.5 260.3h0M539.1 285.9h0M560.1 283.9h0M532.3 256h0M509.7 230.9h0M511.3 275.1h0M495.3 253.3h0M572.6 235.8h0M573.5 228.1h0M530.2 245.4h0M491.4 242.1h0M561.7 227.5h0M570 221.3h0M553.5 242.2h0M517.3 228.4h0M550 292.6h0M556.5 224h0M522.1 247.8h0M556.6 230.7h0M561.7 219.7h0M529.7 238.5h0M527.7 228.1h0M525.3 221.9h0M513.4 215.5h0M518.9 218.2h0M510.8 208.7h0M512.8 224.2h0M521.3 206.2h0M524.5 214.9h0M515.4 205.5h0M512.7 168.8h0M515.1 233.4h0M519.4 211.8h0M562.5 210.7h0M571 194.5h0M569.5 200.5h0M560.6 203h0M573.7 208.1h0M571.4 187h0M562.3 196.7h0M543.3 293.8h0M567.1 230.4h0M564.8 187.3h0M558.5 214.9h0M567.3 216.3h0"/><path d="M546.1 279.3h0M507.4 246.4h0M506.9 266.4h0M522.3 286.9h0M537 274.8h0M518.3 282.4h0M567 255.5h0M557.6 286.5h0M513.1 236.7h0M495.8 248h0M492.1 239.9h0M507.2 233h0M551.7 254.9h0M509.8 271.5h0M568.6 249.3h0M503 261.4h0M503.4 240.8h0M498.4 254.7h0M538.3 282.5h0M535.2 266.6h0M561 271.1h0M563.7 264.2h0M533.2 259h0M548.6 267.2h0M559.1 232.8h0M524.4 243.8h0M525.1 237.2h0M517.3 241.4h0M554.6 291.5h0M533 293.9h0M513.6 277.7h0M529.5 246.9h0M570.3 240.7h0M527.1 290.3h0M558.9 280.5h0M562.4 225.1h0M544.7 286.6h0M570.5 223.6h0M564.3 275.8h0M514.7 228.6h0M546.3 293.3h0M569.1 217.6h0M516.2 223.1h0M523.5 225.9h0M515.9 205.5h0M522.4 209.1h0M522.5 251.6h0M524.9 218.2h0M510.2 220.6h0M532.6 252.8h0M511.8 213h0M522 231.8h0M514.9 168.8h0M562.2 219h0M560.4 210.3h0M571.5 197.7h0M566.8 209.2h0M561 197.7h0M569.8 233.3h0M571.7 185.4h0M572.3 207.2h0M562.4 191.4h0M551.7 249.1h0M555.8 227.9h0M554.7 239.3h0M565.5 185.4h0M549.5 260.3h0M547.2 272.5h0M562.7 203.8h0"/><path d="M546.2 278.8h0M535.8 270h0M508.9 270.4h0M536.8 276.1h0M522.4 288h0M516.1 279.5h0M561.3 286.5h0M509.1 235.1h0M505.6 246.7h0M489 236.1h0M504.8 264.2h0M552 250.8h0M567.1 254.1h0M495.8 251.3h0M569.7 246.7h0M564.3 269.1h0M538.6 283.9h0M497 243.5h0M559.4 274.5h0M499.9 257.5h0M549.8 259.1h0M533.7 264h0M548.5 268.4h0M524 238.4h0M511.6 241.2h0M518.6 243.6h0M503.5 240.9h0M506 275.5h0M526.9 291.2h0M557.7 228.3h0M565.9 227.7h0M556.4 235.9h0M529.3 245.5h0M564.2 262.5h0M534.5 292.6h0M532.2 257.3h0M547 292.3h0M495.9 236.1h0M572.8 236.2h0M544.9 285.4h0M513.2 230.1h0M527.1 233.4h0M524.8 226.2h0M513.7 219.3h0M520.7 207.4h0M512 208.7h0M526.8 219.9h0M519.3 218.9h0M510.3 224h0M519.4 231.1h0M521.3 251.9h0M516.5 202.7h0M570.7 216.8h0M559.2 220.9h0M562 214.1h0M572.7 195.9h0M573.7 223.3h0M572.1 207h0M574.1 188.7h0M566.6 196h0M562.4 191.9h0M561.2 200.1h0M570.3 183.6h0M570 200.8h0M560.8 205.9h0M553.6 244.5h0M564.8 185.2h0"/><path d="M545.3 282.6h0M546.9 273.9h0M536.3 271.6h0M523.9 290.6h0M516.8 280.7h0M537.5 278.4h0M510.5 234.1h0M521 284.8h0M501.7 259.7h0M557.3 287.6h0M567.2 252.6h0M538.9 284.4h0M496.1 238.5h0M566.3 258.8h0M496.1 248.2h0M506.8 243.3h0M508.4 269.9h0M496 255.5h0M550.9 253.1h0M534 263h0M561.5 275.2h0M526.5 236.6h0M548.4 267.8h0M568.7 242h0M562.4 267.6h0M511.5 276.7h0M565.8 225.5h0M556.9 234.8h0M558.3 225.4h0M530.5 249.4h0M521.1 240.7h0M503.3 236.3h0M536.7 293.2h0M500.8 244.6h0M545.4 293.8h0M531.9 255.1h0M550.1 259.1h0M569.6 235.5h0M520.8 247.5h0M514.6 224.9h0M513.3 241.7h0M516.7 231.7h0M526.4 221.9h0M531.1 242.9h0M520.6 206.9h0M520.9 225.8h0M521 219h0M513.9 208.4h0M524.9 229.7h0M512.2 215.1h0M523.6 211.5h0M572.8 217.2h0M562.4 215.1h0M561.1 209.4h0M570.7 199.5h0M573.7 194.1h0M562.1 230.4h0M571.4 210.3h0M573.4 185.3h0M561 202.4h0M561.5 196.2h0M572 227.4h0M554.5 241.2h0M562.7 187.8h0"/><path d="M546.8 276.3h0M536.1 269.7h0M536.8 278h0M566.3 257.4h0M560.2 282.9h0M538.7 285.1h0M505.4 247.7h0M510.1 273.1h0M504.6 264.2h0M569.2 247.8h0M497.7 253h0M545.4 283.2h0M490.7 239.2h0M521 285.5h0M551.6 251.9h0M533 261.3h0M547.9 270.7h0M524.9 241h0M561.5 271.3h0M495.5 247.8h0M514.7 280.6h0M502.7 242h0M565.5 223h0M564.6 262.8h0M510.2 240.2h0M536.8 293.3h0M559.9 232.3h0M558.4 277.5h0M508.3 233.6h0M549.2 265h0M517 244.2h0M546.9 292.4h0M521.4 236.1h0M529.9 250.4h0M514.5 230.7h0M510.1 226.3h0M526.8 226h0M520.5 210.1h0M523.3 246.3h0M523.6 218.8h0M519.9 227h0M515.5 205.5h0M513.3 219.6h0M510.8 213.8h0M570.1 241.9h0M560.5 226.6h0M570.4 218.5h0M559.9 215.8h0M571.6 204.3h0M568.7 235.6h0M569.9 194.9h0M564.7 211.3h0M558.1 221.4h0M572.6 189.5h0M559.1 210.2h0M570.3 184.5h0M570.8 209.8h0M560.7 197.8h0M555.1 239.8h0M561.8 192.3h0M570.9 224.8h0"/><path d="M545.9 280.5h0M536.9 275h0M537.8 281.3h0M509.1 246.4h0M566.8 255.2h0M558 285.2h0M499.5 253.4h0M503.5 242.6h0M569.4 247.6h0M507.9 267.8h0M501.1 247.7h0M492 235.5h0M502.6 260.9h0M495.7 241.4h0M534.2 264h0M550.9 255.3h0M511.2 275.8h0M519.1 283.3h0M561.2 270.9h0M547.6 270.4h0M536.6 293.2h0M510.8 239h0M516.7 242.7h0M564.6 261.8h0M526.5 238.9h0M533.5 258.3h0M522.9 244.6h0M529.5 249.5h0M512 233.4h0M524.7 233h0M509.9 226.7h0M525.7 221.4h0M521.3 208.9h0M518.3 218.3h0M517.8 228.5h0M514.9 207.6h0M524.7 227h0M513.2 214.2h0M563.2 225h0M569.7 236.8h0M571.2 219.9h0M562.7 211.8h0M560.1 217.6h0M554.7 231.2h0M572 199.5h0M549.1 261.8h0M572 207.1h0M566.1 197.5h0M572.2 231.7h0M572.1 189.2h0M569.7 183h0M559.3 206.5h0M569.3 225.4h0M561.7 193.9h0M553.1 248.6h0"/><path d="M545.6 281.5h0M537.6 280h0M535.9 270.2h0M539.2 286.3h0M506.8 242.9h0M500.9 255.9h0M506.4 266h0M568.8 248.8h0M491.8 236.5h0M558.7 284.5h0M517.3 281.3h0M551.7 251.7h0M511.7 280.8h0M495.9 245.9h0M565.8 258.5h0M550.1 257.1h0M563.1 265.8h0M534.6 262.3h0M535 292.8h0M548.4 269.8h0M517.8 244.4h0M525.4 243.4h0M501.9 238.9h0M510.5 233.1h0M510.2 271.8h0M530.8 252.1h0M511.7 222.5h0M522.6 225.4h0M523.8 209.4h0M514.8 227.3h0M524.9 232.4h0M520.1 216.7h0M514.4 238.8h0M525.9 218.9h0M516.6 204.5h0M511.2 209.7h0M519.3 233.5h0M559 222.4h0M572.8 219.5h0M557.4 233.3h0M563.3 216.9h0M569.6 237.5h0M566.7 226.3h0M560.1 273.4h0M570.4 202h0M572.3 196h0M560.6 209.7h0M570 184.1h0M572 212.5h0M567.5 231.9h0M562.9 194.3h0"/><path d="M538.7 284.5h0M546.3 278.3h0M510.2 246.1h0M536.7 277.2h0M491.9 238.6h0M501.3 256.7h0M503.8 263.3h0M502.1 243.2h0M536.4 271.7h0M507.5 267.6h0M520.8 284.7h0M497.5 248.5h0M547.3 272h0M568.1 250.9h0M548.5 266.5h0M518.7 242.2h0M510.1 240.1h0M521.4 247.1h0M534.3 266.2h0M510 231.8h0M525.2 242.6h0M533.3 256.5h0M512.6 224.2h0M514.2 236.2h0M524.2 226.3h0M521.1 211.2h0M518.2 227.5h0M521.9 235.9h0M510.3 218.2h0M514 206.4h0M526.6 219.6h0M530.6 246.8h0M563.8 220.5h0M545 284.6h0M550.8 256.6h0M573.5 221h0M569.3 217.3h0M563.7 212.1h0M573 194.5h0M568.1 200.4h0M570.8 237.8h0M558.4 214.2h0M554.8 230.8h0M568.6 209.2h0M569.1 230.9h0M571.1 188.3h0M568.8 182.8h0M558.7 225h0M563 265.8h0"/><path d="M537.6 279.7h0M546.1 277.9h0M503.8 247.3h0M491.9 239.2h0M539 286.5h0M548.4 267.8h0M509.5 244.3h0M536.4 273h0M566.6 255.7h0M525.4 242.3h0M535.3 265.4h0M511.1 231.5h0M516.3 223.6h0M519.5 211.2h0M512.6 237.7h0M531 253.1h0M518.4 230.9h0M525.5 228.3h0M560.7 217.3h0M551.2 251.6h0M567.3 222.4h0M561.4 223.3h0M568.5 195.7h0M569 242.6h0M569.7 203.1h0M561 208.5h0M572.4 219.7h0M569.2 183.3h0M559.4 231.9h0M564.7 213h0"/><path d="M538.2 283h0M499.3 245.4h0M545.3 283h0M546.5 277h0M529.7 242.1h0M512.7 230h0M524.1 241.2h0M521.6 207.6h0M520.9 231.4h0M548 268.4h0M561.2 217.4h0M568.2 251.6h0M568.2 220.1h0M569.8 241.5h0M560.2 210.5h0M567 225.9h0M556.4 230.9h0M558.7 222.5h0M569.9 211.7h0"/><path d="M546.9 274.6h0M545.3 283.2h0M500.1 247.1h0M528.8 245h0M537.9 281.4h0M510.6 226.5h0M560.2 218.9h0M567.5 253.2h0M572.5 217h0M549.4 264.8h0M569.4 221.8h0"/><path d="M528.5 242.4h0M514.9 225.9h0M559.2 215.1h0M547.6 271.3h0M572.2 219.8h0M564.4 223h0"/><path d="M558.6 214h0"/><path d="M561.4 214.8h0"/></g><g fill="none" stroke="#ff0000" stroke-opacity="0.35" stroke-width="5.5" stroke-linecap="round"><path d="M501.5 187.1h0M503.4 201.1h0M485.4 217.7h0M490.8 223.2h0M495.7 231.6h0M509.4 196.9h0M482.2 231h0M488.6 231.8h0M588.4 207.3h0M574.7 228.2h0M508.9 222.5h0M574.3 219.2h0M506.2 229.5h0M503.6 156.8h0M476.4 203.4h0M576.6 205.9h0M463.9 180h0M470.3 183.2h0M480.6 210.5h0M583.5 231.5h0M498.2 219.1h0M575.3 191.2h0M576.4 133.2h0M497.1 213h0M474 220.8h0M491.8 199.9h0M507 175.8h0M502.6 211.7h0M490.4 187.2h0M478.9 182.2h0M493 179.1h0M581.1 224h0M495.9 163.2h0M575.7 148.6h0M581 167.5h0M583.9 172.6h0M580.3 196h0M506.8 165.7h0M479.1 196.1h0M483.6 224.3h0M509 206.7h0M471.8 191.7h0M498.9 224.6h0M481.8 189.1h0M574.7 212.2h0M584 160.3h0M471.3 162.6h0M499.1 181.5h0M507.3 186h0M498.4 192.3h0M489.3 209h0M579.6 141.4h0M582 211.3h0M464.8 154.2h0M482 202h0M579.9 177.6h0M486.9 161.3h0M491.6 214.9h0M484.6 194.6h0M488.5 117h0M507.6 132.3h0M463.3 222.5h0M486.7 182.8h0M494.4 170.7h0M469.8 228.1h0M508.9 215.1h0M489.2 150.1h0M472.3 208.1h0M496.7 207h0M484.6 172.7h0M489 144.1h0M586.7 221.1h0M585.4 150.4h0M594.6 187.1h0M603.6 218.1h0M580.5 184.3h0M596.3 165.6h0M607.1 208.4h0M485.4 69.1h0M431.2 113.5h0M488.6 104.1h0M443.2 183.4h0M491.2 132.4h0M498.7 136.7h0M458.3 157.4h0M580.2 128.6h0M595.7 205.1h0M599 229.2h0M445.8 216h0"/><path d="M496.6 232.2h0M485.3 219.9h0M489.3 224.8h0M498.9 201.2h0M576.3 218.5h0M503.9 231.8h0M508.5 191.5h0M504.2 226h0M499.6 155.1h0M575.7 211.1h0M494.4 187.9h0M586.6 229h0M502.5 183.4h0M489.6 230.4h0M473.2 221.7h0M476 186.4h0M492.5 219.1h0M504 210.2h0M501.4 217.6h0M497.5 211.4h0M500.4 188.6h0M477.1 206.4h0M574.3 229h0M496.4 163.9h0M495.9 225.9h0M478.6 220.3h0M483.3 206.3h0M576.8 202.5h0M508.2 220.7h0M493.6 206.9h0M506.2 203h0M491.7 200.8h0M479.7 211.8h0M504.1 196.9h0M508 180.8h0M502.7 174.4h0M463.1 222.9h0M484.3 228.2h0M473.9 179.4h0M496.1 182.2h0M509 214.9h0M576.5 191h0M579.7 223.4h0M586.5 145.7h0M580 162.8h0M585.9 219.6h0M590 185.9h0M575.3 180.1h0M487.3 67.7h0M592.3 167.4h0M465.8 229.2h0"/><path d="M496.5 228.2h0M484.4 214.8h0M577.7 216.7h0M574.6 223.4h0M487.9 230.1h0M503.3 227.8h0M575.5 209.9h0M491.8 219.7h0M501.3 212.6h0M498 186.3h0M498.8 221h0M504.4 220.8h0M483.8 220.8h0M506.6 209h0M498.6 199.1h0M497.9 166.4h0M475.4 209.5h0M497.5 193.3h0M505.2 188.4h0M506.2 201.5h0M491.3 198h0M498.1 208.1h0M492.4 212.6h0M473.4 203.1h0M474.3 225.2h0M505.8 195.5h0M502.4 179.3h0M487.4 209.8h0M508.8 177.2h0M508.7 217.1h0M485.8 201.6h0M576.9 192.8h0M583 222.5h0M587 149.1h0M584.9 215.1h0M578.8 228.2h0M578.4 201.6h0"/><path d="M495.1 231.9h0M485.3 218.6h0M504.8 232.1h0M575.8 214h0M488.2 225.7h0M500.3 214.3h0M499.8 227h0M506.4 224.3h0M497.5 185.1h0M502.9 187.3h0M490.6 214.9h0M508.8 204.5h0M507.1 192.8h0M501.8 197.1h0M503.3 219.3h0M495.8 223h0M480.9 222.9h0M501 202.6h0M507.5 209.9h0M480.1 208.8h0M508.7 186.7h0M495.7 207.9h0M494 202.6h0M475.7 203.7h0M497.3 161.8h0M498 192h0M500.6 176.8h0M575.9 188.4h0M579.1 207.5h0M576.1 220.1h0M583.7 225h0M587.7 220.6h0"/><path d="M492.5 227.7h0M499.2 231.8h0M507.4 228.5h0M484.6 216.4h0M501.6 216.6h0M577.6 215.7h0M579 210.2h0M484.8 229.2h0M500.3 224.9h0M489.7 220.9h0M506.9 221.4h0M506.8 206h0M493.6 210.5h0M495.3 216h0M505.7 183.2h0M483.9 209.4h0M502 202.2h0M505.1 211.9h0M476 211.8h0M505.3 190.4h0M506.6 196.8h0M478 224.1h0M499.3 181.8h0M491.2 201.6h0M500.2 195.3h0M493.2 183.9h0M575.6 188.7h0M586.7 225.2h0M580.8 223.7h0"/><path d="M493.6 228.4h0M506.7 231.7h0M484.5 216.9h0M499.4 211.7h0M577.5 215h0M498.7 219h0M500.2 227.5h0M505.1 220.6h0M508.5 206.1h0M484.4 225.5h0M490.2 223.2h0M490.9 216.9h0M483.2 211.5h0M498.4 199.3h0M505 198h0M506.5 213.7h0M507.6 187.4h0M501.5 192.4h0"/><path d="M492 230h0M497.8 230.7h0M504.9 231.2h0M489.9 217h0M499.5 215h0M482 217.9h0M499.3 223.8h0M504 210.4h0M508 219.2h0M504.9 224.3h0M506.5 201.2h0M500.4 199.9h0M508.5 207.2h0M490.5 222.8h0M506 193.5h0M579.6 213.7h0"/><path d="M497.2 231h0M490.1 225.1h0M502.4 228.4h0M488.9 219.7h0M500.8 215h0M499.4 223.8h0M507.9 221.1h0M506.8 207.2h0M501.4 199.9h0M497.8 210.1h0M492.9 213.8h0M485.2 214.7h0M508.3 200.7h0M577.7 213.1h0"/><path d="M498.4 228.3h0M491.9 231.7h0M506.1 232.3h0M488.1 218.3h0M499.9 212.1h0M504.3 220h0M506.8 208.5h0M498.3 218h0M508.9 202.6h0M504.2 197.3h0M499.6 202.2h0M493 212.8h0M504.6 225.5h0M493.5 224.6h0M578 218.2h0M578.3 209.9h0"/><path d="M489.8 228.3h0M506.4 230.7h0M485 220.1h0M497.5 216.8h0M501.2 224.9h0M507 219.1h0M491 218.3h0M495.8 229.4h0M506.2 204.3h0M503.6 209.3h0M508.4 212.1h0M497 200h0M496.1 222.4h0"/><path d="M492.4 228.4h0M502.4 229.4h0M498.9 215.8h0M503 222.4h0M506.6 209h0M487.6 220.5h0M508.6 222.7h0M500.3 201.1h0M500.1 206.8h0"/><path d="M490.2 226.5h0M505.4 229.3h0M507.5 223.2h0M496.7 226.5h0M496.7 220.3h0M507.1 207.8h0M503.8 215.5h0M497.2 200.1h0"/><path d="M504.3 228.7h0M506.9 220.2h0M492.4 226.9h0M500.1 222.2h0M506.1 206.1h0M502.6 213.5h0"/><path d="M504.1 222.4h0M502.2 227.6h0M492.9 227.5h0M505.3 206.2h0"/><path d="M502.5 226.7h0M504.3 220.6h0M491.2 226.5h0"/><path d="M502 229h0M500 218.9h0M508 221.3h0M493.4 226.1h0"/><path d="M505.3 218.5h0M506.5 229.2h0M500.7 229.1h0"/><path d="M501.9 228.8h0M503.2 220.6h0M508.8 219.7h0"/><path d="M505.4 225.3h0"/><path d="M503.2 221.4h0"/><path d="M507.5 223h0"/></g></g>
<path d="M47.90 46.10V305.40H331.90" fill="none" stroke="#000" stroke-width="1.6"/>
<line x1="40.10" y1="293.90" x2="47.90" y2="293.90" stroke="#000" stroke-width="1.6"/>
<text x="0.00" y="0.00" font-size="14" text-anchor="middle" transform="translate(35.30,297.90) rotate(-90)">0</text>
<line x1="40.10" y1="246.68" x2="47.90" y2="246.68" stroke="#000" stroke-width="1.6"/>
<text x="0.00" y="0.00" font-size="14" text-anchor="middle" transform="translate(35.30,250.68) rotate(-90)">1</text>
<line x1="40.10" y1="199.46" x2="47.90" y2="199.46" stroke="#000" stroke-width="1.6"/>
<text x="0.00" y="0.00" font-size="14" text-anchor="middle" transform="translate(35.30,203.46) rotate(-90)">2</text>
<line x1="40.10" y1="152.24" x2="47.90" y2="152.24" stroke="#000" stroke-width="1.6"/>
<text x="0.00" y="0.00" font-size="14" text-anchor="middle" transform="translate(35.30,156.24) rotate(-90)">3</text>
<line x1="40.10" y1="105.02" x2="47.90" y2="105.02" stroke="#000" stroke-width="1.6"/>
<text x="0.00" y="0.00" font-size="14" text-anchor="middle" transform="translate(35.30,109.02) rotate(-90)">4</text>
<line x1="40.10" y1="57.80" x2="47.90" y2="57.80" stroke="#000" stroke-width="1.6"/>
<text x="0.00" y="0.00" font-size="14" text-anchor="middle" transform="translate(35.30,61.80) rotate(-90)">5</text>
<line x1="60.79" y1="305.40" x2="60.79" y2="313.00" stroke="#000" stroke-width="1.6"/>
<text x="60.79" y="326.80" font-size="14" text-anchor="middle">−0.6</text>
<line x1="125.32" y1="305.40" x2="125.32" y2="313.00" stroke="#000" stroke-width="1.6"/>
<text x="125.32" y="326.80" font-size="14" text-anchor="middle">−0.3</text>
<line x1="189.85" y1="305.40" x2="189.85" y2="313.00" stroke="#000" stroke-width="1.6"/>
<text x="189.85" y="326.80" font-size="14" text-anchor="middle">0.0</text>
<line x1="254.38" y1="305.40" x2="254.38" y2="313.00" stroke="#000" stroke-width="1.6"/>
<text x="254.38" y="326.80" font-size="14" text-anchor="middle">0.3</text>
<line x1="318.91" y1="305.40" x2="318.91" y2="313.00" stroke="#000" stroke-width="1.6"/>
<text x="318.91" y="326.80" font-size="14" text-anchor="middle">0.6</text>
<text x="190.15" y="346.0" font-size="14.3" text-anchor="middle"><tspan>β</tspan><tspan font-size="9.6" font-weight="bold" dy="2.6">H89</tspan><tspan font-weight="bold" dy="-2.6"> in PKA−intact cell</tspan></text>
<text x="0.00" y="0.00" font-size="14.4" font-weight="bold" text-anchor="middle" transform="translate(19.20,175.50) rotate(-90)">−Log p−value</text>
<rect x="224.80" y="46.20" width="107.80" height="42.60" fill="#fff" stroke="#222" stroke-width="1.2"/>
<circle cx="246.10" cy="67.5" r="4.2" fill="#ff3333"/>
<text x="261.00" y="65.00" font-size="11.5">Significant</text>
<text x="261.00" y="78.20" font-size="11.5">phosphosite</text>
<path d="M400.00 46.10V305.40H684.00" fill="none" stroke="#000" stroke-width="1.6"/>
<line x1="392.20" y1="293.90" x2="400.00" y2="293.90" stroke="#000" stroke-width="1.6"/>
<text x="0.00" y="0.00" font-size="14" text-anchor="middle" transform="translate(387.40,297.90) rotate(-90)">0</text>
<line x1="392.20" y1="246.68" x2="400.00" y2="246.68" stroke="#000" stroke-width="1.6"/>
<text x="0.00" y="0.00" font-size="14" text-anchor="middle" transform="translate(387.40,250.68) rotate(-90)">1</text>
<line x1="392.20" y1="199.46" x2="400.00" y2="199.46" stroke="#000" stroke-width="1.6"/>
<text x="0.00" y="0.00" font-size="14" text-anchor="middle" transform="translate(387.40,203.46) rotate(-90)">2</text>
<line x1="392.20" y1="152.24" x2="400.00" y2="152.24" stroke="#000" stroke-width="1.6"/>
<text x="0.00" y="0.00" font-size="14" text-anchor="middle" transform="translate(387.40,156.24) rotate(-90)">3</text>
<line x1="392.20" y1="105.02" x2="400.00" y2="105.02" stroke="#000" stroke-width="1.6"/>
<text x="0.00" y="0.00" font-size="14" text-anchor="middle" transform="translate(387.40,109.02) rotate(-90)">4</text>
<line x1="392.20" y1="57.80" x2="400.00" y2="57.80" stroke="#000" stroke-width="1.6"/>
<text x="0.00" y="0.00" font-size="14" text-anchor="middle" transform="translate(387.40,61.80) rotate(-90)">5</text>
<line x1="412.89" y1="305.40" x2="412.89" y2="313.00" stroke="#000" stroke-width="1.6"/>
<text x="412.89" y="326.80" font-size="14" text-anchor="middle">−0.6</text>
<line x1="477.42" y1="305.40" x2="477.42" y2="313.00" stroke="#000" stroke-width="1.6"/>
<text x="477.42" y="326.80" font-size="14" text-anchor="middle">−0.3</text>
<line x1="541.95" y1="305.40" x2="541.95" y2="313.00" stroke="#000" stroke-width="1.6"/>
<text x="541.95" y="326.80" font-size="14" text-anchor="middle">0.0</text>
<line x1="606.48" y1="305.40" x2="606.48" y2="313.00" stroke="#000" stroke-width="1.6"/>
<text x="606.48" y="326.80" font-size="14" text-anchor="middle">0.3</text>
<line x1="671.01" y1="305.40" x2="671.01" y2="313.00" stroke="#000" stroke-width="1.6"/>
<text x="671.01" y="326.80" font-size="14" text-anchor="middle">0.6</text>
<text x="542.25" y="346.0" font-size="14.3" text-anchor="middle"><tspan>β</tspan><tspan font-size="9.6" font-weight="bold" dy="2.6">H89</tspan><tspan font-weight="bold" dy="-2.6"> in PKA−null cell</tspan></text>
<text x="0.00" y="0.00" font-size="14.4" font-weight="bold" text-anchor="middle" transform="translate(371.30,175.50) rotate(-90)">−Log p−value</text>
<rect x="576.90" y="46.20" width="107.80" height="42.60" fill="#fff" stroke="#222" stroke-width="1.2"/>
<circle cx="598.20" cy="67.5" r="4.2" fill="#ff3333"/>
<text x="613.10" y="65.00" font-size="11.5">Significant</text>
<text x="613.10" y="78.20" font-size="11.5">phosphosite</text>
<line x1="52.55" y1="495.30" x2="323.45" y2="495.30" stroke="#c8c8c8" stroke-width="0.8"/><path fill="#000" d="M154.14 495.60h2.71v-0.16h-2.71zM156.85 495.60h2.71v-0.23h-2.71zM159.56 495.60h2.71v-0.31h-2.71zM162.26 495.60h2.71v-0.47h-2.71zM164.97 495.60h2.71v-0.94h-2.71zM167.68 495.60h2.71v-1.49h-2.71zM170.39 495.60h2.71v-3.13h-2.71zM173.10 495.60h2.71v-7.27h-2.71zM175.81 495.60h2.71v-10.87h-2.71zM178.52 495.60h2.71v-24.24h-2.71zM181.23 495.60h2.71v-47.47h-2.71zM183.94 495.60h2.71v-78.59h-2.71zM186.65 495.60h2.71v-87.66h-2.71zM189.35 495.60h2.71v-84.53h-2.71zM192.06 495.60h2.71v-59.51h-2.71zM194.77 495.60h2.71v-35.74h-2.71zM197.48 495.60h2.71v-18.61h-2.71zM200.19 495.60h2.71v-11.73h-2.71zM202.90 495.60h2.71v-6.65h-2.71zM205.61 495.60h2.71v-3.52h-2.71zM208.32 495.60h2.71v-1.49h-2.71zM211.03 495.60h2.71v-0.63h-2.71zM213.74 495.60h2.71v-0.39h-2.71zM216.44 495.60h2.71v-0.23h-2.71zM219.15 495.60h2.71v-0.16h-2.71z"/><path fill="#ff0000" d="M175.81 495.60h2.71v-0.23h-2.71zM178.52 495.60h2.71v-1.02h-2.71zM181.23 495.60h2.71v-2.50h-2.71zM183.94 495.60h2.71v-3.36h-2.71zM186.65 495.60h2.71v-4.22h-2.71zM189.35 495.60h2.71v-3.36h-2.71zM192.06 495.60h2.71v-2.74h-2.71zM194.77 495.60h2.71v-1.80h-2.71zM197.48 495.60h2.71v-0.94h-2.71zM200.19 495.60h2.71v-0.23h-2.71z"/>
<text x="3.00" y="387.80" font-size="21" font-weight="bold">c</text>
<rect x="39.40" y="374.50" width="296.70" height="126.90" fill="none" stroke="#666" stroke-width="1.35"/>
<line x1="35.60" y1="495.60" x2="39.40" y2="495.60" stroke="#555" stroke-width="1.3"/>
<text x="0.00" y="0.00" font-size="14" text-anchor="end" fill="#4d4d4d" transform="translate(29.90,496.60) rotate(-90)">0</text>
<line x1="35.60" y1="456.50" x2="39.40" y2="456.50" stroke="#555" stroke-width="1.3"/>
<text x="0.00" y="0.00" font-size="14" text-anchor="end" fill="#4d4d4d" transform="translate(29.90,457.50) rotate(-90)">500</text>
<line x1="35.60" y1="417.40" x2="39.40" y2="417.40" stroke="#555" stroke-width="1.3"/>
<text x="0.00" y="0.00" font-size="14" text-anchor="end" fill="#4d4d4d" transform="translate(29.90,418.40) rotate(-90)">1000</text>
<line x1="35.60" y1="378.30" x2="39.40" y2="378.30" stroke="#555" stroke-width="1.3"/>
<text x="0.00" y="0.00" font-size="14" text-anchor="end" fill="#4d4d4d" transform="translate(29.90,379.30) rotate(-90)">1500</text>
<line x1="97.70" y1="501.40" x2="97.70" y2="505.20" stroke="#555" stroke-width="1.3"/>
<text x="97.70" y="519.30" font-size="14" text-anchor="middle" fill="#4d4d4d">−1</text>
<line x1="188.00" y1="501.40" x2="188.00" y2="505.20" stroke="#555" stroke-width="1.3"/>
<text x="188.00" y="519.30" font-size="14" text-anchor="middle" fill="#4d4d4d">0</text>
<line x1="278.30" y1="501.40" x2="278.30" y2="505.20" stroke="#555" stroke-width="1.3"/>
<text x="278.30" y="519.30" font-size="14" text-anchor="middle" fill="#4d4d4d">1</text>
<text x="187.8" y="537.20" font-size="14.3" font-weight="bold" text-anchor="middle">Total Protein, Log<tspan font-size="10" font-weight="normal" dy="3">2</tspan><tspan dy="-3"> (H89/Control)</tspan></text>
<text x="0.00" y="0.00" font-size="14.2" font-weight="bold" text-anchor="middle" transform="translate(11.00,437.40) rotate(-90)">count</text>
<rect x="48.2" y="389.20" width="12.3" height="11.9" fill="#ff0000"/>
<text x="66.60" y="391.60" font-size="10">Proteins with significant</text>
<text x="66.60" y="406.30" font-size="10">phosphosite changes</text>
<text x="287.30" y="394.80" font-size="12.8" text-anchor="middle">PKA−Intact</text>
<text x="287.30" y="411.60" font-size="12.8" text-anchor="middle">Cells</text>
<line x1="52.55" y1="681.80" x2="323.45" y2="681.80" stroke="#c8c8c8" stroke-width="0.8"/><path fill="#000" d="M154.14 682.10h2.71v-0.16h-2.71zM156.85 682.10h2.71v-0.31h-2.71zM159.56 682.10h2.71v-0.47h-2.71zM162.26 682.10h2.71v-0.70h-2.71zM164.97 682.10h2.71v-1.02h-2.71zM167.68 682.10h2.71v-1.72h-2.71zM170.39 682.10h2.71v-3.28h-2.71zM173.10 682.10h2.71v-5.40h-2.71zM175.81 682.10h2.71v-10.17h-2.71zM178.52 682.10h2.71v-23.77h-2.71zM181.23 682.10h2.71v-44.81h-2.71zM183.94 682.10h2.71v-88.76h-2.71zM186.65 682.10h2.71v-113.62h-2.71zM189.35 682.10h2.71v-84.77h-2.71zM192.06 682.10h2.71v-44.81h-2.71zM194.77 682.10h2.71v-24.09h-2.71zM197.48 682.10h2.71v-13.76h-2.71zM200.19 682.10h2.71v-9.31h-2.71zM202.90 682.10h2.71v-8.29h-2.71zM205.61 682.10h2.71v-6.10h-2.71zM208.32 682.10h2.71v-3.91h-2.71zM211.03 682.10h2.71v-1.33h-2.71zM213.74 682.10h2.71v-0.47h-2.71zM216.44 682.10h2.71v-0.23h-2.71zM219.15 682.10h2.71v-0.16h-2.71z"/><path fill="#ff0000" d="M175.81 682.10h2.71v-0.23h-2.71zM178.52 682.10h2.71v-0.63h-2.71zM181.23 682.10h2.71v-1.17h-2.71zM183.94 682.10h2.71v-2.35h-2.71zM186.65 682.10h2.71v-3.52h-2.71zM189.35 682.10h2.71v-1.72h-2.71zM192.06 682.10h2.71v-0.94h-2.71zM194.77 682.10h2.71v-0.47h-2.71zM197.48 682.10h2.71v-0.23h-2.71z"/>
<rect x="39.40" y="561.00" width="296.70" height="126.90" fill="none" stroke="#666" stroke-width="1.35"/>
<line x1="35.60" y1="682.10" x2="39.40" y2="682.10" stroke="#555" stroke-width="1.3"/>
<text x="0.00" y="0.00" font-size="14" text-anchor="end" fill="#4d4d4d" transform="translate(29.90,683.10) rotate(-90)">0</text>
<line x1="35.60" y1="643.00" x2="39.40" y2="643.00" stroke="#555" stroke-width="1.3"/>
<text x="0.00" y="0.00" font-size="14" text-anchor="end" fill="#4d4d4d" transform="translate(29.90,644.00) rotate(-90)">500</text>
<line x1="35.60" y1="603.90" x2="39.40" y2="603.90" stroke="#555" stroke-width="1.3"/>
<text x="0.00" y="0.00" font-size="14" text-anchor="end" fill="#4d4d4d" transform="translate(29.90,604.90) rotate(-90)">1000</text>
<line x1="35.60" y1="564.80" x2="39.40" y2="564.80" stroke="#555" stroke-width="1.3"/>
<text x="0.00" y="0.00" font-size="14" text-anchor="end" fill="#4d4d4d" transform="translate(29.90,565.80) rotate(-90)">1500</text>
<line x1="97.70" y1="687.90" x2="97.70" y2="691.70" stroke="#555" stroke-width="1.3"/>
<text x="97.70" y="705.80" font-size="14" text-anchor="middle" fill="#4d4d4d">−1</text>
<line x1="188.00" y1="687.90" x2="188.00" y2="691.70" stroke="#555" stroke-width="1.3"/>
<text x="188.00" y="705.80" font-size="14" text-anchor="middle" fill="#4d4d4d">0</text>
<line x1="278.30" y1="687.90" x2="278.30" y2="691.70" stroke="#555" stroke-width="1.3"/>
<text x="278.30" y="705.80" font-size="14" text-anchor="middle" fill="#4d4d4d">1</text>
<text x="187.8" y="723.70" font-size="14.3" font-weight="bold" text-anchor="middle">Total Protein, Log<tspan font-size="10" font-weight="normal" dy="3">2</tspan><tspan dy="-3"> (H89/Control)</tspan></text>
<text x="0.00" y="0.00" font-size="14.2" font-weight="bold" text-anchor="middle" transform="translate(11.00,623.90) rotate(-90)">count</text>
<rect x="48.2" y="575.70" width="12.3" height="11.9" fill="#ff0000"/>
<text x="66.60" y="578.10" font-size="10">Proteins with significant</text>
<text x="66.60" y="592.80" font-size="10">phosphosite changes</text>
<text x="287.30" y="581.30" font-size="12.8" text-anchor="middle">PKA−Null</text>
<text x="287.30" y="598.10" font-size="12.8" text-anchor="middle">Cells</text>
<path fill="#000" d="M559 495.5h0.5v0.5h-0.5zM568 495.5h2.5v0.5h-2.5zM558.5 496h1.5v0.5h-1.5zM565.5 496h0.5v0.5h-0.5zM567.5 496h3.5v0.5h-3.5zM571.5 496h0.5v0.5h-0.5zM558 496.5h1v0.5h-1zM559.5 496.5h0.5v0.5h-0.5zM567.5 496.5h4v0.5h-4zM549 497h0.5v0.5h-0.5zM556 497h3v0.5h-3zM559.5 497h1v0.5h-1zM567.5 497h4v0.5h-4zM572 497h0.5v0.5h-0.5zM549.5 497.5h1v0.5h-1zM556 497.5h4.5v0.5h-4.5zM567.5 497.5h5v0.5h-5zM548.5 498h2v0.5h-2zM554 498h0.5v0.5h-0.5zM555 498h5.5v0.5h-5.5zM561.5 498h4v0.5h-4zM569 498h3v0.5h-3zM542.5 498.5h0.5v0.5h-0.5zM547.5 498.5h0.5v0.5h-0.5zM548.5 498.5h0.5v0.5h-0.5zM554 498.5h2.5v0.5h-2.5zM557 498.5h0.5v0.5h-0.5zM558 498.5h2.5v0.5h-2.5zM561 498.5h0.5v0.5h-0.5zM562 498.5h3v0.5h-3zM568.5 498.5h3.5v0.5h-3.5zM542.5 499h0.5v0.5h-0.5zM547.5 499h1.5v0.5h-1.5zM550 499h1v0.5h-1zM553.5 499h2.5v0.5h-2.5zM556.5 499h0.5v0.5h-0.5zM557.5 499h0.5v0.5h-0.5zM558.5 499h0.5v0.5h-0.5zM561 499h5v0.5h-5zM568.5 499h3.5v0.5h-3.5zM573 499h1.5v0.5h-1.5zM547.5 499.5h1.5v0.5h-1.5zM550 499.5h0.5v0.5h-0.5zM553 499.5h5.5v0.5h-5.5zM560.5 499.5h5.5v0.5h-5.5zM566.5 499.5h1v0.5h-1zM568.5 499.5h3.5v0.5h-3.5zM572.5 499.5h2.5v0.5h-2.5zM547.5 500h1.5v0.5h-1.5zM553 500h2v0.5h-2zM555.5 500h4v0.5h-4zM560.5 500h15v0.5h-15zM545.5 500.5h2.5v0.5h-2.5zM553 500.5h7v0.5h-7zM562.5 500.5h12.5v0.5h-12.5zM545 501h2.5v0.5h-2.5zM553 501h7.5v0.5h-7.5zM562.5 501h13v0.5h-13zM545 501.5h2v0.5h-2zM553 501.5h7v0.5h-7zM563.5 501.5h12v0.5h-12zM544 502h2.5v0.5h-2.5zM547 502h0.5v0.5h-0.5zM551.5 502h1v0.5h-1zM553 502h7v0.5h-7zM563 502h11.5v0.5h-11.5zM542.5 502.5h1v0.5h-1zM544 502.5h2v0.5h-2zM547 502.5h1v0.5h-1zM549.5 502.5h0.5v0.5h-0.5zM551.5 502.5h8.5v0.5h-8.5zM563 502.5h11v0.5h-11zM546.5 503h1v0.5h-1zM550 503h9.5v0.5h-9.5zM561 503h0.5v0.5h-0.5zM562 503h9v0.5h-9zM571.5 503h0.5v0.5h-0.5zM572.5 503h1v0.5h-1zM542.5 503.5h1.5v0.5h-1.5zM547 503.5h0.5v0.5h-0.5zM549.5 503.5h8.5v0.5h-8.5zM558.5 503.5h1v0.5h-1zM561.5 503.5h12.5v0.5h-12.5zM542 504h3v0.5h-3zM548.5 504h0.5v0.5h-0.5zM549.5 504h8v0.5h-8zM560 504h14.5v0.5h-14.5zM542 504.5h3.5v0.5h-3.5zM548 504.5h9v0.5h-9zM558 504.5h0.5v0.5h-0.5zM559.5 504.5h15v0.5h-15zM542.5 505h3v0.5h-3zM546.5 505h0.5v0.5h-0.5zM547.5 505h2.5v0.5h-2.5zM550.5 505h24v0.5h-24zM542 505.5h3.5v0.5h-3.5zM546 505.5h0.5v0.5h-0.5zM547 505.5h1v0.5h-1zM548.5 505.5h1v0.5h-1zM550.5 505.5h24v0.5h-24zM542.5 506h3v0.5h-3zM546 506h2v0.5h-2zM549 506h0.5v0.5h-0.5zM550 506h24v0.5h-24zM542.5 506.5h5v0.5h-5zM550 506.5h24.5v0.5h-24.5zM542.5 507h5.5v0.5h-5.5zM549.5 507h25v0.5h-25zM542.5 507.5h4.5v0.5h-4.5zM547.5 507.5h0.5v0.5h-0.5zM548.5 507.5h0.5v0.5h-0.5zM549.5 507.5h0.5v0.5h-0.5zM550.5 507.5h23.5v0.5h-23.5zM542.5 508h4.5v0.5h-4.5zM547.5 508h2.5v0.5h-2.5zM550.5 508h24v0.5h-24zM542 508.5h6v0.5h-6zM549 508.5h25.5v0.5h-25.5zM542.5 509h5.5v0.5h-5.5zM548.5 509h25v0.5h-25zM576 509h0.5v0.5h-0.5zM543 509.5h29v0.5h-29zM573 509.5h1.5v0.5h-1.5zM539 510h0.5v0.5h-0.5zM543 510h31.5v0.5h-31.5zM532.5 510.5h0.5v0.5h-0.5zM538 510.5h0.5v0.5h-0.5zM539 510.5h1v0.5h-1zM540.5 510.5h3.5v0.5h-3.5zM544.5 510.5h29.5v0.5h-29.5zM533 511h1v0.5h-1zM537.5 511h0.5v0.5h-0.5zM538.5 511h1.5v0.5h-1.5zM540.5 511h3.5v0.5h-3.5zM545.5 511h28v0.5h-28zM533 511.5h1v0.5h-1zM538.5 511.5h5.5v0.5h-5.5zM544.5 511.5h0.5v0.5h-0.5zM545.5 511.5h28v0.5h-28zM532 512h0.5v0.5h-0.5zM538.5 512h1v0.5h-1zM540 512h33.5v0.5h-33.5zM532 512.5h0.5v0.5h-0.5zM533 512.5h1v0.5h-1zM538.5 512.5h1v0.5h-1zM540.5 512.5h33v0.5h-33zM533.5 513h1.5v0.5h-1.5zM539.5 513h0.5v0.5h-0.5zM540.5 513h34v0.5h-34zM533 513.5h2v0.5h-2zM540.5 513.5h34v0.5h-34zM533 514h3.5v0.5h-3.5zM540.5 514h34.5v0.5h-34.5zM532.5 514.5h4v0.5h-4zM537 514.5h0.5v0.5h-0.5zM540 514.5h35v0.5h-35zM532 515h5.5v0.5h-5.5zM539 515h36.5v0.5h-36.5zM532 515.5h44v0.5h-44zM532 516h44v0.5h-44zM530.5 516.5h0.5v0.5h-0.5zM531.5 516.5h44.5v0.5h-44.5zM532 517h44v0.5h-44zM532 517.5h43.5v0.5h-43.5zM531.5 518h44v0.5h-44zM528.5 518.5h0.5v0.5h-0.5zM532 518.5h43.5v0.5h-43.5zM526.5 519h0.5v0.5h-0.5zM531 519h44.5v0.5h-44.5zM526 519.5h2v0.5h-2zM531 519.5h44.5v0.5h-44.5zM526 520h2.5v0.5h-2.5zM530.5 520h45.5v0.5h-45.5zM528 520.5h0.5v0.5h-0.5zM530 520.5h45.5v0.5h-45.5zM527 521h1.5v0.5h-1.5zM530 521h45.5v0.5h-45.5zM527 521.5h1.5v0.5h-1.5zM529 521.5h0.5v0.5h-0.5zM530 521.5h45.5v0.5h-45.5zM526.5 522h2v0.5h-2zM529 522h0.5v0.5h-0.5zM530.5 522h44.5v0.5h-44.5zM527 522.5h0.5v0.5h-0.5zM529 522.5h46.5v0.5h-46.5zM526 523h0.5v0.5h-0.5zM527 523h1v0.5h-1zM529 523h46.5v0.5h-46.5zM522.5 523.5h0.5v0.5h-0.5zM526 523.5h3v0.5h-3zM529.5 523.5h45.5v0.5h-45.5zM522 524h2v0.5h-2zM525.5 524h49.5v0.5h-49.5zM522 524.5h2v0.5h-2zM526 524.5h49v0.5h-49zM521.5 525h0.5v0.5h-0.5zM523 525h1v0.5h-1zM526.5 525h49v0.5h-49zM523.5 525.5h0.5v0.5h-0.5zM525.5 525.5h50v0.5h-50zM524 526h0.5v0.5h-0.5zM525 526h50.5v0.5h-50.5zM522.5 526.5h0.5v0.5h-0.5zM525 526.5h50.5v0.5h-50.5zM524.5 527h51v0.5h-51zM524.5 527.5h51v0.5h-51zM523.5 528h52v0.5h-52zM523.5 528.5h52v0.5h-52zM522.5 529h1v0.5h-1zM524 529h51v0.5h-51zM520.5 529.5h1v0.5h-1zM522 529.5h52.5v0.5h-52.5zM519 530h55v0.5h-55zM519 530.5h55v0.5h-55zM519 531h54v0.5h-54zM518.5 531.5h54.5v0.5h-54.5zM518.5 532h54v0.5h-54zM519 532.5h2v0.5h-2zM522 532.5h50.5v0.5h-50.5zM518 533h1v0.5h-1zM520.5 533h52v0.5h-52zM518 533.5h0.5v0.5h-0.5zM520 533.5h52.5v0.5h-52.5zM518 534h0.5v0.5h-0.5zM519.5 534h54v0.5h-54zM517.5 534.5h0.5v0.5h-0.5zM519.5 534.5h51v0.5h-51zM571 534.5h2.5v0.5h-2.5zM517.5 535h0.5v0.5h-0.5zM519.5 535h51v0.5h-51zM571 535h2.5v0.5h-2.5zM516 535.5h1.5v0.5h-1.5zM519.5 535.5h54v0.5h-54zM515.5 536h1v0.5h-1zM517 536h1v0.5h-1zM518.5 536h54.5v0.5h-54.5zM516 536.5h3.5v0.5h-3.5zM520 536.5h50v0.5h-50zM570.5 536.5h0.5v0.5h-0.5zM571.5 536.5h0.5v0.5h-0.5zM515.5 537h55v0.5h-55zM516 537.5h55v0.5h-55zM571.5 537.5h0.5v0.5h-0.5zM516 538h50.5v0.5h-50.5zM567 538h1.5v0.5h-1.5zM569 538h2.5v0.5h-2.5zM572 538h0.5v0.5h-0.5zM516.5 538.5h1.5v0.5h-1.5zM518.5 538.5h47v0.5h-47zM566.5 538.5h1.5v0.5h-1.5zM569 538.5h2v0.5h-2zM572 538.5h0.5v0.5h-0.5zM517 539h0.5v0.5h-0.5zM518.5 539h47.5v0.5h-47.5zM567.5 539h1.5v0.5h-1.5zM569.5 539h1.5v0.5h-1.5zM519 539.5h47v0.5h-47zM569 539.5h1.5v0.5h-1.5zM517 540h1v0.5h-1zM519.5 540h46v0.5h-46zM568.5 540h1v0.5h-1zM517 540.5h48v0.5h-48zM566.5 540.5h1v0.5h-1zM517 541h1.5v0.5h-1.5zM519 541h45.5v0.5h-45.5zM567 541h2v0.5h-2zM516 541.5h45v0.5h-45zM562 541.5h1v0.5h-1zM565 541.5h0.5v0.5h-0.5zM566.5 541.5h2v0.5h-2zM515.5 542h46v0.5h-46zM562.5 542h1.5v0.5h-1.5zM564.5 542h0.5v0.5h-0.5zM566.5 542h2v0.5h-2zM515.5 542.5h45v0.5h-45zM561.5 542.5h4v0.5h-4zM566.5 542.5h2v0.5h-2zM516 543h52.5v0.5h-52.5zM516 543.5h52v0.5h-52zM516 544h1v0.5h-1zM517.5 544h50v0.5h-50zM514 544.5h54v0.5h-54zM513 545h54.5v0.5h-54.5zM513 545.5h54.5v0.5h-54.5zM512 546h55.5v0.5h-55.5zM512 546.5h52v0.5h-52zM564.5 546.5h2v0.5h-2zM512 547h51.5v0.5h-51.5zM565.5 547h0.5v0.5h-0.5zM512.5 547.5h51v0.5h-51zM513.5 548h1v0.5h-1zM516.5 548h47v0.5h-47zM517 548.5h45.5v0.5h-45.5zM564 548.5h0.5v0.5h-0.5zM517.5 549h45v0.5h-45zM563.5 549h0.5v0.5h-0.5zM516 549.5h38v0.5h-38zM554.5 549.5h8v0.5h-8zM563 549.5h1v0.5h-1zM515.5 550h47v0.5h-47zM563 550h0.5v0.5h-0.5zM514.5 550.5h2v0.5h-2zM517 550.5h1.5v0.5h-1.5zM520 550.5h41v0.5h-41zM561.5 550.5h0.5v0.5h-0.5zM563 550.5h2.5v0.5h-2.5zM514.5 551h2v0.5h-2zM517.5 551h1.5v0.5h-1.5zM520 551h39v0.5h-39zM559.5 551h1.5v0.5h-1.5zM561.5 551h0.5v0.5h-0.5zM562.5 551h0.5v0.5h-0.5zM563.5 551h2v0.5h-2zM513.5 551.5h4v0.5h-4zM518 551.5h40.5v0.5h-40.5zM563 551.5h2v0.5h-2zM513 552h5v0.5h-5zM518.5 552h37.5v0.5h-37.5zM556.5 552h0.5v0.5h-0.5zM557.5 552h1v0.5h-1zM563 552h0.5v0.5h-0.5zM513 552.5h43v0.5h-43zM556.5 552.5h1.5v0.5h-1.5zM559.5 552.5h0.5v0.5h-0.5zM511.5 553h46v0.5h-46zM558 553h1v0.5h-1zM512 553.5h5.5v0.5h-5.5zM518 553.5h40v0.5h-40zM512 554h46v0.5h-46zM512 554.5h3.5v0.5h-3.5zM516 554.5h42v0.5h-42zM512 555h2.5v0.5h-2.5zM515.5 555h33v0.5h-33zM549 555h7.5v0.5h-7.5zM557 555h1v0.5h-1zM512 555.5h1.5v0.5h-1.5zM515 555.5h33.5v0.5h-33.5zM550.5 555.5h4.5v0.5h-4.5zM511.5 556h1v0.5h-1zM515 556h31v0.5h-31zM546.5 556h0.5v0.5h-0.5zM548 556h0.5v0.5h-0.5zM551 556h3v0.5h-3zM514 556.5h0.5v0.5h-0.5zM515 556.5h30.5v0.5h-30.5zM551.5 556.5h1.5v0.5h-1.5zM514 557h0.5v0.5h-0.5zM515 557h30.5v0.5h-30.5zM552.5 557h0.5v0.5h-0.5zM553.5 557h0.5v0.5h-0.5zM558 557h0.5v0.5h-0.5zM513.5 557.5h1v0.5h-1zM515 557.5h31v0.5h-31zM552.5 557.5h1v0.5h-1zM558.5 557.5h0.5v0.5h-0.5zM512.5 558h33.5v0.5h-33.5zM551.5 558h1v0.5h-1zM512.5 558.5h1.5v0.5h-1.5zM515.5 558.5h31v0.5h-31zM551.5 558.5h1v0.5h-1zM513 559h33.5v0.5h-33.5zM551 559h1v0.5h-1zM552.5 559h0.5v0.5h-0.5zM514 559.5h33v0.5h-33zM550 559.5h4v0.5h-4zM514.5 560h33v0.5h-33zM550 560h4v0.5h-4zM554.5 560h0.5v0.5h-0.5zM515.5 560.5h17v0.5h-17zM533 560.5h14.5v0.5h-14.5zM550 560.5h4.5v0.5h-4.5zM514.5 561h0.5v0.5h-0.5zM515.5 561h0.5v0.5h-0.5zM517.5 561h15v0.5h-15zM533 561h9v0.5h-9zM542.5 561h4.5v0.5h-4.5zM550 561h4.5v0.5h-4.5zM518 561.5h1v0.5h-1zM519.5 561.5h22.5v0.5h-22.5zM542.5 561.5h3v0.5h-3zM546 561.5h1.5v0.5h-1.5zM548 561.5h0.5v0.5h-0.5zM551.5 561.5h2v0.5h-2zM554 561.5h0.5v0.5h-0.5zM519.5 562h25.5v0.5h-25.5zM545.5 562h2v0.5h-2zM548 562h0.5v0.5h-0.5zM551.5 562h1.5v0.5h-1.5zM519 562.5h4v0.5h-4zM525 562.5h16.5v0.5h-16.5zM543 562.5h1.5v0.5h-1.5zM545 562.5h0.5v0.5h-0.5zM546 562.5h2v0.5h-2zM519.5 563h3.5v0.5h-3.5zM526.5 563h14v0.5h-14zM541 563h0.5v0.5h-0.5zM543 563h1.5v0.5h-1.5zM547 563h1v0.5h-1zM519.5 563.5h3.5v0.5h-3.5zM527 563.5h8.5v0.5h-8.5zM536 563.5h4.5v0.5h-4.5zM543 563.5h0.5v0.5h-0.5zM544 563.5h0.5v0.5h-0.5zM520 564h2.5v0.5h-2.5zM527.5 564h0.5v0.5h-0.5zM529 564h0.5v0.5h-0.5zM530 564h0.5v0.5h-0.5zM534 564h6v0.5h-6zM520 564.5h1v0.5h-1zM536.5 564.5h2.5v0.5h-2.5zM521 565h0.5v0.5h-0.5z"/><g fill="none" stroke="#000" stroke-opacity="0.26" stroke-width="3.8" stroke-linecap="round"><path d="M570.1 545.6h0M532.8 514.3h0M564.8 546.7h0M518.1 554.2h0M516.6 533.9h0M551.5 559.6h0M546.5 513h0M561.5 555.2h0M511.4 562.7h0M574.7 526.9h0M533.8 562.8h0M518.4 559.9h0M515.5 568.5h0M562.4 559.8h0M570.2 534h0M567.5 553.8h0M511.1 567.1h0M526.6 563.5h0M571.5 510.3h0M558 502.2h0M569.5 501h0M512.2 531.8h0M558.6 497.7h0M523.7 568h0M562.4 550.7h0M544.8 509.3h0M546.2 505.7h0M579 515.8h0M574.5 498.6h0M514.1 553.7h0M531.6 507.9h0M558.9 543h0M526.7 521.3h0M533.3 519.2h0M519.5 570.6h0M502 595.4h0M546.8 556.1h0M529.4 516.4h0M562.9 498.8h0M573.6 507.1h0M522.4 518.6h0M571.7 539.9h0M518.2 537.8h0M551 502.4h0M541.1 499.5h0M551.9 492.6h0M547.4 561.6h0M513 540.6h0M521 529.9h0M557.6 550.7h0M521.8 562.8h0M565.2 539.5h0M530.6 568.5h0M540.4 511.7h0M515.1 519.4h0M573.6 535.8h0M591.5 514.2h0M556.2 554.8h0M542.9 563.5h0M558.1 506.6h0M541.9 503.9h0M574.6 521.2h0M512.4 557.4h0M517.6 542.7h0M526.1 513.3h0M569.2 566.7h0M594.7 506.6h0M577.5 541.6h0M553.8 563h0M511.3 547.1h0M596.7 498.8h0M522.8 523.8h0M539 517h0M580.2 484.1h0M546.3 487.6h0M572 530.3h0M568.7 495.6h0M578.9 488.6h0M519.6 505h0M578.1 505.9h0M533.4 503.8h0M517.6 548.6h0M551.2 508h0M563.1 542.8h0M548.2 495.6h0M510.3 571.1h0M584.3 525.7h0M533.7 570.8h0M580.8 522.2h0M580.8 510.9h0M561.7 503.4h0M546.8 499.5h0M586 521h0M564.6 494.9h0M576.9 495.2h0M538.9 563.7h0M574.4 513.5h0M504 549.8h0M580.5 537.2h0M583.3 507.5h0M557.4 558.9h0M553.5 499.5h0M572.2 550.9h0M550.1 566.6h0M530.1 524.6h0M523 533.6h0M483.2 589.3h0M584.1 516.3h0M602.3 496h0M539.3 572h0M586 503.4h0M550.6 554.3h0M512.1 523.4h0M524.8 529.6h0M539.1 507.5h0M580.5 499.5h0M518.9 522.7h0M508.4 529.5h0M520.8 577.7h0M519.8 582.5h0M561.2 492.1h0M520.3 587.6h0M575.3 483.9h0M543.3 571.3h0M515.9 529.6h0M552.5 550h0M616.2 469.1h0M568.3 541.8h0M531.9 499.8h0M555.2 567.1h0M596.3 514.9h0M587.7 535.2h0M537.5 576h0M607.2 488.3h0M542.5 559.4h0M580.1 527.3h0M515.2 513.2h0M535.1 509.9h0M501.7 562.9h0M546.4 565.3h0M577.5 524.2h0M515.6 562.7h0M597.9 494.4h0M531.7 559.2h0M576.1 510h0M536.2 500.6h0M529.6 511.3h0M541.4 584.4h0M525.6 507.6h0M585.3 546.9h0M563.2 565h0M543.7 605.9h0M562.2 576.3h0M574.2 599.4h0M546.1 611.5h0M554.1 588.3h0M555.1 575.2h0M546.4 589.7h0M572.7 570.3h0M565.3 593.1h0M546.8 580.5h0M551.6 577.7h0M569.9 583.1h0M556.7 593.9h0M579.3 564.3h0M579.3 571h0M558.9 572.2h0M571.6 574.6h0M549.4 603.7h0M431.7 531.7h0M591.3 556.8h0M620 497.2h0M607.4 493.3h0"/><path d="M532.8 511.1h0M554.2 562h0M515.6 558.8h0M534.7 563.4h0M560.1 501.8h0M519.9 551.4h0M575.5 526.4h0M559.9 497.3h0M548.6 503.6h0M579.4 515.9h0M552.4 556h0M570.6 536.7h0M529.4 563.4h0M570.2 504h0M513.3 553.9h0M553.3 503.4h0M517.4 537h0M543.6 509.5h0M562.9 548.3h0M524.8 567.9h0M518.9 541.4h0M533 559.3h0M541.6 499.5h0M528.5 514.7h0M567.3 546.3h0M513.8 543.2h0M523.8 529.2h0M515.4 569.8h0M559.4 554.5h0M572.5 510.5h0M544.4 513.5h0M539.5 508.3h0M541.9 503.5h0M548.4 555.4h0M525.4 563.5h0M521.2 563.6h0M531.7 519.8h0M560.9 542.7h0M564.9 499.7h0M525.2 512.2h0M544.8 561.7h0M569.2 497.7h0M518.7 531.8h0M573.9 517.5h0M512.5 547.9h0M563.9 539.6h0M551 496.9h0M574.3 500.9h0M568.2 541.7h0M562.8 559.6h0M555.6 498.2h0M525 524.7h0M531 567.4h0M534.6 503.9h0M577.3 507.8h0M558.9 549.7h0M553.9 550.3h0M559 561.2h0M548.7 564.2h0M571.7 530.8h0M509 561.7h0M550.8 509.8h0M539.8 562.9h0M522 520.2h0M519.8 515.8h0M568.2 550.4h0M520.9 524.1h0M516.3 547.1h0M577.8 502.7h0M544.2 557.5h0M535.7 515.9h0M545 501.2h0M571.5 546h0M521.9 534.3h0M578.6 542.7h0M591.5 506.4h0M551 559.6h0M583 503.1h0M509.6 569.9h0M510.8 528.4h0M574.4 522.6h0M582.7 518.1h0M528.9 525.3h0M564 553h0M520.5 573.3h0M511.9 557.8h0M515.8 520.3h0M564 503.9h0M523.6 577.7h0M536.9 570.8h0M511.5 534.4h0M573.5 539.2h0M514.1 531.5h0M512.8 524.7h0M559.9 505.8h0M584.9 529.4h0M582.6 497.1h0M514.7 563.3h0M519.5 568.4h0M513.2 539.3h0M556.8 557.6h0M562.3 489.7h0M537.1 512.2h0M527.1 518.6h0M540.5 516.4h0M582.7 509.2h0M605.4 490.7h0M564.4 495.8h0M587.8 502.9h0M572.4 552.3h0M539.1 577.5h0M578.9 524.2h0M588.7 514.6h0M503.1 564h0M517.5 527h0M594.8 492.3h0M519.2 580.9h0M575.2 492.3h0M503.6 549.2h0M531.6 506.7h0M519.4 560h0M562.9 578h0M561.2 574.2h0M572.6 566.1h0M550 567.8h0M577.5 567.1h0M557.4 567.9h0M569.9 570.9h0M552.7 574.7h0M545.6 579.9h0M591.3 556.8h0"/><path d="M532.9 560.3h0M560.4 495.7h0M533.6 510h0M573.4 523.5h0M550.3 503.2h0M554.6 559.4h0M517.5 553.3h0M516.3 537.2h0M515.6 561.9h0M526.2 515.5h0M546.1 510.6h0M572.7 502.8h0M511.4 543.9h0M540.5 509.2h0M544.3 507h0M521 536.6h0M574.5 508.6h0M521.4 531.5h0M533 564.3h0M529.9 520.2h0M558.5 504.3h0M520.3 563.7h0M559.1 541.9h0M564 543.9h0M559.7 557.5h0M533.3 517.3h0M570.8 547.6h0M544.4 558.2h0M569.1 497.2h0M573.9 519h0M515.5 541.3h0M566.1 539.1h0M551.5 555.9h0M525.1 567.5h0M556.9 500.7h0M516.2 546h0M565.8 499.5h0M571 534.6h0M555.9 554.5h0M551.1 496.8h0M542.6 499.7h0M573.9 528.9h0M512.1 553.3h0M548.8 563.5h0M559.1 551.6h0M527.8 523.7h0M512 547.9h0M571.9 511.8h0M523.2 523.1h0M542.9 561.9h0M532.6 505.7h0M539.1 502.6h0M536.7 565.6h0M532.8 501.9h0M563.9 549.8h0M511.8 559.9h0M548.6 506.7h0M541.4 513.3h0M518.2 517.9h0M527.5 562.7h0M511.3 563.8h0M546.1 502.7h0M568.4 552.3h0M567.2 546.4h0M571.1 543.4h0M525.8 528.3h0M580.6 518.8h0M519.3 526.9h0M512.8 571.7h0M519.5 550h0M530.8 512.6h0M519.8 542.2h0M536.3 506.9h0M555.5 497.1h0M564.9 556.6h0M563.2 502.5h0M548.9 567.9h0M534.1 569h0M572.5 539.4h0M518.4 573h0M516.1 557h0M583.3 514.8h0M579.2 504.4h0M519.8 567.7h0M554.8 550.7h0M575.8 515.7h0M514.4 528.6h0M530 569.5h0M519.5 522.1h0M514.3 568.3h0M523.7 510.7h0M585.2 509.6h0M511.1 537.9h0M523.4 580.1h0M517.1 533.2h0M536.9 514.9h0M579.2 499.3h0M558.5 562.4h0M540.8 565.7h0M564.4 495.9h0M593 508.8h0M511.1 522.5h0M546 554.6h0M501 561.5h0M577.8 522.6h0M574.3 498.1h0M563.1 560.7h0M572.3 494.5h0M578.7 511.1h0M560.4 578.9h0M575.7 565h0"/><path d="M553.5 502.5h0M558.8 498.6h0M534.5 511.5h0M552.5 559.3h0M543.6 505.5h0M516.3 538.1h0M562.6 497h0M543.6 509.4h0M574 527.1h0M520.1 539.5h0M523.6 530.6h0M515.3 558.7h0M547.7 505.6h0M515.7 552.3h0M559.8 502.7h0M545 555h0M574.5 508.5h0M566.3 499.1h0M563 540.4h0M572.6 511.8h0M537.8 509.4h0M547.6 501.2h0M564.1 546.3h0M574.4 500.6h0M519.4 534.6h0M530.9 520.8h0M519.8 552.3h0M530.1 516.2h0M570.8 497.8h0M533 559.7h0M511.7 544.7h0M560.2 559.7h0M572.1 537.5h0M556.4 555.5h0M536.2 564h0M566.7 537.3h0M572.9 531.1h0M574.6 522.8h0M561.4 554.2h0M513.3 540.5h0M548.2 496.5h0M530.1 562.4h0M522.8 520.4h0M532.2 507.6h0M574.7 518.2h0M517.4 547.1h0M555.5 550.7h0M566.8 542.3h0M565 550.2h0M541.2 560.7h0M519.2 530.7h0M544.6 564.1h0M544.1 498.2h0M548.6 553.7h0M540.6 513.6h0M521.2 526.3h0M511.2 550.7h0M551.8 508.3h0M560.8 550h0M521.5 563.4h0M518.9 560.1h0M572.4 547.7h0M526.4 524.3h0M547.9 561.6h0M546.5 512.5h0M535.6 515.3h0M512 562.9h0M570.2 502.6h0M567.7 553.7h0M515.7 517.9h0M556.4 560.2h0M535.6 569.1h0M512.5 554.8h0M524.8 561.1h0M528.6 512.1h0M519 572.6h0M572.1 542.6h0M523.6 569.2h0M535.3 504.7h0M517.4 543.2h0M577.7 506h0M513.2 531.2h0M552.6 498.7h0M531.9 501.7h0M525 510.1h0M516.1 564.7h0M556.8 505.1h0M579.4 515.1h0M560.7 544h0M526.9 518.7h0M519.2 568.7h0M563.6 503.7h0M528.9 570.3h0M583.5 508.5h0M557 564h0"/><path d="M531.9 510h0M562.2 498.7h0M558.8 496.6h0M552.3 560.5h0M514.8 536.1h0M545.3 507h0M546.3 510.8h0M523.3 532.5h0M535.2 513h0M520.7 537.1h0M515.2 560.9h0M551.2 503.5h0M572.5 507.6h0M517.6 552.6h0M563.8 540.6h0M540.8 508.3h0M558.6 502h0M549 558h0M531.7 519.9h0M565.6 545.6h0M569.4 537.8h0M577.1 506.7h0M530.4 562.4h0M513.8 545.8h0M545.1 556.7h0M573 535.4h0M529.3 516.7h0M574.6 524.4h0M559.3 558.5h0M571.9 500.7h0M541 503.1h0M573.9 528.3h0M514.4 541.7h0M518.8 531h0M519 542.2h0M567.7 501.3h0M528.7 523.6h0M549 499h0M512.5 553.5h0M554.7 500.6h0M524.7 520.4h0M540.3 561.9h0M575.2 520.7h0M558.2 551.8h0M566.6 497.2h0M551.7 555.1h0M567.6 542.2h0M516.7 548.9h0M565 550.3h0M574.7 515.9h0M546 502.1h0M547 563.5h0M551.1 508.2h0M520.6 564h0M535.9 565h0M521.5 525.5h0M542.5 512h0M543.3 497.7h0M561.6 504.9h0M521.6 516.8h0M526.5 527.4h0M511.9 563.5h0M570.1 546.5h0M561.9 547.3h0M570.8 497h0M512.5 557.6h0M539 514.6h0M571.4 531.7h0M573.4 512.3h0M557.3 561.9h0M524.2 562.7h0M519.2 573.3h0M554.6 550.1h0M531.8 505.1h0M527.7 512.3h0M517.1 517.9h0M573.8 539.4h0M560.2 543h0M563.9 555.9h0M533.1 559.1h0M514.2 530h0M553 495.9h0M535.1 507.8h0M527.5 569.4h0M581.1 516h0M536.2 504.1h0M557.2 506.3h0"/><path d="M546 510h0M559.4 496.5h0M517.5 538.4h0M532.1 511.3h0M572.9 505.3h0M517.6 560.1h0M562.5 500h0M574.8 508.9h0M550.3 506.2h0M522.1 530.7h0M553.5 562.2h0M552.7 557.2h0M514.9 551.9h0M546 557.9h0M560.1 557.1h0M564.1 537.9h0M562.4 546.2h0M574.5 500.3h0M530.6 518.6h0M567.6 540.7h0M569.7 498.6h0M517.8 544.4h0M558.5 501.8h0M514.5 546.5h0M527.4 521.7h0M573.6 536h0M537.8 511.5h0M574.4 525.6h0M529 563.1h0M542.6 563.9h0M544 506h0M527.3 516.2h0M533.7 514.9h0M551.5 502.3h0M519.2 533.9h0M548.6 554.7h0M515.2 534.6h0M572.4 530.7h0M557.2 553h0M521.7 522.6h0M511.7 542.4h0M519.9 551h0M542.6 502.4h0M567.6 545.8h0M564.8 552.1h0M561.3 541.8h0M569.3 536.2h0M555.2 497.5h0M533.7 562.6h0M534.1 566.6h0M518.6 525.3h0M522.7 564h0M542.4 498.2h0M546.7 501.8h0M547.8 565.1h0M549.8 560.5h0M572.7 514.3h0M574.7 521.4h0M538.7 563.4h0M524 527h0M538.8 515.9h0M510.4 564.5h0M565.4 496.2h0M512.1 559.6h0M559.6 506.3h0M569.8 494.8h0M576.4 517.1h0M556.4 559.4h0M518.6 529.2h0M543.9 513.1h0M547.6 497.8h0M511.3 554.7h0M520.5 518.9h0M520.9 575.5h0M533.7 507.2h0M515.7 556.8h0M518.7 564.1h0M552.7 549.4h0M571.7 549h0M570.7 510.7h0M542 509.6h0M513 529.5h0"/><path d="M545.6 509h0M533.4 512.2h0M518 560.5h0M557.1 498.4h0M563.7 499.3h0M515.8 539.1h0M549.9 504.5h0M550.9 560.9h0M564.3 540.6h0M573.4 509.8h0M519.4 533.1h0M520.7 536.8h0M571.3 498.2h0M547.8 555.1h0M514.5 546.2h0M557.9 504.5h0M556.4 556.4h0M517 550.5h0M560.9 555.9h0M515 555.2h0M537.5 510.1h0M572.5 536.2h0M528 519.2h0M574.2 524.1h0M532.6 519.3h0M574.9 505.5h0M539.6 562.2h0M568.8 501.4h0M573.5 501.5h0M523.2 530.2h0M544.5 558.7h0M574.1 529.4h0M541.2 505.7h0M562.4 548.7h0M544.1 564.1h0M566.3 536.8h0M554 503.2h0M511.2 551.7h0M525.4 524.8h0M533.8 561.6h0M545.8 503h0M549 499.8h0M559.2 551.8h0M564.2 552.3h0M566.6 544.5h0M543.9 498.7h0M530.2 515.8h0M545.6 513.4h0M567.6 496h0M575 515.8h0M529.3 563.4h0M520.4 566.6h0M509.9 564.4h0M519.9 523.1h0M511 543.7h0M561.7 505.4h0M522.4 561.6h0M552.4 556.3h0M574 519.9h0M540.8 515.9h0M554.7 561.3h0M550.7 509h0M513 559h0M570.5 533h0M561 495.9h0M537 516.5h0M517.8 543.6h0M554.8 550.6h0M568.2 551.1h0M560.3 542.3h0M571.1 540.2h0M514.7 535.1h0M529.7 524.3h0M559 562.1h0M535.2 568.2h0"/><path d="M545.8 506.5h0M533.6 513.2h0M565.3 499.7h0M558.3 500h0M552.7 561.7h0M571.9 510.4h0M517.2 538h0M513.8 546.6h0M546.8 510.4h0M566 543.4h0M521.8 531.7h0M516.7 553.7h0M551.2 555.3h0M527.9 522.9h0M572.7 500.4h0M517.2 549.4h0M559.6 505.3h0M542.7 563.7h0M517.1 558.7h0M529.4 517.3h0M543.3 503.4h0M531.8 521.5h0M574.4 505.9h0M565.7 547.3h0M553.9 499.7h0M557.7 558.1h0M568.8 497.6h0M569.5 538.9h0M521.1 536.4h0M538.2 511h0M561.5 552.3h0M563.9 539.5h0M575 522.2h0M556.2 552.7h0M548.6 501.3h0M531 509.9h0M519.1 562.1h0M573.5 533.6h0M551.9 506.6h0M533.3 562.3h0M547.5 562.5h0M517.6 544.6h0M543.5 512.5h0M544.9 559.4h0M523.6 525.8h0M555.9 504h0M572.8 496.6h0M574.9 526.6h0M577 508.6h0M574.2 516.3h0M512.5 554.8h0M533.4 517.7h0M523.3 563.1h0M514.1 535.7h0M528.2 562.7h0M538 564.8h0M549.6 496.7h0M511.3 562.2h0M561.7 547.5h0M568.1 551.1h0M525.1 518.9h0M539.4 516.4h0M560.2 540.7h0M546.9 555.1h0M543.5 498.4h0M557.4 496.1h0M541.7 508.2h0"/><path d="M545.8 509.7h0M561 501.5h0M516.4 541.2h0M564.6 497.2h0M519.3 533.2h0M551.7 561.5h0M572.6 507.4h0M550.1 556.7h0M563.2 543.8h0M547.6 504.6h0M556.7 497h0M513.8 547h0M515.7 553.1h0M530.7 522h0M534.6 515h0M543 504.2h0M518.6 549.9h0M566.1 500.7h0M515.8 560.2h0M556.3 504.6h0M551.3 500.7h0M557.3 554.6h0M527.3 524.7h0M562.9 552.1h0M570 498.5h0M567.3 542.1h0M539.6 510.2h0M572.7 534.5h0M574.9 500.6h0M540.1 561.8h0M534.4 510.3h0M570.6 539.1h0M544 500.1h0M549.3 508.1h0M573.9 524.4h0M524.5 529.4h0M573.3 528.9h0M558.9 550.2h0M519.4 561.5h0M520.3 538.9h0M564.9 538.7h0M530.8 562.6h0M546 563.1h0M574.4 512.5h0M529.7 515.6h0M523.4 523.3h0M526.3 564.5h0M575.8 519.1h0M561.3 557h0M511.8 554.5h0M555.6 562.9h0M550.9 496.7h0M517 536.3h0M546.9 558.9h0M519.9 524.9h0M554.9 550.2h0M535.7 564.7h0M567.8 551.1h0M559.9 541h0M526.6 520.7h0M566.3 546h0M543.3 512.7h0M538.3 516.3h0M551.9 504.5h0M512.5 536.9h0"/><path d="M560.8 499.2h0M516.7 540.8h0M543.1 511.3h0M515.1 544.5h0M521.9 530.9h0M546.4 508.6h0M575.1 510.2h0M549.4 555h0M551.1 561.1h0M518.9 534.9h0M530.8 522.1h0M575.2 505.8h0M514.4 559.4h0M564.6 502.2h0M559.2 553.1h0M548.1 504.4h0M553 556.7h0M570.6 499.6h0M560.7 504.7h0M524.3 523.8h0M549.9 500h0M536.9 509.8h0M558.7 557.5h0M570.1 533.5h0M518.7 551.8h0M532 515.7h0M514.1 551h0M568.2 542.7h0M564.5 550.9h0M540 564.1h0M560.6 549.5h0M574.9 527.5h0M568.8 496.1h0M568.7 538.6h0M542.7 504.2h0M574.4 500.2h0M546.4 561.9h0M575.1 521.1h0M530.9 511.1h0M573.3 514.8h0M561.1 541.7h0M521.1 563.4h0M554.7 501.2h0M551.5 508.4h0M531.6 562.4h0M564.8 546.2h0M536.4 516h0M524.8 561.5h0M527.6 519.9h0M555.4 560.6h0M525.2 527.7h0M543.7 565.3h0M516.9 564.1h0M526.6 515.7h0M546.8 512.5h0M535.4 563.2h0M557.4 496h0M528 525.1h0"/><path d="M519.5 539.4h0M543.8 508h0M548.9 509.7h0M559.8 499.5h0M543.6 512h0M573.3 505.5h0M533 519.9h0M572 510.2h0M513.5 545.9h0M519.3 532.6h0M563.3 501.8h0M517.3 559.6h0M527.4 525.1h0M562.3 552.9h0M548.7 498.7h0M551.2 505h0M567.4 501.6h0M572.1 497.8h0M567.1 545.2h0M516.8 543.8h0M546.6 502.1h0M548.1 555.9h0M535.4 514.9h0M556.6 551.6h0M553.4 558.8h0M519 550.1h0M536.8 563.4h0M571.1 531.6h0M576.9 503.2h0M551.1 562h0M559.1 505.8h0M552.8 501h0M522.9 529.4h0M543.2 560.7h0M571 539.4h0M514.5 554.5h0M576.6 510.8h0M537.2 507.8h0M563.7 542.3h0M575.1 529.6h0M522.6 525.4h0M547.4 560.2h0M566.4 496.8h0M574.4 517h0M533 562.2h0M575.1 521.5h0M528.5 521.1h0M538.5 511.8h0M512 558.3h0M519.4 563.7h0M565.8 549.8h0M559.3 559.3h0M514.8 550.2h0M565.8 538.8h0M527.9 562.7h0M552.2 555h0M517.1 535.9h0M524.3 564h0M539.6 516.5h0M532.3 512.2h0"/><path d="M544.3 509.3h0M558.8 497.4h0M562.2 500h0M513 547.1h0M518.9 541.1h0M522.1 533.4h0M548.2 508.9h0M572.8 509h0M572.5 504.1h0M540.4 511.7h0M561.3 551.8h0M569 500h0M548.9 503h0M517.6 536.2h0M546.8 499.4h0M517.1 546.9h0M570.8 535.3h0M554.8 555.7h0M561.8 504.8h0M532.6 517h0M546.5 556.1h0M553 559.6h0M569.2 496h0M552.1 499.7h0M515 543.1h0M558.2 502.9h0M514.9 560h0M540.5 561.7h0M514.8 552.2h0M518.8 552.7h0M566.6 543.6h0M512.6 556.5h0M526.3 524h0M572.8 530.8h0M562.8 543.9h0M574.7 499.9h0M522.1 525.3h0M568.2 539.4h0M534 512.8h0M573 513.9h0M545.9 561.5h0M519.7 530.2h0M530 563.5h0M533.9 563.2h0M520.5 561.5h0M528.2 520.4h0M574.8 517.9h0M564.9 553.1h0M544.8 503.5h0M574.3 526.7h0M538.5 516.1h0"/><path d="M543.8 506.1h0M557 498.8h0M560.6 500.4h0M519.9 530.9h0M564.5 501.2h0M547.6 509h0M514.5 546.7h0M572.9 509.9h0M562.3 549.8h0M516.7 541h0M544.8 501.9h0M573.5 500.8h0M519.8 537.5h0M540.3 512.4h0M562.3 504.5h0M570.4 498.6h0M549.4 505.6h0M574.8 505h0M553.9 556.2h0M553.3 561.4h0M517.7 553.9h0M571.9 534.4h0M553.7 501.5h0M515 559.6h0M566.9 544.6h0M530.3 518.2h0M528 522.7h0M574.4 530h0M539 562.9h0M550.3 498.4h0M519.6 548.9h0M543.4 560h0M524.2 527.2h0M574.3 515.2h0M569.1 538.5h0M558.5 553.9h0M547.2 559.1h0M563.8 541.5h0M513.4 553.5h0M516.4 534.3h0M530.3 563h0M532.2 513.5h0M549.2 553.5h0M558.7 506.5h0M521.4 563.8h0M526.3 563.3h0M566.9 552.8h0M534.7 563h0M574.2 520.4h0M543.4 509.9h0M522.4 533.8h0"/><path d="M559.8 496.8h0M543.7 506.8h0M549 509.7h0M514.2 547.9h0M566.1 500.5h0M520 533.6h0M561.4 550.6h0M574 507.3h0M572.2 502.7h0M546.4 503.7h0M558.1 501.4h0M571.4 496.2h0M540.5 511.7h0M517.5 561.4h0M516.3 543.4h0M556.8 553.8h0M573.1 534.8h0M514.6 558.7h0M550.4 559.5h0M519.5 538h0M552.3 502.6h0M569.1 543.5h0M556.9 558.2h0M561.8 504.5h0M575.5 528.2h0M564.4 547.1h0M554.7 562h0M514.6 553.3h0M545.4 560.5h0M550.2 499.1h0M532.9 519.9h0M523.1 525.5h0M574.6 515.2h0M535.1 514.9h0M529.7 563h0M564.7 542.6h0M527 518h0M575.8 510.8h0M538.6 563.9h0M565 552h0M567.3 538.1h0M561.1 540.6h0M547.9 554.6h0M523.1 562.4h0M555.2 498.1h0M567.5 496.4h0M526.8 523h0M574.5 519.1h0"/><path d="M545.9 508.5h0M557.3 499.1h0M564.7 502.3h0M522 530.7h0M573.5 503.5h0M569.3 497.1h0M518.1 541.7h0M554.7 554.1h0M512.8 547.2h0M570.8 537.6h0M550.7 505.7h0M573.2 534.3h0M546.6 500.3h0M516.2 553.2h0M540.6 510.8h0M572.8 499.1h0M549.8 561.5h0M561.2 498.7h0M516.9 537.5h0M553.6 558h0M531.6 522h0M560.1 550.9h0M533.1 515.8h0M513.5 556.6h0M526.3 525.1h0M564.2 545.5h0M567.3 540h0M573.4 513.3h0M514.4 560.8h0M533.3 563h0M516.7 548.5h0M543.4 561.1h0M556.3 503.7h0M538.5 563.1h0M521.5 562.1h0M543.5 503.8h0M558.1 556.3h0M536.6 513.3h0M526.9 562.6h0M553.4 498.3h0M527.4 520.5h0M565 549.7h0"/><path d="M543.3 507.3h0M560.1 497.2h0M548.8 509.7h0M573.1 503.7h0M565.1 500.8h0M520.1 531.2h0M571.7 534.9h0M571.8 497.2h0M555.6 501.3h0M512.5 548.6h0M515.5 556.8h0M555.2 553.6h0M517.1 539.1h0M515.6 546.4h0M537.6 512.3h0M546.6 561.8h0M553.3 557.9h0M517.3 551.1h0M543.6 501.3h0M570.5 540.8h0M523.7 527.9h0M530.9 521.3h0M533.6 514.6h0M564.1 542.9h0M575.2 514.2h0M566.6 539.1h0M562.7 549.1h0M536.8 563.9h0M547.2 499.6h0M531.8 564h0M519.6 561.4h0M541.8 562.1h0M559.6 554.7h0M549.7 504.3h0M514.9 562.3h0M542.5 511.7h0M574.1 531.1h0"/><path d="M545.9 507.3h0M560.2 500.3h0M572.2 502.1h0M572 497.1h0M567.8 501h0M514.8 551.5h0M558.2 553.4h0M571 533.4h0M520.3 537.2h0M519.3 530.1h0M551.8 560.9h0M554.1 500.4h0M519.3 542h0M546.8 561.1h0M564.1 500.1h0M516.1 556.4h0M533.4 517.3h0M537.6 513h0M543.3 563h0M514.7 545.5h0M525 527.2h0M566.5 542.2h0M570 537.1h0M550.2 508.5h0M530.9 522.8h0M520.9 563.6h0M551.4 503.8h0M573.1 512.3h0M528.5 562.6h0M542 512.2h0M549.6 499.1h0"/><path d="M573.1 504.6h0M563.3 502.1h0M558.5 499h0M514.3 553.4h0M558 502.8h0M555.5 553.5h0M517.5 536.9h0M548.3 509.5h0M522.7 531h0M519.9 540.2h0M570 495.9h0M516.9 549.8h0M572.1 536.6h0M543.3 505.8h0M543.8 562.9h0M532.2 515.7h0M545.7 559h0M531.5 521.1h0M569.6 541.1h0M568.5 500.6h0M550.4 558.7h0M517.3 545.8h0M568.3 536.8h0M540.5 512.8h0"/><path d="M572.9 501.4h0M565.9 499.5h0M558.6 502.3h0M556.4 554.8h0M513.3 551.2h0M516.7 542.1h0M547.8 506.3h0M546.3 510.5h0M543.7 507h0M513.5 555.9h0M555.6 499.1h0M517.7 554.1h0"/><path d="M574.1 501.3h0M563.1 498.7h0M557.9 501.1h0M515.5 553.5h0M570 499.7h0M555.7 553.2h0M547.6 506.9h0"/><path d="M575.2 503.5h0M555.5 500.4h0M563.5 499.8h0M514.1 551.1h0M544.7 505.7h0M572.1 501h0M548.8 506.4h0"/><path d="M572 504.1h0M563.3 498.6h0M516.4 551.1h0M545.6 505.9h0"/></g><g fill="none" stroke="#c71585" stroke-opacity="0.88" stroke-width="3.8" stroke-linecap="round"><path d="M489.1 543.5h0M508.1 547.6h0M504.4 541.2h0M484.2 529.3h0M503.6 532.4h0M498.5 543.1h0M510.5 539.1h0M483.9 542.3h0M465.4 553.6h0M476.9 537.5h0M488.2 538.2h0M502.4 545.1h0M508.8 513.7h0M501.4 537.6h0M462.8 532.5h0M505.3 527.2h0M472.6 534.8h0M504.3 510.4h0M479.2 552.3h0M507.3 533.9h0M494.4 541.1h0M506.3 551.4h0M477.2 521h0M470.6 538.2h0M491.7 554.6h0M509.9 530.2h0M499.3 525.5h0M474.4 548.3h0M510.3 520.1h0M434.4 555h0M481.1 526.2h0M507.8 557.8h0M501.1 555.6h0M490.3 519.5h0M496 527.6h0M507.3 563.7h0M496 551.5h0M489.6 559.6h0M492.8 525.5h0M491.7 546.8h0M494.4 563.7h0M492.8 531.5h0M484.8 535h0M497.2 547.1h0M495.4 536h0M498.2 563.7h0M503.3 563.7h0M500.9 529.3h0M457 542.5h0M478.1 542.8h0M477.4 558.2h0M463 517.2h0M509.6 525.2h0M478.7 515.6h0M488.1 530.7h0M481.3 532.9h0M484.1 549.8h0M497.3 518h0M509.6 543.6h0M484.7 563.3h0M501 549.5h0M489.4 550h0M467.7 530.4h0M448.7 539h0M444.2 532.5h0"/><path d="M509.8 548.7h0M466.6 551.5h0M495.1 543.3h0M485.4 532.3h0M507.7 541h0M487.8 544h0M506.6 532.3h0M504.9 548.8h0M508.2 536.9h0M483.3 541.9h0M500.3 538.7h0M502.1 533.9h0M500 525.2h0M483.2 527.4h0M500.2 542.6h0M488.2 554.7h0M510 544.4h0M501.6 554.1h0M510.4 527h0M506.2 527.2h0M506.4 554.4h0M486.9 539.1h0M501.3 529.8h0M475 545.4h0M489.5 561.9h0M506.7 516.3h0M504.9 563.5h0M495.4 536.4h0M478.2 554.9h0M491.3 530.4h0M495 551.5h0M497.6 563.7h0M486.6 559.2h0M491.3 525h0M499.1 546.8h0M482.7 547h0M508.8 521.3h0M495.1 531.1h0M472.8 549.7h0M508.4 560h0M479.9 549.6h0M488.3 549.4h0M497.3 515.9h0M473.4 536.4h0"/><path d="M507.9 546.4h0M495.7 543.7h0M505.8 540.4h0M507.5 532.9h0M466.5 554.9h0M487.2 545.1h0M484.7 540.9h0M506.5 528.8h0M502.3 533.8h0M502.3 546.5h0M504.7 557.8h0M496.7 539.1h0M499.2 528h0M486.8 534.6h0M488.1 538.3h0M509.7 541.2h0M495.1 535.2h0M507.3 562.1h0M510.1 536.9h0M489.7 527.2h0M503.6 550.5h0M495.7 548.8h0M507.2 553.3h0M497.6 552.7h0M500.7 556.6h0M503.6 563.7h0M492.9 541h0M501.3 523.8h0M494 527.2h0M500.5 541.6h0M510.5 550.1h0M481.6 525h0M490.9 523h0M488 559.3h0M477.4 542.6h0M484.7 531.3h0"/><path d="M507.7 547.2h0M495.5 540h0M507 542.7h0M507.4 534.5h0M504.5 530.8h0M468.7 552.9h0M503.1 543h0M498.9 544h0M509 528.5h0M506.6 560.5h0M500 526.7h0M486.5 533.4h0M501.6 537.4h0M508.9 538.3h0M496.1 550.8h0M501.7 563.7h0M497.9 533.7h0M501.6 547.6h0M503.1 552h0M489.3 536.4h0"/><path d="M509.7 547.2h0M506.8 549.8h0M509.3 535.8h0M503.8 534.2h0M506.8 531.6h0M507.9 539.7h0M505.7 527.2h0M503 542.4h0M493.6 541.4h0M504.7 546.5h0M505.3 563.7h0M499 538.1h0M498.6 547.3h0M500.4 553.7h0"/><path d="M507.8 544.6h0M504.4 530.6h0M507.8 539.3h0M502.1 540.1h0M509.5 548.4h0M494.9 540.1h0M508.5 528.1h0M502.4 544.6h0M496.2 544h0M504.4 549.3h0M507.1 533.3h0"/><path d="M510 545.8h0M507 548.2h0M502.9 531h0M506.5 540.2h0M507.9 535.6h0M506 527.8h0M496.1 540h0M502.7 542h0"/><path d="M508.1 543.9h0M505.2 546.7h0M509.6 547.5h0M504.5 528.8h0M507.7 532.4h0M504 534.1h0M507.9 537.6h0M507.1 525.9h0M497.1 542.8h0M496 538.7h0M501.3 541.9h0"/><path d="M508.7 546.6h0M502.6 529.2h0M505.5 540.1h0M503.7 533.3h0M493.8 538.4h0M507.6 530.8h0"/><path d="M510.3 546.5h0M504.2 531.7h0M506.7 547.9h0M507.2 541.9h0M505.7 536.1h0"/><path d="M509.3 548.3h0M506.2 541.2h0M502 532.3h0M506.3 537.1h0"/><path d="M508 545.5h0M509.9 548.9h0M509.1 540.4h0"/><path d="M510.3 548.3h0"/><path d="M506.6 547.4h0"/><path d="M509.1 548.7h0"/></g><g fill="none" stroke="#c71585" stroke-opacity="0.88" stroke-width="3.8" stroke-linecap="round"><path d="M476.7 573.5h0M496.6 621.8h0M478.4 606.7h0M425 566.5h0M495.2 582.7h0M464.1 575.7h0M472 572.9h0M496.1 569.8h0M502.1 569.9h0M491.1 573.1h0M504.1 576.3h0M482.6 580.6h0M447 607h0M493.5 602.2h0M447.3 589.1h0"/><path d="M489.1 570.4h0M505 573.8h0M493.1 605.3h0M492.7 580.8h0M483.1 583.4h0"/></g><g fill="none" stroke="#c71585" stroke-opacity="0.88" stroke-width="3.8" stroke-linecap="round"><path d="M577.9 504.7h0M587.5 535.6h0M578.1 560.9h0M576.1 517.9h0M582.2 501.4h0M576.8 546.1h0M588 498.4h0M575.8 536.8h0M586 525.8h0M579 515.4h0M586.5 510h0M576.6 528.5h0M580.7 540.3h0M576.3 522.9h0M580.9 536.2h0M595.9 519h0M577.5 550.1h0M595.5 530.7h0M580.7 525.1h0M576.9 542.2h0M581.7 506.9h0M585.4 515h0M606.5 527h0M594 507h0M585.4 547.6h0M584.3 497h0M602.8 513h0M593.6 543.1h0M604.4 503.9h0M594.5 502.6h0M589.9 505.1h0M597.6 538.8h0M585.7 557.3h0M582.8 529.3h0M592.3 498.8h0M598.5 546.5h0M580.1 495.9h0M581.9 559.3h0M576.4 497.6h0M589.3 513.7h0M580.6 547.2h0M590.4 560h0M586.4 519.2h0"/><path d="M576.2 560.9h0M576.3 533.5h0M576.5 549.5h0M586.2 499.1h0M578.1 537.6h0M576.8 519.7h0M579.4 557.4h0M583.5 540.9h0M579.8 544.6h0M586.2 513.2h0M580.5 533h0M578.6 508.2h0M581.7 522.4h0M596.4 531.9h0M587.5 524h0M601.7 509.4h0M584.9 545.2h0M589.3 509.7h0M587 534h0M601.1 505.6h0M585.6 508.3h0M575.7 543.4h0M596.6 499.5h0M579.8 513.6h0M580.1 501h0M594.4 508.2h0M580.1 529.1h0M589.3 556.7h0M595.2 547.7h0M575.8 514.7h0M590.1 516h0M593.9 540.1h0"/><path d="M576.3 520.9h0M578.7 531.1h0M576.5 548.9h0M576.1 536.6h0M583.3 540.5h0M584.2 525h0M577.9 544.1h0M579.4 559.4h0M579.4 508.3h0M585.4 515.3h0M580.4 523.5h0M590.2 509.9h0M593.3 500.4h0M584.8 509.4h0M583.7 505.3h0M580.2 513.5h0M583.8 499.9h0M589.5 516.7h0M588.4 525.2h0M586 532.4h0M575.8 506.2h0"/><path d="M576.6 548.7h0M577.9 537.7h0M583.8 537.2h0M581.9 522.5h0M580 509h0M579.9 543.8h0M578.9 560.9h0M578.5 518.7h0M576.9 512.3h0M589.9 506.5h0M583 512.9h0M576.8 533.6h0"/><path d="M580.8 509.4h0M576.9 549.2h0M583.3 522.9h0M582.6 538.6h0M578.7 545.4h0M575.8 535.7h0M577.5 521.7h0"/><path d="M580.5 538.1h0M578.8 544.3h0"/><path d="M581.9 540.1h0M576.9 538.8h0M579 535.6h0"/></g><g fill="none" stroke="#ee7600" stroke-opacity="0.88" stroke-width="3.8" stroke-linecap="round"><path d="M446.9 574.3h0M506 565.1h0M502.5 591.2h0M492.5 575.3h0M507 577.2h0M488.6 574.3h0M507.7 581.1h0M451.7 584.1h0M500.8 595.7h0M499.1 573.2h0M507.2 590.1h0M474.1 580.3h0M481.8 570.6h0M485.2 578.5h0M509.4 568.2h0M466.3 570.7h0M477.8 574.2h0M504.1 569h0M500.7 577.9h0M506.2 606.5h0M484.6 565.5h0M481.2 584.9h0M500.2 565h0M510.1 573.9h0M486.9 585.2h0M503.3 626.5h0M487.9 627.6h0M483.6 590.7h0M478.9 597.5h0M506.2 594.4h0M495.3 623.3h0M509.1 586.3h0M480.2 581.2h0M491.7 580.5h0M475.2 570.5h0M493.9 565.1h0M502.8 582.5h0M468.8 578.9h0M494.7 612.2h0M495.5 590.5h0M510 607.4h0M489.1 599.7h0M475.8 593.4h0M500.6 603.5h0"/><path d="M506.1 568.7h0M508.5 578.1h0M489 575.1h0M505.4 574.1h0M497 570.8h0M503.2 596.8h0M503.4 587.8h0M507.3 589.6h0M486.7 566.7h0M499.1 566.6h0M478.4 572.9h0M500.9 570h0M473.7 581.6h0M495.3 565.2h0M469.1 575.3h0M505.4 606.8h0M494.1 581.3h0M487.3 587.5h0M509.6 564.8h0M495.9 624.9h0M465.7 571.1h0M485.2 581.9h0"/><path d="M503.2 567.1h0M508.9 580.3h0M485.9 576.5h0M508.5 567.5h0M504 572.6h0M509.1 587.5h0M498.3 565.3h0M499.3 569.4h0M486.5 566.9h0M502.3 588.4h0M504.5 585.2h0M510.2 576h0M501.2 597.2h0M493.9 565.4h0M503 576.7h0"/><path d="M505.3 573.9h0M508.7 576.6h0M485.7 574h0M504.4 566.2h0M497.9 566.8h0M509.3 580.4h0M487.3 565.2h0M500.1 570.5h0M485.2 568.4h0M509 589.2h0M509.8 566.6h0"/><path d="M509.5 578.8h0M507 565.4h0M503.6 568.7h0M501.4 564.9h0M497.4 570.5h0M497.5 566.5h0M503.3 575.4h0M507.2 574.7h0"/><path d="M507.5 579.7h0M506.5 566.8h0M503.1 569h0M500 566.3h0M494.7 565.2h0"/><path d="M507.4 565.1h0M506.6 578.1h0"/><path d="M507.3 564.7h0M510 567.3h0"/><path d="M506.3 564.9h0"/></g><g fill="none" stroke="#ee7600" stroke-opacity="0.88" stroke-width="3.8" stroke-linecap="round"><path d="M423.6 634.8h0M419.9 646.9h0M457.8 632h0M470.7 618.1h0M476.3 618.5h0M485.3 619h0M459.6 605.3h0M463.8 584.7h0"/></g><g fill="none" stroke="#ee7600" stroke-opacity="0.88" stroke-width="3.8" stroke-linecap="round"><path d="M583.2 490.4h0M598.8 494.8h0M577.2 493.5h0M621.1 473.4h0M621.8 492.3h0M583.3 495h0M611.4 470.5h0M591 489.9h0M586.7 471.9h0M610.8 488.4h0M588.9 493.9h0M601.5 486.5h0M613.7 484.3h0M618.7 482.5h0M636.4 491.2h0M613.6 493.8h0M576.4 487.6h0M584.7 481.9h0"/><path d="M580.5 491h0M584.9 487.9h0M576.6 494.2h0M583.9 493h0M591.9 493.3h0"/><path d="M582.1 494.1h0M577.6 491.5h0"/><path d="M578.8 494.9h0"/><path d="M582.1 494.2h0M578.2 494.2h0"/></g><g fill="none" stroke="#0000ff" stroke-opacity="0.88" stroke-width="3.8" stroke-linecap="round"><path d="M525.5 575.4h0M520.4 565.3h0M533.4 571.8h0M519.2 570.4h0M524.8 566.9h0M529.7 570.5h0M512 567.7h0M515.6 575.1h0M531 583.9h0M522.2 590.8h0M516.9 578.7h0M541.9 566.5h0M515.3 565.1h0M534.3 581.3h0M514.4 571.1h0M531.3 578h0M531.7 566.2h0M541.5 578.4h0M540.8 570.3h0M521.4 574h0M534.3 588.3h0M527.9 601.3h0M518.9 583.2h0M533.5 596.7h0M512.6 599.9h0M548.8 570.4h0M545.8 584.3h0M548.4 588.8h0M512.3 578.4h0M550.7 595.5h0M537 566.6h0M527.6 592.5h0"/><path d="M518.6 568.2h0M537.2 571.8h0M525.1 565.4h0M532 574.4h0M530.5 569.8h0M525 574.6h0M522.2 593.8h0M545.4 567.3h0M514 571.5h0M534.6 568.4h0M514.7 565.4h0M515.9 581.3h0M541.5 565.7h0M542.7 570.1h0M533.7 583.7h0M512.1 596.5h0M535.3 578.5h0M522.9 571.3h0M512.8 577.6h0M531.2 565.4h0"/><path d="M519.4 570.3h0M527.4 565.9h0M522.7 567.6h0M530.6 574.4h0M517.3 566.9h0M515.4 575h0M520.2 591.1h0M534.2 565.5h0M526.8 574.1h0M542.7 568.4h0M522.6 576.9h0M538.7 568.3h0M533 579.4h0M532.3 568.8h0M536.8 578.6h0M530.3 583.3h0M511.6 572.9h0M545.4 565.3h0M523.7 571.9h0"/><path d="M519.6 567.7h0M526.3 567h0M529.1 573.5h0M534.1 573.4h0M516 569.9h0M532.4 568.6h0M513 574.3h0M522.3 575.1h0M515.8 565.7h0M533.1 577.9h0"/><path d="M520.9 568.5h0M525.5 567.9h0M516.8 566.9h0M527.6 573.9h0M530.4 566.2h0M523 575h0M534.5 569h0M533.1 574.7h0M515.6 572.8h0M511.7 575.6h0"/><path d="M521.5 567.2h0M517.2 568.1h0M527.8 570.6h0M525.5 564.9h0M524.7 574.4h0M531.6 565.2h0"/><path d="M521.8 566.1h0M527.7 566.5h0M514.8 567.5h0M522.2 574.1h0"/><path d="M524.1 566.1h0M518.7 565.8h0M515.5 569.2h0"/><path d="M521.8 569h0M517.3 567.3h0M523.8 565.2h0"/><path d="M522.9 566.4h0M518.6 566.3h0"/><path d="M522.1 567.5h0M526.1 566.5h0M515.3 565.3h0"/><path d="M523.9 566.9h0M518.7 568.2h0"/><path d="M523.2 565.8h0"/></g><g fill="none" stroke="#0000ff" stroke-opacity="0.88" stroke-width="3.8" stroke-linecap="round"><path d="M534.7 610.5h0M534.3 616.3h0M519.1 602.5h0"/></g><g fill="none" stroke="#c71585" stroke-opacity="0.88" stroke-width="3.8" stroke-linecap="round"><path d="M505.4 479.8h0M636.5 501.3h0"/></g><g fill="none" stroke="#0000ff" stroke-opacity="0.88" stroke-width="3.8" stroke-linecap="round"><path d="M538.6 492.6h0M558.6 486.1h0M570.1 491.6h0M546.7 491.8h0M572.6 494.9h0M567.9 484.3h0M559.8 493.2h0M555.9 492.7h0M543.6 483.5h0"/><path d="M540.1 491.8h0M573.3 489.6h0M569.3 488.5h0M556.4 486.7h0"/><path d="M541.3 494.5h0"/></g>
<line x1="510.97" y1="680.70" x2="510.97" y2="379.20" stroke="#bababa" stroke-width="1.6" stroke-dasharray="6.5 6"/>
<line x1="402.00" y1="564.14" x2="684.60" y2="564.14" stroke="#bababa" stroke-width="1.6" stroke-dasharray="6.5 6"/>
<line x1="575.23" y1="680.70" x2="575.23" y2="379.20" stroke="#bababa" stroke-width="1.6" stroke-dasharray="6.5 6"/>
<line x1="402.00" y1="495.56" x2="684.60" y2="495.56" stroke="#bababa" stroke-width="1.6" stroke-dasharray="6.5 6"/>
<path d="M402 379.2V680.7H684.6" fill="none" stroke="#000" stroke-width="1.6"/>
<line x1="394.20" y1="667.01" x2="402.00" y2="667.01" stroke="#000" stroke-width="1.6"/>
<text x="0.00" y="0.00" font-size="12" text-anchor="end" transform="translate(389.10,667.01) rotate(-90)">−0.6</text>
<line x1="414.58" y1="680.70" x2="414.58" y2="687.60" stroke="#000" stroke-width="1.6"/>
<text x="414.58" y="700.00" font-size="12" text-anchor="middle">−0.6</text>
<line x1="394.20" y1="598.43" x2="402.00" y2="598.43" stroke="#000" stroke-width="1.6"/>
<text x="0.00" y="0.00" font-size="12" text-anchor="end" transform="translate(389.10,598.43) rotate(-90)">−0.3</text>
<line x1="478.84" y1="680.70" x2="478.84" y2="687.60" stroke="#000" stroke-width="1.6"/>
<text x="478.84" y="700.00" font-size="12" text-anchor="middle">−0.3</text>
<line x1="394.20" y1="529.85" x2="402.00" y2="529.85" stroke="#000" stroke-width="1.6"/>
<text x="0.00" y="0.00" font-size="12" text-anchor="end" transform="translate(389.10,529.85) rotate(-90)">0.0</text>
<line x1="543.10" y1="680.70" x2="543.10" y2="687.60" stroke="#000" stroke-width="1.6"/>
<text x="543.10" y="700.00" font-size="12" text-anchor="middle">0.0</text>
<line x1="394.20" y1="461.27" x2="402.00" y2="461.27" stroke="#000" stroke-width="1.6"/>
<text x="0.00" y="0.00" font-size="12" text-anchor="end" transform="translate(389.10,461.27) rotate(-90)">0.3</text>
<line x1="607.36" y1="680.70" x2="607.36" y2="687.60" stroke="#000" stroke-width="1.6"/>
<text x="607.36" y="700.00" font-size="12" text-anchor="middle">0.3</text>
<line x1="394.20" y1="392.69" x2="402.00" y2="392.69" stroke="#000" stroke-width="1.6"/>
<text x="0.00" y="0.00" font-size="12" text-anchor="end" transform="translate(389.10,392.69) rotate(-90)">0.6</text>
<line x1="671.62" y1="680.70" x2="671.62" y2="687.60" stroke="#000" stroke-width="1.6"/>
<text x="671.62" y="700.00" font-size="12" text-anchor="middle">0.6</text>
<text x="543.10" y="719.8" font-size="14.2" text-anchor="middle"><tspan>β</tspan><tspan font-size="9.6" font-weight="bold" dy="2.6">H89</tspan><tspan font-weight="bold" dy="-2.6"> in PKA−intact cells</tspan></text>
<text transform="translate(372.6,529.85) rotate(-90)" x="0" y="0" font-size="14.2" text-anchor="middle"><tspan>β</tspan><tspan font-size="9.6" font-weight="bold" dy="2.6">H89</tspan><tspan font-weight="bold" dy="-2.6"> in PKA−null cells</tspan></text>
<text x="356.50" y="387.60" font-size="21" font-weight="bold">d</text>
<text x="424.00" y="391.10" font-size="11.4" font-weight="bold" fill="#2b3862">Significance</text>
<circle cx="412.9" cy="408.40" r="4.4" fill="#000000"/>
<text x="432.20" y="412.90" font-size="11.5">None</text>
<circle cx="412.9" cy="433.45" r="4.4" fill="#0000ff"/>
<text x="432.20" y="437.95" font-size="11.5">PKA−null only</text>
<circle cx="412.9" cy="458.50" r="4.4" fill="#c71585"/>
<text x="432.20" y="463.00" font-size="11.5">PKA−intact only</text>
<circle cx="412.9" cy="483.55" r="4.4" fill="#ee7600"/>
<text x="432.20" y="488.05" font-size="11.5">Both</text>
<text x="581.50" y="397.20" font-size="10"><tspan font-style="italic">R</tspan> = 0.53 , <tspan font-style="italic">p</tspan> &lt; 2.2e−16</text>
</svg>
</body></html>
